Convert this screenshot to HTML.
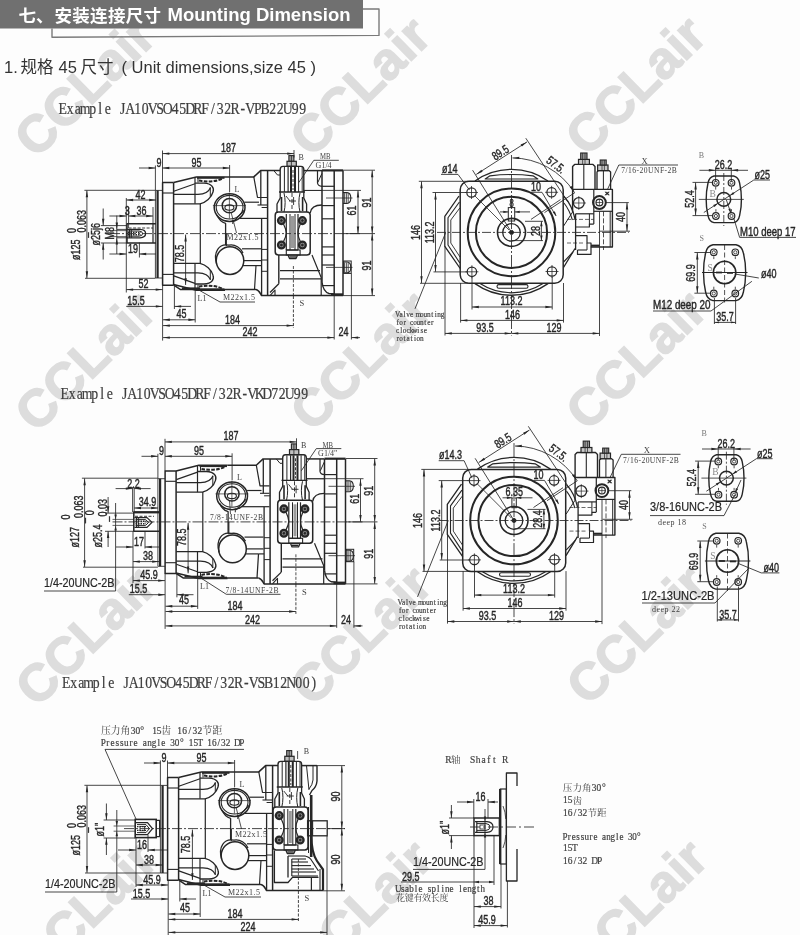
<!DOCTYPE html>
<html><head><meta charset="utf-8"><title>Mounting Dimension</title>
<style>html,body{margin:0;padding:0;background:#fdfdfd}svg{display:block;will-change:transform;filter:grayscale(1)}</style></head>
<body><svg width="800" height="935" viewBox="0 0 800 935">
<rect width="800" height="935" fill="#fdfdfd"/>
<text transform="translate(-240.0,-114.2) rotate(-44.5)" font-family="'Liberation Sans', sans-serif" font-weight="bold" font-size="52" fill="#dddddd" stroke="#dddddd" stroke-width="1.5" textLength="171" lengthAdjust="spacingAndGlyphs">CCLair</text>
<text transform="translate(35.5,-115.0) rotate(-44.5)" font-family="'Liberation Sans', sans-serif" font-weight="bold" font-size="52" fill="#dddddd" stroke="#dddddd" stroke-width="1.5" textLength="171" lengthAdjust="spacingAndGlyphs">CCLair</text>
<text transform="translate(311.0,-115.8) rotate(-44.5)" font-family="'Liberation Sans', sans-serif" font-weight="bold" font-size="52" fill="#dddddd" stroke="#dddddd" stroke-width="1.5" textLength="171" lengthAdjust="spacingAndGlyphs">CCLair</text>
<text transform="translate(586.5,-116.5) rotate(-44.5)" font-family="'Liberation Sans', sans-serif" font-weight="bold" font-size="52" fill="#dddddd" stroke="#dddddd" stroke-width="1.5" textLength="171" lengthAdjust="spacingAndGlyphs">CCLair</text>
<text transform="translate(862.0,-117.2) rotate(-44.5)" font-family="'Liberation Sans', sans-serif" font-weight="bold" font-size="52" fill="#dddddd" stroke="#dddddd" stroke-width="1.5" textLength="171" lengthAdjust="spacingAndGlyphs">CCLair</text>
<text transform="translate(-239.5,160.2) rotate(-44.5)" font-family="'Liberation Sans', sans-serif" font-weight="bold" font-size="52" fill="#dddddd" stroke="#dddddd" stroke-width="1.5" textLength="171" lengthAdjust="spacingAndGlyphs">CCLair</text>
<text transform="translate(36.0,159.5) rotate(-44.5)" font-family="'Liberation Sans', sans-serif" font-weight="bold" font-size="52" fill="#dddddd" stroke="#dddddd" stroke-width="1.5" textLength="171" lengthAdjust="spacingAndGlyphs">CCLair</text>
<text transform="translate(311.5,158.8) rotate(-44.5)" font-family="'Liberation Sans', sans-serif" font-weight="bold" font-size="52" fill="#dddddd" stroke="#dddddd" stroke-width="1.5" textLength="171" lengthAdjust="spacingAndGlyphs">CCLair</text>
<text transform="translate(587.0,158.0) rotate(-44.5)" font-family="'Liberation Sans', sans-serif" font-weight="bold" font-size="52" fill="#dddddd" stroke="#dddddd" stroke-width="1.5" textLength="171" lengthAdjust="spacingAndGlyphs">CCLair</text>
<text transform="translate(862.5,157.2) rotate(-44.5)" font-family="'Liberation Sans', sans-serif" font-weight="bold" font-size="52" fill="#dddddd" stroke="#dddddd" stroke-width="1.5" textLength="171" lengthAdjust="spacingAndGlyphs">CCLair</text>
<text transform="translate(-239.0,434.8) rotate(-44.5)" font-family="'Liberation Sans', sans-serif" font-weight="bold" font-size="52" fill="#dddddd" stroke="#dddddd" stroke-width="1.5" textLength="171" lengthAdjust="spacingAndGlyphs">CCLair</text>
<text transform="translate(36.5,434.0) rotate(-44.5)" font-family="'Liberation Sans', sans-serif" font-weight="bold" font-size="52" fill="#dddddd" stroke="#dddddd" stroke-width="1.5" textLength="171" lengthAdjust="spacingAndGlyphs">CCLair</text>
<text transform="translate(312.0,433.2) rotate(-44.5)" font-family="'Liberation Sans', sans-serif" font-weight="bold" font-size="52" fill="#dddddd" stroke="#dddddd" stroke-width="1.5" textLength="171" lengthAdjust="spacingAndGlyphs">CCLair</text>
<text transform="translate(587.5,432.5) rotate(-44.5)" font-family="'Liberation Sans', sans-serif" font-weight="bold" font-size="52" fill="#dddddd" stroke="#dddddd" stroke-width="1.5" textLength="171" lengthAdjust="spacingAndGlyphs">CCLair</text>
<text transform="translate(863.0,431.8) rotate(-44.5)" font-family="'Liberation Sans', sans-serif" font-weight="bold" font-size="52" fill="#dddddd" stroke="#dddddd" stroke-width="1.5" textLength="171" lengthAdjust="spacingAndGlyphs">CCLair</text>
<text transform="translate(-238.5,709.2) rotate(-44.5)" font-family="'Liberation Sans', sans-serif" font-weight="bold" font-size="52" fill="#dddddd" stroke="#dddddd" stroke-width="1.5" textLength="171" lengthAdjust="spacingAndGlyphs">CCLair</text>
<text transform="translate(37.0,708.5) rotate(-44.5)" font-family="'Liberation Sans', sans-serif" font-weight="bold" font-size="52" fill="#dddddd" stroke="#dddddd" stroke-width="1.5" textLength="171" lengthAdjust="spacingAndGlyphs">CCLair</text>
<text transform="translate(312.5,707.8) rotate(-44.5)" font-family="'Liberation Sans', sans-serif" font-weight="bold" font-size="52" fill="#dddddd" stroke="#dddddd" stroke-width="1.5" textLength="171" lengthAdjust="spacingAndGlyphs">CCLair</text>
<text transform="translate(588.0,707.0) rotate(-44.5)" font-family="'Liberation Sans', sans-serif" font-weight="bold" font-size="52" fill="#dddddd" stroke="#dddddd" stroke-width="1.5" textLength="171" lengthAdjust="spacingAndGlyphs">CCLair</text>
<text transform="translate(863.5,706.2) rotate(-44.5)" font-family="'Liberation Sans', sans-serif" font-weight="bold" font-size="52" fill="#dddddd" stroke="#dddddd" stroke-width="1.5" textLength="171" lengthAdjust="spacingAndGlyphs">CCLair</text>
<text transform="translate(-238.0,983.8) rotate(-44.5)" font-family="'Liberation Sans', sans-serif" font-weight="bold" font-size="52" fill="#dddddd" stroke="#dddddd" stroke-width="1.5" textLength="171" lengthAdjust="spacingAndGlyphs">CCLair</text>
<text transform="translate(37.5,983.0) rotate(-44.5)" font-family="'Liberation Sans', sans-serif" font-weight="bold" font-size="52" fill="#dddddd" stroke="#dddddd" stroke-width="1.5" textLength="171" lengthAdjust="spacingAndGlyphs">CCLair</text>
<text transform="translate(313.0,982.2) rotate(-44.5)" font-family="'Liberation Sans', sans-serif" font-weight="bold" font-size="52" fill="#dddddd" stroke="#dddddd" stroke-width="1.5" textLength="171" lengthAdjust="spacingAndGlyphs">CCLair</text>
<text transform="translate(588.5,981.5) rotate(-44.5)" font-family="'Liberation Sans', sans-serif" font-weight="bold" font-size="52" fill="#dddddd" stroke="#dddddd" stroke-width="1.5" textLength="171" lengthAdjust="spacingAndGlyphs">CCLair</text>
<text transform="translate(864.0,980.8) rotate(-44.5)" font-family="'Liberation Sans', sans-serif" font-weight="bold" font-size="52" fill="#dddddd" stroke="#dddddd" stroke-width="1.5" textLength="171" lengthAdjust="spacingAndGlyphs">CCLair</text>
<text transform="translate(-237.5,1258.2) rotate(-44.5)" font-family="'Liberation Sans', sans-serif" font-weight="bold" font-size="52" fill="#dddddd" stroke="#dddddd" stroke-width="1.5" textLength="171" lengthAdjust="spacingAndGlyphs">CCLair</text>
<text transform="translate(38.0,1257.5) rotate(-44.5)" font-family="'Liberation Sans', sans-serif" font-weight="bold" font-size="52" fill="#dddddd" stroke="#dddddd" stroke-width="1.5" textLength="171" lengthAdjust="spacingAndGlyphs">CCLair</text>
<text transform="translate(313.5,1256.8) rotate(-44.5)" font-family="'Liberation Sans', sans-serif" font-weight="bold" font-size="52" fill="#dddddd" stroke="#dddddd" stroke-width="1.5" textLength="171" lengthAdjust="spacingAndGlyphs">CCLair</text>
<text transform="translate(589.0,1256.0) rotate(-44.5)" font-family="'Liberation Sans', sans-serif" font-weight="bold" font-size="52" fill="#dddddd" stroke="#dddddd" stroke-width="1.5" textLength="171" lengthAdjust="spacingAndGlyphs">CCLair</text>
<text transform="translate(864.5,1255.2) rotate(-44.5)" font-family="'Liberation Sans', sans-serif" font-weight="bold" font-size="52" fill="#dddddd" stroke="#dddddd" stroke-width="1.5" textLength="171" lengthAdjust="spacingAndGlyphs">CCLair</text>
<rect x="0.00" y="0.00" width="363.00" height="28.50" rx="0.00" fill="#707070" stroke="none" stroke-width="0.00"/>
<polyline points="52.00,28.50 52.00,37.20 379.00,35.40 379.00,9.00 363.00,9.00" fill="none" stroke="#7a7a7a" stroke-width="1.40" stroke-linejoin="round"/>
<text x="18.5" y="21.5" font-family="'Liberation Sans', 'Noto Sans CJK SC', sans-serif" font-weight="bold" font-size="17.5" fill="#fff">七</text>
<text x="36" y="21.5" font-family="'Liberation Sans', 'Noto Sans CJK SC', sans-serif" font-weight="bold" font-size="17.5" fill="#fff">、</text>
<text x="54.5 72.3 90.1 107.9 125.7 143.5" y="21.5" font-family="'Liberation Sans', 'Noto Sans CJK SC', sans-serif" font-weight="bold" font-size="17.5" fill="#fff">安装连接尺寸</text>
<text x="167.5" y="21.3" font-family="'Liberation Sans', sans-serif" font-weight="bold" font-size="18" fill="#fff" textLength="183" lengthAdjust="spacingAndGlyphs">Mounting Dimension</text>
<text x="4" y="72.5" font-family="'Liberation Sans', sans-serif" font-size="16.5" fill="#333">1.</text>
<text x="20.5 37" y="73" font-family="'Liberation Sans', 'Noto Sans CJK SC', sans-serif" font-size="16.5" fill="#333">规格</text>
<text x="58.5" y="72.5" font-family="'Liberation Sans', sans-serif" font-size="16.5" fill="#333">45</text>
<text x="80.5 97" y="73" font-family="'Liberation Sans', 'Noto Sans CJK SC', sans-serif" font-size="16.5" fill="#333">尺寸</text>
<text x="121.5" y="72.5" font-family="'Liberation Sans', sans-serif" font-size="16.5" fill="#333" textLength="194.5" lengthAdjust="spacingAndGlyphs">( Unit dimensions,size 45 )</text>
<text transform="translate(59.00,114.00) scale(1,1.140)" x="3.8 11.2 18.8 26.2 33.8 41.2 48.8 56.2 63.8 71.2 78.8 86.2 93.8 101.2 108.8 116.2 123.8 131.2 138.8 146.2 153.8 161.2 168.8 176.2 183.8 191.2 198.8 206.2 213.8 221.2 228.8 236.2 243.8" text-anchor="middle" font-family="'Liberation Serif', serif" font-size="13.75" fill="#3e3e3e" stroke="#3e3e3e" stroke-width="0.18">Example JA10VSO45DRF/32R-VPB22U99</text>
<text transform="translate(61.00,398.50) scale(1,1.140)" x="3.8 11.2 18.8 26.2 33.8 41.2 48.8 56.2 63.8 71.2 78.8 86.2 93.8 101.2 108.8 116.2 123.8 131.2 138.8 146.2 153.8 161.2 168.8 176.2 183.8 191.2 198.8 206.2 213.8 221.2 228.8 236.2 243.8" text-anchor="middle" font-family="'Liberation Serif', serif" font-size="13.75" fill="#3e3e3e" stroke="#3e3e3e" stroke-width="0.18">Example JA10VSO45DRF/32R-VKD72U99</text>
<text transform="translate(62.50,687.50) scale(1,1.140)" x="3.8 11.2 18.8 26.2 33.8 41.2 48.8 56.2 63.8 71.2 78.8 86.2 93.8 101.2 108.8 116.2 123.8 131.2 138.8 146.2 153.8 161.2 168.8 176.2 183.8 191.2 198.8 206.2 213.8 221.2 228.8 236.2 243.8 251.2" text-anchor="middle" font-family="'Liberation Serif', serif" font-size="13.75" fill="#3e3e3e" stroke="#3e3e3e" stroke-width="0.18">Example JA10VSO45DRF/32R-VSB12N00)</text>
<line x1="155.40" y1="190.40" x2="155.40" y2="278.00" stroke="#262626" stroke-width="0.85"/>
<line x1="157.60" y1="190.40" x2="157.60" y2="278.00" stroke="#262626" stroke-width="2.20"/>
<line x1="155.40" y1="190.40" x2="162.50" y2="190.40" stroke="#262626" stroke-width="0.85"/>
<line x1="155.40" y1="278.00" x2="162.50" y2="278.00" stroke="#262626" stroke-width="0.85"/>
<polyline points="173.60,182.60 162.60,182.60 162.60,285.20 173.60,285.20" fill="none" stroke="#262626" stroke-width="1.50" stroke-linejoin="round"/>
<line x1="173.60" y1="182.60" x2="173.60" y2="285.20" stroke="#262626" stroke-width="1.50"/>
<line x1="162.60" y1="193.00" x2="173.60" y2="193.00" stroke="#262626" stroke-width="1.10"/>
<line x1="162.60" y1="274.40" x2="173.60" y2="274.40" stroke="#262626" stroke-width="1.10"/>
<polyline points="173.60,182.60 196.30,176.90 225.00,176.90" fill="none" stroke="#262626" stroke-width="1.50" stroke-linejoin="round"/>
<line x1="173.80" y1="191.30" x2="195.00" y2="183.80" stroke="#262626" stroke-width="1.20"/>
<line x1="195.00" y1="177.20" x2="195.00" y2="203.80" stroke="#262626" stroke-width="1.20"/>
<line x1="198.00" y1="177.20" x2="198.00" y2="182.50" stroke="#262626" stroke-width="1.00"/>
<path transform="translate(0.00,0.00)" d="M195 183.20 H204 C212 183.60 214.5 188.00 213 192.00 C211.5 197.50 206 202.50 200 203.80 H173.8" fill="none" stroke="#262626" stroke-width="1.30" stroke-linecap="butt" stroke-linejoin="round"/>
<path transform="translate(0.00,0.00)" d="M173.8 194.40 H198 C205 194.20 209 191.50 210.5 187.50" fill="none" stroke="#262626" stroke-width="1.20" stroke-linecap="butt" stroke-linejoin="round"/>
<line x1="210.30" y1="187.50" x2="210.30" y2="197.00" stroke="#262626" stroke-width="1.00"/>
<line x1="200.30" y1="203.80" x2="200.30" y2="233.60" stroke="#262626" stroke-width="1.20"/>
<polyline points="173.60,284.60 196.30,290.30 225.00,290.30" fill="none" stroke="#262626" stroke-width="1.50" stroke-linejoin="round"/>
<line x1="173.80" y1="275.90" x2="195.00" y2="283.40" stroke="#262626" stroke-width="1.20"/>
<line x1="195.00" y1="290.00" x2="195.00" y2="263.40" stroke="#262626" stroke-width="1.20"/>
<line x1="198.00" y1="290.00" x2="198.00" y2="284.70" stroke="#262626" stroke-width="1.00"/>
<path transform="translate(0.00,0.00)" d="M195 284.00 H204 C212 283.60 214.5 279.20 213 275.20 C211.5 269.70 206 264.70 200 263.40 H173.8" fill="none" stroke="#262626" stroke-width="1.30" stroke-linecap="butt" stroke-linejoin="round"/>
<path transform="translate(0.00,0.00)" d="M173.8 272.80 H198 C205 273.00 209 275.70 210.5 279.70" fill="none" stroke="#262626" stroke-width="1.20" stroke-linecap="butt" stroke-linejoin="round"/>
<line x1="210.30" y1="279.70" x2="210.30" y2="270.20" stroke="#262626" stroke-width="1.00"/>
<line x1="200.30" y1="263.40" x2="200.30" y2="233.60" stroke="#262626" stroke-width="1.20"/>
<path transform="translate(0.00,0.00)" d="M197 177.8 H224.5" fill="none" stroke="#262626" stroke-width="2.00" stroke-linecap="butt" stroke-linejoin="round"/>
<path transform="translate(0.00,0.00)" d="M199 180.6 C206 182 216 182 222.5 178.4" fill="none" stroke="#262626" stroke-width="2.00" stroke-linecap="butt" stroke-linejoin="round" stroke-dasharray="3.6 1.3"/>
<path transform="translate(0.00,0.00)" d="M197 289.4 H224.5" fill="none" stroke="#262626" stroke-width="2.00" stroke-linecap="butt" stroke-linejoin="round"/>
<path transform="translate(0.00,0.00)" d="M199 286.6 C206 285.2 216 285.2 222.5 288.8" fill="none" stroke="#262626" stroke-width="2.00" stroke-linecap="butt" stroke-linejoin="round" stroke-dasharray="3.6 1.3"/>
<line x1="110.00" y1="233.60" x2="361.00" y2="233.60" stroke="#262626" stroke-width="0.85" stroke-dasharray="10 2 2 2"/>
<ellipse cx="229.60" cy="207.60" rx="15.40" ry="13.80" fill="none" stroke="#262626" stroke-width="1.50"/>
<ellipse cx="229.60" cy="207.20" rx="13.40" ry="11.80" fill="none" stroke="#262626" stroke-width="1.10"/>
<circle cx="229.40" cy="205.60" r="7.20" fill="none" stroke="#262626" stroke-width="1.50"/>
<ellipse cx="229.40" cy="207.60" rx="4.50" ry="2.70" fill="none" stroke="#262626" stroke-width="1.10"/>
<line x1="212.90" y1="205.60" x2="245.90" y2="205.60" stroke="#262626" stroke-width="0.70"/>
<line x1="229.40" y1="192.60" x2="229.40" y2="218.60" stroke="#262626" stroke-width="0.70"/>
<path transform="translate(0.00,0.00)" d="M217 215 C219 220 222.5 222.5 225.6 223.4 V245.10" fill="none" stroke="#262626" stroke-width="1.30" stroke-linecap="butt" stroke-linejoin="round"/>
<path transform="translate(0.00,0.00)" d="M244 210.5 L233.5 221.5" fill="none" stroke="#262626" stroke-width="1.20" stroke-linecap="butt" stroke-linejoin="round"/>
<line x1="232.80" y1="220.00" x2="232.80" y2="224.00" stroke="#262626" stroke-width="1.00"/>
<line x1="244.60" y1="202.20" x2="259.00" y2="202.20" stroke="#262626" stroke-width="1.20"/>
<line x1="239.50" y1="218.40" x2="267.00" y2="218.40" stroke="#262626" stroke-width="1.20"/>
<circle cx="230.00" cy="260.60" r="13.80" fill="none" stroke="#262626" stroke-width="1.50"/>
<path transform="translate(0.00,0.00)" d="M216.6 264 C213 252 219 243 229 245.2 C235 244 241 248 243 253" fill="none" stroke="#262626" stroke-width="1.30" stroke-linecap="butt" stroke-linejoin="round"/>
<line x1="242.00" y1="248.80" x2="261.00" y2="248.80" stroke="#262626" stroke-width="1.20"/>
<line x1="244.00" y1="260.60" x2="261.00" y2="260.60" stroke="#262626" stroke-width="1.20"/>
<line x1="243.00" y1="265.60" x2="256.00" y2="265.60" stroke="#262626" stroke-width="1.20"/>
<line x1="226.30" y1="233.60" x2="226.30" y2="246.00" stroke="#262626" stroke-width="1.20"/>
<polyline points="173.80,285.20 180.60,289.60 256.00,289.60" fill="none" stroke="#262626" stroke-width="1.50" stroke-linejoin="round"/>
<line x1="182.00" y1="288.20" x2="200.00" y2="288.20" stroke="#262626" stroke-width="1.60"/>
<polyline points="225.00,176.90 253.80,176.90 260.60,170.60 280.00,170.60" fill="none" stroke="#262626" stroke-width="1.50" stroke-linejoin="round"/>
<line x1="303.80" y1="170.60" x2="322.00" y2="170.60" stroke="#262626" stroke-width="1.50"/>
<line x1="322.00" y1="170.40" x2="343.00" y2="170.40" stroke="#262626" stroke-width="2.20"/>
<polyline points="253.80,176.90 257.50,197.50 267.00,197.50" fill="none" stroke="#262626" stroke-width="1.20" stroke-linejoin="round"/>
<line x1="257.50" y1="205.00" x2="267.00" y2="205.00" stroke="#262626" stroke-width="1.10"/>
<line x1="260.80" y1="170.60" x2="260.80" y2="205.00" stroke="#262626" stroke-width="1.30"/>
<line x1="261.60" y1="218.80" x2="261.60" y2="295.60" stroke="#262626" stroke-width="1.30"/>
<line x1="267.60" y1="170.60" x2="267.60" y2="295.60" stroke="#262626" stroke-width="1.50"/>
<polyline points="273.80,170.60 277.50,175.00 280.00,175.00" fill="none" stroke="#262626" stroke-width="1.00" stroke-linejoin="round"/>
<line x1="261.60" y1="207.50" x2="267.60" y2="207.50" stroke="#262626" stroke-width="1.00"/>
<line x1="261.60" y1="249.40" x2="267.60" y2="249.40" stroke="#262626" stroke-width="1.00"/>
<line x1="261.60" y1="260.00" x2="267.60" y2="260.00" stroke="#262626" stroke-width="1.00"/>
<line x1="261.60" y1="271.30" x2="267.60" y2="271.30" stroke="#262626" stroke-width="1.00"/>
<line x1="256.00" y1="265.60" x2="261.60" y2="265.60" stroke="#262626" stroke-width="1.20"/>
<polyline points="256.00,265.60 254.50,289.60" fill="none" stroke="#262626" stroke-width="1.20" stroke-linejoin="round"/>
<path transform="translate(0.00,0.00)" d="M317.5 170.6 V183 Q318 186 322 186.4" fill="none" stroke="#262626" stroke-width="1.20" stroke-linecap="butt" stroke-linejoin="round"/>
<line x1="321.90" y1="173.50" x2="317.80" y2="182.50" stroke="#262626" stroke-width="1.00"/>
<line x1="303.80" y1="190.50" x2="322.00" y2="190.50" stroke="#262626" stroke-width="0.85"/>
<path transform="translate(0.00,0.00)" d="M310.2 213 C311 207 315 205 322 205" fill="none" stroke="#262626" stroke-width="1.30" stroke-linecap="butt" stroke-linejoin="round"/>
<line x1="322.00" y1="170.60" x2="322.00" y2="282.00" stroke="#262626" stroke-width="1.50"/>
<line x1="334.20" y1="170.60" x2="334.20" y2="295.60" stroke="#262626" stroke-width="1.50"/>
<line x1="343.00" y1="170.60" x2="343.00" y2="295.60" stroke="#262626" stroke-width="1.50"/>
<line x1="322.00" y1="186.30" x2="334.20" y2="186.30" stroke="#262626" stroke-width="1.20"/>
<line x1="322.00" y1="205.60" x2="334.20" y2="205.60" stroke="#262626" stroke-width="1.20"/>
<line x1="322.00" y1="218.80" x2="334.20" y2="218.80" stroke="#262626" stroke-width="1.20"/>
<line x1="322.00" y1="246.90" x2="334.20" y2="246.90" stroke="#262626" stroke-width="1.20"/>
<line x1="322.00" y1="255.00" x2="334.20" y2="255.00" stroke="#262626" stroke-width="1.20"/>
<line x1="322.00" y1="265.00" x2="334.20" y2="265.00" stroke="#262626" stroke-width="1.20"/>
<line x1="322.00" y1="285.60" x2="334.20" y2="285.60" stroke="#262626" stroke-width="1.20"/>
<path transform="translate(0.00,0.00)" d="M322 282 Q323 291.5 329 293.5 L334.2 294" fill="none" stroke="#262626" stroke-width="1.40" stroke-linecap="butt" stroke-linejoin="round"/>
<polyline points="312.00,255.00 321.20,277.50 321.20,295.60" fill="none" stroke="#262626" stroke-width="1.20" stroke-linejoin="round"/>
<line x1="278.80" y1="255.00" x2="278.80" y2="283.80" stroke="#262626" stroke-width="1.40"/>
<polyline points="278.80,283.80 270.00,292.50" fill="none" stroke="#262626" stroke-width="1.30" stroke-linejoin="round"/>
<polyline points="270.00,295.60 275.00,290.00 275.00,295.60" fill="none" stroke="#262626" stroke-width="1.10" stroke-linejoin="round"/>
<line x1="280.00" y1="270.60" x2="320.00" y2="270.60" stroke="#262626" stroke-width="1.20"/>
<line x1="280.00" y1="278.80" x2="321.00" y2="278.80" stroke="#262626" stroke-width="1.20"/>
<path transform="translate(0.00,0.00)" d="M256 289.6 C259 290 260 293 261.6 295.6 H343" fill="none" stroke="#262626" stroke-width="1.50" stroke-linecap="butt" stroke-linejoin="round"/>
<line x1="331.00" y1="294.60" x2="343.00" y2="294.60" stroke="#262626" stroke-width="2.60"/>
<path transform="translate(0.00,0.00)" d="M343 192.60 H347 Q350.8 192.80 350.8 198.00 Q350.8 203.20 347 203.40 H343" fill="none" stroke="#262626" stroke-width="1.10" stroke-linecap="butt" stroke-linejoin="round"/>
<line x1="344.60" y1="193.20" x2="344.60" y2="202.80" stroke="#262626" stroke-width="0.80"/>
<line x1="346.40" y1="193.20" x2="346.40" y2="202.80" stroke="#262626" stroke-width="0.80"/>
<line x1="348.20" y1="193.20" x2="348.20" y2="202.80" stroke="#262626" stroke-width="0.80"/>
<line x1="326.00" y1="198.00" x2="352.50" y2="198.00" stroke="#262626" stroke-width="0.80"/>
<path transform="translate(0.00,0.00)" d="M343 262.00 H347 Q350.8 262.20 350.8 267.40 Q350.8 272.60 347 272.80 H343" fill="none" stroke="#262626" stroke-width="1.10" stroke-linecap="butt" stroke-linejoin="round"/>
<line x1="344.60" y1="262.60" x2="344.60" y2="272.20" stroke="#262626" stroke-width="0.80"/>
<line x1="346.40" y1="262.60" x2="346.40" y2="272.20" stroke="#262626" stroke-width="0.80"/>
<line x1="348.20" y1="262.60" x2="348.20" y2="272.20" stroke="#262626" stroke-width="0.80"/>
<line x1="326.00" y1="267.40" x2="352.50" y2="267.40" stroke="#262626" stroke-width="0.80"/>
<rect x="343.60" y="261.00" width="7.60" height="12.40" rx="0.00" fill="none" stroke="#262626" stroke-width="1.00"/>
<line x1="293.40" y1="266.00" x2="293.40" y2="296.00" stroke="#262626" stroke-width="0.80" stroke-dasharray="3 1.5"/>
<rect x="288.90" y="155.60" width="5.00" height="5.80" rx="0.00" fill="#a0a0a0" stroke="#262626" stroke-width="1.10"/>
<rect x="287.00" y="161.30" width="9.30" height="5.00" rx="0.00" fill="#c0c0c0" stroke="#262626" stroke-width="1.20"/>
<line x1="291.40" y1="155.60" x2="291.40" y2="166.00" stroke="#262626" stroke-width="0.80"/>
<path transform="translate(0.00,0.00)" d="M280.20 192 V169.5 Q280.20 166.4 283.00 166.4 H301.00 Q303.80 166.4 303.80 169.5 V192" fill="none" stroke="#262626" stroke-width="1.40" stroke-linecap="butt" stroke-linejoin="round"/>
<line x1="284.40" y1="167.00" x2="284.40" y2="192.00" stroke="#262626" stroke-width="1.00"/>
<line x1="288.10" y1="167.00" x2="288.10" y2="192.00" stroke="#262626" stroke-width="1.20"/>
<line x1="291.00" y1="167.00" x2="291.00" y2="192.00" stroke="#262626" stroke-width="2.00"/>
<line x1="295.00" y1="167.00" x2="295.00" y2="192.00" stroke="#262626" stroke-width="2.00"/>
<line x1="298.60" y1="167.00" x2="298.60" y2="192.00" stroke="#262626" stroke-width="1.00"/>
<line x1="302.20" y1="167.00" x2="302.20" y2="192.00" stroke="#262626" stroke-width="0.90"/>
<line x1="293.00" y1="170.00" x2="293.00" y2="190.00" stroke="#262626" stroke-width="0.90" stroke-dasharray="3 1.5"/>
<path transform="translate(0.00,0.00)" d="M279.00 192 H305.00 M280.20 192 V198 L277.00 204 V212 M303.80 192 V198 L306.60 204 V212" fill="none" stroke="#262626" stroke-width="1.30" stroke-linecap="butt" stroke-linejoin="round"/>
<path transform="translate(0.00,0.00)" d="M284.00 193 C285.50 199 285.50 206 284.00 212 M300.00 193 C298.50 199 298.50 206 300.00 212" fill="none" stroke="#262626" stroke-width="1.00" stroke-linecap="butt" stroke-linejoin="round"/>
<line x1="281.50" y1="197.00" x2="281.50" y2="211.00" stroke="#262626" stroke-width="1.60"/>
<line x1="302.60" y1="197.00" x2="302.60" y2="211.00" stroke="#262626" stroke-width="1.60"/>
<line x1="292.00" y1="193.00" x2="292.00" y2="211.00" stroke="#262626" stroke-width="0.90" stroke-dasharray="4 2"/>
<path transform="translate(0.00,0.00)" d="M286.00 196 L290.00 201 M289.00 201 H296.00 M293.60 197 V205" fill="none" stroke="#262626" stroke-width="0.90" stroke-linecap="butt" stroke-linejoin="round"/>
<rect x="275.20" y="212.00" width="35.00" height="43.00" rx="3.20" fill="none" stroke="#262626" stroke-width="1.50"/>
<circle cx="281.40" cy="220.60" r="3.40" fill="#8a8a8a" stroke="#262626" stroke-width="2.30"/>
<circle cx="281.40" cy="220.60" r="1.00" fill="#262626" stroke="#262626" stroke-width="0.80"/>
<circle cx="302.40" cy="220.60" r="3.40" fill="#8a8a8a" stroke="#262626" stroke-width="2.30"/>
<circle cx="302.40" cy="220.60" r="1.00" fill="#262626" stroke="#262626" stroke-width="0.80"/>
<circle cx="281.40" cy="245.00" r="3.40" fill="#8a8a8a" stroke="#262626" stroke-width="2.30"/>
<circle cx="281.40" cy="245.00" r="1.00" fill="#262626" stroke="#262626" stroke-width="0.80"/>
<circle cx="302.40" cy="245.00" r="3.40" fill="#8a8a8a" stroke="#262626" stroke-width="2.30"/>
<circle cx="302.40" cy="245.00" r="1.00" fill="#262626" stroke="#262626" stroke-width="0.80"/>
<line x1="286.30" y1="214.00" x2="286.30" y2="250.00" stroke="#262626" stroke-width="1.20"/>
<line x1="290.00" y1="214.00" x2="290.00" y2="250.00" stroke="#262626" stroke-width="1.00"/>
<line x1="295.00" y1="214.00" x2="295.00" y2="250.00" stroke="#262626" stroke-width="1.00"/>
<line x1="298.00" y1="214.00" x2="298.00" y2="250.00" stroke="#262626" stroke-width="1.20"/>
<rect x="291.00" y="216.00" width="3.00" height="32.00" rx="0.00" fill="#9a9a9a" stroke="none" stroke-width="0.00"/>
<path transform="translate(0.00,0.00)" d="M283.50 224 Q286.00 229 286.30 233 M300.30 224 Q298.00 229 298.00 233 M283.50 241.6 Q286.00 237 286.30 233 M300.30 241.6 Q298.00 237 298.00 233" fill="none" stroke="#262626" stroke-width="1.20" stroke-linecap="butt" stroke-linejoin="round"/>
<line x1="286.30" y1="250.00" x2="298.00" y2="250.00" stroke="#262626" stroke-width="1.20"/>
<rect x="286.30" y="250.00" width="13.80" height="5.00" rx="0.00" fill="none" stroke="#262626" stroke-width="1.10"/>
<path transform="translate(0.00,0.00)" d="M288.00 255 L289.50 258.6 H296.00 L297.60 255" fill="none" stroke="#262626" stroke-width="1.30" stroke-linecap="butt" stroke-linejoin="round"/>
<line x1="289.50" y1="257.00" x2="296.00" y2="257.00" stroke="#262626" stroke-width="1.40"/>
<line x1="162.50" y1="150.50" x2="162.50" y2="182.60" stroke="#262626" stroke-width="0.85"/>
<line x1="294.00" y1="150.00" x2="294.00" y2="157.50" stroke="#262626" stroke-width="0.85"/>
<line x1="162.50" y1="153.60" x2="294.00" y2="153.60" stroke="#262626" stroke-width="0.85"/>
<polygon points="162.50,153.60 169.30,152.40 169.30,154.80" fill="#262626"/>
<polygon points="294.00,153.60 287.20,154.80 287.20,152.40" fill="#262626"/>
<text transform="translate(228.50,152.00) scale(0.7500,1.0000)" font-family="'Liberation Sans', sans-serif" font-size="12.00" font-weight="normal" text-anchor="middle" fill="#262626" stroke="#262626" stroke-width="0.40">187</text>
<line x1="155.40" y1="165.50" x2="155.40" y2="190.40" stroke="#262626" stroke-width="0.85"/>
<line x1="229.60" y1="165.00" x2="229.60" y2="192.00" stroke="#262626" stroke-width="0.85"/>
<line x1="139.00" y1="168.00" x2="155.40" y2="168.00" stroke="#262626" stroke-width="0.85"/>
<polygon points="155.40,168.00 148.60,169.20 148.60,166.80" fill="#262626"/>
<line x1="162.50" y1="168.00" x2="229.60" y2="168.00" stroke="#262626" stroke-width="0.85"/>
<polygon points="162.50,168.00 169.30,166.80 169.30,169.20" fill="#262626"/>
<polygon points="229.60,168.00 222.80,169.20 222.80,166.80" fill="#262626"/>
<text transform="translate(159.00,167.00) scale(0.7500,1.0000)" font-family="'Liberation Sans', sans-serif" font-size="12.00" font-weight="normal" text-anchor="middle" fill="#262626" stroke="#262626" stroke-width="0.40">9</text>
<text transform="translate(196.50,166.60) scale(0.7500,1.0000)" font-family="'Liberation Sans', sans-serif" font-size="12.00" font-weight="normal" text-anchor="middle" fill="#262626" stroke="#262626" stroke-width="0.40">95</text>
<line x1="185.60" y1="234.60" x2="185.60" y2="285.00" stroke="#262626" stroke-width="0.85"/>
<polygon points="185.60,234.60 186.80,241.40 184.40,241.40" fill="#262626"/>
<polygon points="185.60,285.00 184.40,278.20 186.80,278.20" fill="#262626"/>
<text transform="translate(183.60,253.50) rotate(-90.00) scale(0.7500,1.0000)" font-family="'Liberation Sans', sans-serif" font-size="12.00" font-weight="normal" text-anchor="middle" fill="#262626" stroke="#262626" stroke-width="0.40">78.5</text>
<line x1="162.60" y1="285.20" x2="162.60" y2="340.60" stroke="#262626" stroke-width="0.85"/>
<line x1="174.40" y1="285.20" x2="174.40" y2="309.00" stroke="#262626" stroke-width="0.85"/>
<line x1="126.30" y1="306.40" x2="162.60" y2="306.40" stroke="#262626" stroke-width="0.85"/>
<polygon points="162.60,306.40 155.80,307.60 155.80,305.20" fill="#262626"/>
<line x1="174.40" y1="306.40" x2="191.00" y2="306.40" stroke="#262626" stroke-width="0.85"/>
<polygon points="174.40,306.40 181.20,305.20 181.20,307.60" fill="#262626"/>
<text transform="translate(136.00,305.00) scale(0.7500,1.0000)" font-family="'Liberation Sans', sans-serif" font-size="12.00" font-weight="normal" text-anchor="middle" fill="#262626" stroke="#262626" stroke-width="0.40">15.5</text>
<line x1="195.20" y1="289.60" x2="195.20" y2="322.50" stroke="#262626" stroke-width="0.85"/>
<line x1="163.00" y1="319.80" x2="195.20" y2="319.80" stroke="#262626" stroke-width="0.85"/>
<polygon points="163.00,319.80 169.80,318.60 169.80,321.00" fill="#262626"/>
<polygon points="195.20,319.80 188.40,321.00 188.40,318.60" fill="#262626"/>
<text transform="translate(181.50,317.60) scale(0.7500,1.0000)" font-family="'Liberation Sans', sans-serif" font-size="12.00" font-weight="normal" text-anchor="middle" fill="#262626" stroke="#262626" stroke-width="0.40">45</text>
<line x1="293.40" y1="296.00" x2="293.40" y2="328.00" stroke="#262626" stroke-width="0.85" stroke-dasharray="3 1.5"/>
<line x1="163.00" y1="325.60" x2="293.40" y2="325.60" stroke="#262626" stroke-width="0.85"/>
<polygon points="163.00,325.60 169.80,324.40 169.80,326.80" fill="#262626"/>
<polygon points="293.40,325.60 286.60,326.80 286.60,324.40" fill="#262626"/>
<text transform="translate(232.50,323.60) scale(0.7500,1.0000)" font-family="'Liberation Sans', sans-serif" font-size="12.00" font-weight="normal" text-anchor="middle" fill="#262626" stroke="#262626" stroke-width="0.40">184</text>
<text transform="translate(234.50,191.50)" font-family="'Liberation Serif', sans-serif" font-size="8.00" font-weight="normal" text-anchor="start" fill="#3e3e3e">L</text>
<text transform="translate(197.50,301.00)" font-family="'Liberation Serif', sans-serif" font-size="8.00" font-weight="normal" text-anchor="start" fill="#3e3e3e">L1</text>
<text transform="translate(299.40,306.30)" font-family="'Liberation Serif', sans-serif" font-size="8.50" font-weight="normal" text-anchor="start" fill="#3e3e3e">S</text>
<text transform="translate(298.60,160.00)" font-family="'Liberation Serif', sans-serif" font-size="8.00" font-weight="normal" text-anchor="start" fill="#3e3e3e">B</text>
<line x1="334.20" y1="295.60" x2="334.20" y2="339.50" stroke="#262626" stroke-width="0.85"/>
<line x1="351.40" y1="273.50" x2="351.40" y2="339.50" stroke="#262626" stroke-width="0.85"/>
<line x1="163.00" y1="337.60" x2="334.20" y2="337.60" stroke="#262626" stroke-width="0.85"/>
<polygon points="163.00,337.60 169.80,336.40 169.80,338.80" fill="#262626"/>
<polygon points="334.20,337.60 327.40,338.80 327.40,336.40" fill="#262626"/>
<text transform="translate(250.00,336.00) scale(0.7500,1.0000)" font-family="'Liberation Sans', sans-serif" font-size="12.00" font-weight="normal" text-anchor="middle" fill="#262626" stroke="#262626" stroke-width="0.40">242</text>
<line x1="351.40" y1="337.60" x2="360.00" y2="337.60" stroke="#262626" stroke-width="0.85"/>
<polygon points="351.40,337.60 358.20,336.40 358.20,338.80" fill="#262626"/>
<text transform="translate(343.50,336.00) scale(0.7500,1.0000)" font-family="'Liberation Sans', sans-serif" font-size="12.00" font-weight="normal" text-anchor="middle" fill="#262626" stroke="#262626" stroke-width="0.40">24</text>
<line x1="343.00" y1="170.20" x2="375.00" y2="170.20" stroke="#262626" stroke-width="0.85"/>
<line x1="343.00" y1="233.60" x2="375.00" y2="233.60" stroke="#262626" stroke-width="0.85"/>
<line x1="343.00" y1="295.60" x2="375.00" y2="295.60" stroke="#262626" stroke-width="0.85"/>
<line x1="303.80" y1="190.40" x2="361.00" y2="190.40" stroke="#262626" stroke-width="0.85"/>
<line x1="372.20" y1="170.40" x2="372.20" y2="233.40" stroke="#262626" stroke-width="0.85"/>
<polygon points="372.20,170.40 373.40,177.20 371.00,177.20" fill="#262626"/>
<polygon points="372.20,233.40 371.00,226.60 373.40,226.60" fill="#262626"/>
<line x1="372.20" y1="233.80" x2="372.20" y2="295.40" stroke="#262626" stroke-width="0.85"/>
<polygon points="372.20,233.80 373.40,240.60 371.00,240.60" fill="#262626"/>
<polygon points="372.20,295.40 371.00,288.60 373.40,288.60" fill="#262626"/>
<line x1="358.00" y1="190.60" x2="358.00" y2="233.40" stroke="#262626" stroke-width="0.85"/>
<polygon points="358.00,190.60 359.20,197.40 356.80,197.40" fill="#262626"/>
<polygon points="358.00,233.40 356.80,226.60 359.20,226.60" fill="#262626"/>
<text transform="translate(370.60,202.50) rotate(-90.00) scale(0.7500,1.0000)" font-family="'Liberation Sans', sans-serif" font-size="12.00" font-weight="normal" text-anchor="middle" fill="#262626" stroke="#262626" stroke-width="0.40">91</text>
<text transform="translate(370.60,265.50) rotate(-90.00) scale(0.7500,1.0000)" font-family="'Liberation Sans', sans-serif" font-size="12.00" font-weight="normal" text-anchor="middle" fill="#262626" stroke="#262626" stroke-width="0.40">91</text>
<text transform="translate(356.30,210.50) rotate(-90.00) scale(0.7500,1.0000)" font-family="'Liberation Sans', sans-serif" font-size="12.00" font-weight="normal" text-anchor="middle" fill="#262626" stroke="#262626" stroke-width="0.40">61</text>
<polyline points="298.80,182.50 313.80,160.30 338.80,160.30" fill="none" stroke="#262626" stroke-width="0.85" stroke-linejoin="round"/>
<text transform="translate(320.00,159.30) scale(0.9000,1.0000)" font-family="'Liberation Serif', sans-serif" font-size="7.50" font-weight="normal" text-anchor="start" fill="#3e3e3e">MB</text>
<text transform="translate(315.60,168.00)" font-family="'Liberation Serif', sans-serif" font-size="8.00" font-weight="normal" text-anchor="start" fill="#3e3e3e">G1/4</text>
<text transform="translate(226.50,240.00)" font-family="'Liberation Serif', sans-serif" font-size="8.00" font-weight="normal" text-anchor="start" fill="#3e3e3e" letter-spacing="0.50">M22x1.5</text>
<polyline points="198.80,290.00 220.00,302.00 255.00,302.00" fill="none" stroke="#262626" stroke-width="0.85" stroke-linejoin="round"/>
<text transform="translate(223.00,300.00)" font-family="'Liberation Serif', sans-serif" font-size="8.00" font-weight="normal" text-anchor="start" fill="#3e3e3e" letter-spacing="0.50">M22x1.5</text>
<line x1="231.00" y1="212.00" x2="236.50" y2="233.00" stroke="#262626" stroke-width="0.80"/>
<polyline points="156.00,223.80 127.00,223.80 127.00,243.00 156.00,243.00" fill="none" stroke="#262626" stroke-width="1.50" stroke-linejoin="round"/>
<line x1="153.00" y1="223.80" x2="153.00" y2="243.00" stroke="#262626" stroke-width="1.20"/>
<line x1="128.60" y1="228.00" x2="153.00" y2="228.00" stroke="#262626" stroke-width="0.90" stroke-dasharray="3 1.5"/>
<path transform="translate(0.00,0.00)" d="M127 229.4 H140 Q145.6 229.6 145.6 233.6 Q145.6 237.6 140 237.8 H127" fill="none" stroke="#262626" stroke-width="1.30" stroke-linecap="butt" stroke-linejoin="round"/>
<path transform="translate(0.00,0.00)" d="M128 231 H139 Q142.6 231.2 142.6 233.6 Q142.6 236 139 236.2 H128" fill="none" stroke="#262626" stroke-width="1.00" stroke-linecap="butt" stroke-linejoin="round"/>
<line x1="128.00" y1="232.40" x2="141.00" y2="232.40" stroke="#262626" stroke-width="1.40" stroke-dasharray="1.5 1"/>
<line x1="128.00" y1="234.80" x2="141.00" y2="234.80" stroke="#262626" stroke-width="1.40" stroke-dasharray="1.5 1"/>
<line x1="129.60" y1="229.40" x2="129.60" y2="237.80" stroke="#262626" stroke-width="1.30"/>
<line x1="131.60" y1="229.40" x2="131.60" y2="237.80" stroke="#262626" stroke-width="0.90"/>
<line x1="84.40" y1="190.30" x2="155.40" y2="190.30" stroke="#262626" stroke-width="0.85"/>
<line x1="85.00" y1="278.30" x2="155.40" y2="278.30" stroke="#262626" stroke-width="0.85"/>
<line x1="86.90" y1="190.50" x2="86.90" y2="278.10" stroke="#262626" stroke-width="0.85"/>
<polygon points="86.90,190.50 88.10,197.30 85.70,197.30" fill="#262626"/>
<polygon points="86.90,278.10 85.70,271.30 88.10,271.30" fill="#262626"/>
<text transform="translate(80.00,260.00) rotate(-90.00) scale(0.7500,1.0000)" font-family="'Liberation Sans', sans-serif" font-size="12.00" font-weight="normal" text-anchor="start" fill="#262626" stroke="#262626" stroke-width="0.40">ø125</text>
<text transform="translate(86.00,237.50) rotate(-90.00) scale(0.7500,1.0000)" font-family="'Liberation Sans', sans-serif" font-size="12.00" font-weight="normal" text-anchor="start" fill="#262626" stroke="#262626" stroke-width="0.40">_0.063</text>
<text transform="translate(75.60,233.00) rotate(-90.00) scale(0.7500,1.0000)" font-family="'Liberation Sans', sans-serif" font-size="12.00" font-weight="normal" text-anchor="start" fill="#262626" stroke="#262626" stroke-width="0.40">0</text>
<line x1="101.00" y1="225.60" x2="127.00" y2="225.60" stroke="#262626" stroke-width="0.85"/>
<line x1="101.00" y1="243.00" x2="127.00" y2="243.00" stroke="#262626" stroke-width="0.85"/>
<line x1="103.20" y1="208.50" x2="103.20" y2="225.60" stroke="#262626" stroke-width="0.85"/>
<polygon points="103.20,225.60 102.00,218.80 104.40,218.80" fill="#262626"/>
<line x1="103.20" y1="243.00" x2="103.20" y2="259.50" stroke="#262626" stroke-width="0.85"/>
<polygon points="103.20,243.00 104.40,249.80 102.00,249.80" fill="#262626"/>
<text transform="translate(100.20,245.50) rotate(-90.00) scale(0.7500,1.0000)" font-family="'Liberation Sans', sans-serif" font-size="12.00" font-weight="normal" text-anchor="start" fill="#262626" stroke="#262626" stroke-width="0.40">ø25j6</text>
<line x1="116.80" y1="215.60" x2="116.80" y2="254.00" stroke="#262626" stroke-width="0.85"/>
<polygon points="116.80,229.40 115.60,222.60 118.00,222.60" fill="#262626"/>
<polygon points="116.80,237.80 118.00,244.60 115.60,244.60" fill="#262626"/>
<line x1="116.80" y1="229.40" x2="127.00" y2="229.40" stroke="#262626" stroke-width="0.85"/>
<line x1="116.80" y1="237.80" x2="127.00" y2="237.80" stroke="#262626" stroke-width="0.85"/>
<line x1="109.40" y1="230.60" x2="127.00" y2="230.60" stroke="#262626" stroke-width="0.70"/>
<line x1="109.40" y1="236.60" x2="127.00" y2="236.60" stroke="#262626" stroke-width="0.70"/>
<text transform="translate(114.40,239.50) rotate(-90.00) scale(0.7500,1.0000)" font-family="'Liberation Sans', sans-serif" font-size="12.00" font-weight="normal" text-anchor="start" fill="#262626" stroke="#262626" stroke-width="0.40">M8</text>
<line x1="126.30" y1="198.00" x2="126.30" y2="292.50" stroke="#262626" stroke-width="0.85"/>
<line x1="126.30" y1="200.00" x2="156.00" y2="200.00" stroke="#262626" stroke-width="0.85"/>
<polygon points="126.30,200.00 133.10,198.80 133.10,201.20" fill="#262626"/>
<polygon points="156.00,200.00 149.20,201.20 149.20,198.80" fill="#262626"/>
<text transform="translate(140.50,198.50) scale(0.7500,1.0000)" font-family="'Liberation Sans', sans-serif" font-size="12.00" font-weight="normal" text-anchor="middle" fill="#262626" stroke="#262626" stroke-width="0.40">42</text>
<line x1="128.60" y1="207.00" x2="128.60" y2="228.00" stroke="#262626" stroke-width="0.85"/>
<line x1="153.00" y1="207.00" x2="153.00" y2="223.80" stroke="#262626" stroke-width="0.85"/>
<line x1="109.40" y1="216.00" x2="126.30" y2="216.00" stroke="#262626" stroke-width="0.85"/>
<polygon points="126.30,216.00 119.50,217.20 119.50,214.80" fill="#262626"/>
<line x1="128.60" y1="216.00" x2="153.00" y2="216.00" stroke="#262626" stroke-width="0.85"/>
<polygon points="128.60,216.00 135.40,214.80 135.40,217.20" fill="#262626"/>
<polygon points="153.00,216.00 146.20,217.20 146.20,214.80" fill="#262626"/>
<text transform="translate(127.30,214.50) scale(0.7500,1.0000)" font-family="'Liberation Sans', sans-serif" font-size="12.00" font-weight="normal" text-anchor="middle" fill="#262626" stroke="#262626" stroke-width="0.40">3</text>
<text transform="translate(141.50,214.50) scale(0.7500,1.0000)" font-family="'Liberation Sans', sans-serif" font-size="12.00" font-weight="normal" text-anchor="middle" fill="#262626" stroke="#262626" stroke-width="0.40">36</text>
<line x1="139.40" y1="242.50" x2="139.40" y2="257.50" stroke="#262626" stroke-width="0.85"/>
<line x1="109.40" y1="254.00" x2="126.30" y2="254.00" stroke="#262626" stroke-width="0.85"/>
<polygon points="126.30,254.00 119.50,255.20 119.50,252.80" fill="#262626"/>
<line x1="139.40" y1="254.00" x2="156.00" y2="254.00" stroke="#262626" stroke-width="0.85"/>
<polygon points="139.40,254.00 146.20,252.80 146.20,255.20" fill="#262626"/>
<text transform="translate(133.00,252.60) scale(0.7500,1.0000)" font-family="'Liberation Sans', sans-serif" font-size="12.00" font-weight="normal" text-anchor="middle" fill="#262626" stroke="#262626" stroke-width="0.40">19</text>
<line x1="126.30" y1="289.60" x2="162.50" y2="289.60" stroke="#262626" stroke-width="0.85"/>
<polygon points="126.30,289.60 133.10,288.40 133.10,290.80" fill="#262626"/>
<polygon points="162.50,289.60 155.70,290.80 155.70,288.40" fill="#262626"/>
<text transform="translate(143.50,288.00) scale(0.7500,1.0000)" font-family="'Liberation Sans', sans-serif" font-size="12.00" font-weight="normal" text-anchor="middle" fill="#262626" stroke="#262626" stroke-width="0.40">52</text>
<circle cx="511.50" cy="232.40" r="43.80" fill="none" stroke="#262626" stroke-width="2.00"/>
<circle cx="511.50" cy="232.40" r="35.60" fill="none" stroke="#262626" stroke-width="2.00"/>
<circle cx="511.50" cy="232.40" r="14.00" fill="none" stroke="#262626" stroke-width="1.60"/>
<circle cx="511.50" cy="232.40" r="8.80" fill="none" stroke="#262626" stroke-width="1.30"/>
<circle cx="511.50" cy="232.40" r="2.00" fill="#262626" stroke="#262626" stroke-width="1.00"/>
<rect x="460.20" y="181.30" width="103.00" height="102.00" rx="8.50" fill="none" stroke="#262626" stroke-width="1.50"/>
<circle cx="471.50" cy="192.50" r="4.70" fill="none" stroke="#262626" stroke-width="1.20"/>
<line x1="465.00" y1="192.50" x2="478.00" y2="192.50" stroke="#262626" stroke-width="0.80"/>
<line x1="471.50" y1="186.00" x2="471.50" y2="199.00" stroke="#262626" stroke-width="0.80"/>
<circle cx="551.60" cy="192.30" r="4.70" fill="none" stroke="#262626" stroke-width="1.20"/>
<line x1="545.10" y1="192.30" x2="558.10" y2="192.30" stroke="#262626" stroke-width="0.80"/>
<line x1="551.60" y1="185.80" x2="551.60" y2="198.80" stroke="#262626" stroke-width="0.80"/>
<circle cx="471.90" cy="271.80" r="4.70" fill="none" stroke="#262626" stroke-width="1.20"/>
<line x1="465.40" y1="271.80" x2="478.40" y2="271.80" stroke="#262626" stroke-width="0.80"/>
<line x1="471.90" y1="265.30" x2="471.90" y2="278.30" stroke="#262626" stroke-width="0.80"/>
<circle cx="552.00" cy="271.50" r="4.70" fill="none" stroke="#262626" stroke-width="1.20"/>
<line x1="545.50" y1="271.50" x2="558.50" y2="271.50" stroke="#262626" stroke-width="0.80"/>
<line x1="552.00" y1="265.00" x2="552.00" y2="278.00" stroke="#262626" stroke-width="0.80"/>
<path transform="translate(0.00,0.00)" d="M475 181 A63 63 0 0 1 548 181" fill="none" stroke="#262626" stroke-width="1.30" stroke-linecap="butt" stroke-linejoin="round"/>
<path transform="translate(0.00,0.00)" d="M485.2 179 L490 175.8 Q511.5 173.2 533 175.8 L537.8 179 Z" fill="none" stroke="#262626" stroke-width="1.20" stroke-linecap="butt" stroke-linejoin="round"/>
<path transform="translate(0.00,0.00)" d="M475 283.6 A63 63 0 0 0 548 283.6" fill="none" stroke="#262626" stroke-width="1.30" stroke-linecap="butt" stroke-linejoin="round"/>
<path transform="translate(0.00,0.00)" d="M480 283.6 A58.6 58.6 0 0 0 543 283.6" fill="none" stroke="#262626" stroke-width="1.20" stroke-linecap="butt" stroke-linejoin="round"/>
<rect x="497.00" y="284.60" width="31.00" height="3.60" rx="1.80" fill="none" stroke="#262626" stroke-width="1.10"/>
<polyline points="459.00,196.00 444.80,216.30 444.80,246.30 460.20,268.50" fill="none" stroke="#262626" stroke-width="1.30" stroke-linejoin="round"/>
<polyline points="459.40,202.00 448.00,217.80 448.00,245.00 459.80,263.00" fill="none" stroke="#262626" stroke-width="1.10" stroke-linejoin="round"/>
<polyline points="459.80,208.00 450.80,220.00 450.80,243.00 460.00,257.00" fill="none" stroke="#262626" stroke-width="0.90" stroke-linejoin="round"/>
<path transform="translate(0.00,0.00)" d="M564 196.5 Q572 205 575 219 M575 248.5 L563.5 267.5" fill="none" stroke="#262626" stroke-width="1.30" stroke-linecap="butt" stroke-linejoin="round"/>
<path transform="translate(0.00,0.00)" d="M564 203 Q569.5 210 572.4 220 M573 252 L563.6 262" fill="none" stroke="#262626" stroke-width="1.10" stroke-linecap="butt" stroke-linejoin="round"/>
<line x1="437.00" y1="232.40" x2="628.80" y2="232.40" stroke="#262626" stroke-width="0.85" stroke-dasharray="9 2 2 2"/>
<line x1="511.50" y1="155.00" x2="511.50" y2="335.50" stroke="#262626" stroke-width="0.85" stroke-dasharray="14 2 2 2"/>
<rect x="508.30" y="207.60" width="6.40" height="13.40" rx="0.00" fill="none" stroke="#262626" stroke-width="1.00"/>
<path transform="translate(0.00,0.00)" d="M572.6 189.4 V166.4 L574.6 164.4 H593 L595 166.4 V189.4" fill="none" stroke="#262626" stroke-width="1.40" stroke-linecap="butt" stroke-linejoin="round"/>
<line x1="583.80" y1="164.40" x2="583.80" y2="189.40" stroke="#262626" stroke-width="1.10"/>
<rect x="578.50" y="159.40" width="10.90" height="5.00" rx="0.00" fill="#c8c8c8" stroke="#262626" stroke-width="1.20"/>
<rect x="580.70" y="153.00" width="6.30" height="6.40" rx="0.00" fill="#9a9a9a" stroke="#262626" stroke-width="1.10"/>
<line x1="582.60" y1="153.00" x2="582.60" y2="164.40" stroke="#262626" stroke-width="0.70"/>
<line x1="585.00" y1="153.00" x2="585.00" y2="164.40" stroke="#262626" stroke-width="0.70"/>
<path transform="translate(0.00,0.00)" d="M597 189.4 V172 L598.5 170.6 H609 L610.6 172 V189.4" fill="none" stroke="#262626" stroke-width="1.30" stroke-linecap="butt" stroke-linejoin="round"/>
<line x1="603.40" y1="170.60" x2="603.40" y2="189.40" stroke="#262626" stroke-width="1.00"/>
<rect x="597.60" y="165.00" width="10.40" height="5.60" rx="0.00" fill="#c8c8c8" stroke="#262626" stroke-width="1.20"/>
<rect x="600.20" y="160.00" width="6.00" height="5.00" rx="0.00" fill="#9a9a9a" stroke="#262626" stroke-width="1.10"/>
<line x1="602.00" y1="160.00" x2="602.00" y2="170.60" stroke="#262626" stroke-width="0.70"/>
<line x1="604.40" y1="160.00" x2="604.40" y2="170.60" stroke="#262626" stroke-width="0.70"/>
<polyline points="572.60,189.40 612.40,189.40 612.40,247.00 590.80,247.00" fill="none" stroke="#262626" stroke-width="1.40" stroke-linejoin="round"/>
<line x1="572.60" y1="189.40" x2="572.60" y2="212.00" stroke="#262626" stroke-width="1.40"/>
<line x1="610.20" y1="211.30" x2="610.20" y2="247.00" stroke="#262626" stroke-width="1.00"/>
<line x1="593.80" y1="189.40" x2="593.80" y2="224.00" stroke="#262626" stroke-width="1.20"/>
<line x1="593.80" y1="211.30" x2="612.40" y2="211.30" stroke="#262626" stroke-width="1.20"/>
<circle cx="578.80" cy="203.00" r="5.40" fill="none" stroke="#262626" stroke-width="1.30"/>
<line x1="578.80" y1="196.00" x2="578.80" y2="210.00" stroke="#262626" stroke-width="0.70"/>
<line x1="572.00" y1="203.00" x2="586.00" y2="203.00" stroke="#262626" stroke-width="0.70"/>
<circle cx="599.40" cy="202.50" r="6.40" fill="none" stroke="#262626" stroke-width="2.00"/>
<circle cx="599.40" cy="202.50" r="3.40" fill="none" stroke="#262626" stroke-width="1.20"/>
<line x1="599.40" y1="199.00" x2="599.40" y2="206.00" stroke="#262626" stroke-width="0.70"/>
<line x1="596.00" y1="202.50" x2="603.00" y2="202.50" stroke="#262626" stroke-width="0.70"/>
<text transform="translate(605.00,194.60) scale(1.3000,1.0000)" font-family="'Liberation Sans', sans-serif" font-size="6.00" font-weight="bold" text-anchor="start" fill="#262626" stroke="#262626" stroke-width="0.40">x</text>
<line x1="603.50" y1="211.30" x2="603.50" y2="250.00" stroke="#262626" stroke-width="0.80" stroke-dasharray="5 2"/>
<polyline points="575.60,213.80 593.80,213.80" fill="none" stroke="#262626" stroke-width="1.20" stroke-linejoin="round"/>
<polyline points="575.60,227.00 589.40,227.00 589.40,224.20 593.80,224.20" fill="none" stroke="#262626" stroke-width="1.20" stroke-linejoin="round"/>
<line x1="589.40" y1="213.80" x2="589.40" y2="224.20" stroke="#262626" stroke-width="1.00"/>
<polyline points="575.60,235.60 587.00,235.60 587.00,243.00 591.00,243.00 591.00,254.40 577.50,254.40 577.50,250.00" fill="none" stroke="#262626" stroke-width="1.20" stroke-linejoin="round"/>
<line x1="577.50" y1="250.00" x2="587.00" y2="250.00" stroke="#262626" stroke-width="1.10"/>
<line x1="587.00" y1="243.00" x2="587.00" y2="250.00" stroke="#262626" stroke-width="1.00"/>
<line x1="575.60" y1="213.80" x2="575.60" y2="250.00" stroke="#262626" stroke-width="1.30"/>
<line x1="591.00" y1="245.60" x2="599.50" y2="245.60" stroke="#262626" stroke-width="2.00"/>
<line x1="567.00" y1="219.40" x2="593.80" y2="219.40" stroke="#262626" stroke-width="0.70" stroke-dasharray="4 2"/>
<line x1="567.00" y1="243.00" x2="585.00" y2="243.00" stroke="#262626" stroke-width="0.70" stroke-dasharray="4 2"/>
<path transform="translate(0.00,0.00)" d="M572.6 212 L563.6 226" fill="none" stroke="#262626" stroke-width="1.00" stroke-linecap="butt" stroke-linejoin="round"/>
<line x1="418.80" y1="181.30" x2="468.00" y2="181.30" stroke="#262626" stroke-width="0.85"/>
<line x1="420.00" y1="283.30" x2="468.00" y2="283.30" stroke="#262626" stroke-width="0.85"/>
<line x1="421.50" y1="181.50" x2="421.50" y2="283.10" stroke="#262626" stroke-width="0.85"/>
<polygon points="421.50,181.50 422.70,188.30 420.30,188.30" fill="#262626"/>
<polygon points="421.50,283.10 420.30,276.30 422.70,276.30" fill="#262626"/>
<text transform="translate(419.60,232.40) rotate(-90.00) scale(0.7500,1.0000)" font-family="'Liberation Sans', sans-serif" font-size="12.00" font-weight="normal" text-anchor="middle" fill="#262626" stroke="#262626" stroke-width="0.40">146</text>
<line x1="432.50" y1="192.50" x2="466.00" y2="192.50" stroke="#262626" stroke-width="0.85"/>
<line x1="433.50" y1="271.90" x2="467.00" y2="271.90" stroke="#262626" stroke-width="0.85"/>
<line x1="435.50" y1="192.70" x2="435.50" y2="271.70" stroke="#262626" stroke-width="0.85"/>
<polygon points="435.50,192.70 436.70,199.50 434.30,199.50" fill="#262626"/>
<polygon points="435.50,271.70 434.30,264.90 436.70,264.90" fill="#262626"/>
<text transform="translate(433.60,232.40) rotate(-90.00) scale(0.7500,1.0000)" font-family="'Liberation Sans', sans-serif" font-size="12.00" font-weight="normal" text-anchor="middle" fill="#262626" stroke="#262626" stroke-width="0.40">113.2</text>
<line x1="472.00" y1="277.00" x2="472.00" y2="309.50" stroke="#262626" stroke-width="0.85"/>
<line x1="552.20" y1="277.00" x2="552.20" y2="309.50" stroke="#262626" stroke-width="0.85"/>
<line x1="472.00" y1="307.00" x2="552.20" y2="307.00" stroke="#262626" stroke-width="0.85"/>
<polygon points="472.00,307.00 478.80,305.80 478.80,308.20" fill="#262626"/>
<polygon points="552.20,307.00 545.40,308.20 545.40,305.80" fill="#262626"/>
<text transform="translate(511.50,305.00) scale(0.7500,1.0000)" font-family="'Liberation Sans', sans-serif" font-size="12.00" font-weight="normal" text-anchor="middle" fill="#262626" stroke="#262626" stroke-width="0.40">113.2</text>
<line x1="460.60" y1="283.00" x2="460.60" y2="322.60" stroke="#262626" stroke-width="0.85"/>
<line x1="563.50" y1="283.00" x2="563.50" y2="322.60" stroke="#262626" stroke-width="0.85"/>
<line x1="460.60" y1="320.40" x2="563.50" y2="320.40" stroke="#262626" stroke-width="0.85"/>
<polygon points="460.60,320.40 467.40,319.20 467.40,321.60" fill="#262626"/>
<polygon points="563.50,320.40 556.70,321.60 556.70,319.20" fill="#262626"/>
<text transform="translate(512.50,318.60) scale(0.7500,1.0000)" font-family="'Liberation Sans', sans-serif" font-size="12.00" font-weight="normal" text-anchor="middle" fill="#262626" stroke="#262626" stroke-width="0.40">146</text>
<line x1="445.00" y1="246.00" x2="445.00" y2="335.50" stroke="#262626" stroke-width="0.85"/>
<line x1="599.50" y1="211.30" x2="599.50" y2="336.00" stroke="#262626" stroke-width="0.85"/>
<line x1="445.00" y1="333.40" x2="511.50" y2="333.40" stroke="#262626" stroke-width="0.85"/>
<polygon points="445.00,333.40 451.80,332.20 451.80,334.60" fill="#262626"/>
<polygon points="511.50,333.40 504.70,334.60 504.70,332.20" fill="#262626"/>
<line x1="511.50" y1="333.40" x2="599.50" y2="333.40" stroke="#262626" stroke-width="0.85"/>
<polygon points="511.50,333.40 518.30,332.20 518.30,334.60" fill="#262626"/>
<polygon points="599.50,333.40 592.70,334.60 592.70,332.20" fill="#262626"/>
<text transform="translate(485.00,332.00) scale(0.7500,1.0000)" font-family="'Liberation Sans', sans-serif" font-size="12.00" font-weight="normal" text-anchor="middle" fill="#262626" stroke="#262626" stroke-width="0.40">93.5</text>
<text transform="translate(554.00,332.00) scale(0.7500,1.0000)" font-family="'Liberation Sans', sans-serif" font-size="12.00" font-weight="normal" text-anchor="middle" fill="#262626" stroke="#262626" stroke-width="0.40">129</text>
<line x1="476.25" y1="174.40" x2="527.00" y2="141.90" stroke="#262626" stroke-width="0.85"/>
<polygon points="476.25,174.40 481.33,169.72 482.62,171.74" fill="#262626"/>
<polygon points="527.00,141.90 521.92,146.58 520.63,144.56" fill="#262626"/>
<line x1="472.60" y1="170.20" x2="511.50" y2="232.40" stroke="#262626" stroke-width="0.85"/>
<line x1="525.80" y1="138.20" x2="568.00" y2="202.00" stroke="#262626" stroke-width="0.85"/>
<text transform="translate(502.50,156.00) rotate(-32.64) scale(0.7500,1.0000)" font-family="'Liberation Sans', sans-serif" font-size="12.00" font-weight="normal" text-anchor="middle" fill="#262626" stroke="#262626" stroke-width="0.40">89.5</text>
<path transform="translate(0.00,0.00)" d="M512.50 157.90 A74.5 74.5 0 0 1 574.33 192.37" fill="none" stroke="#262626" stroke-width="0.85" stroke-linecap="butt" stroke-linejoin="round"/>
<polygon points="512.50,157.90 519.30,156.70 519.30,159.10" fill="#262626"/>
<polygon points="574.33,192.37 569.67,187.28 571.69,185.99" fill="#262626"/>
<text transform="translate(545.50,162.00) rotate(37.00) scale(0.7500,1.0000)" font-family="'Liberation Sans', sans-serif" font-size="12.00" font-weight="normal" text-anchor="start" fill="#262626" stroke="#262626" stroke-width="0.40">57.5.</text>
<text transform="translate(531.00,191.00) scale(0.7500,1.0000)" font-family="'Liberation Sans', sans-serif" font-size="12.00" font-weight="normal" text-anchor="start" fill="#262626" stroke="#262626" stroke-width="0.40">10</text>
<polyline points="531.00,192.30 542.00,192.30 556.00,216.00" fill="none" stroke="#262626" stroke-width="0.85" stroke-linejoin="round"/>
<line x1="531.00" y1="219.40" x2="560.50" y2="199.60" stroke="#262626" stroke-width="0.85"/>
<polygon points="556.50,216.00 552.77,212.46 554.78,211.15" fill="#262626"/>
<line x1="544.50" y1="212.60" x2="575.00" y2="192.50" stroke="#262626" stroke-width="0.85"/>
<line x1="500.00" y1="211.90" x2="508.30" y2="211.90" stroke="#262626" stroke-width="0.85"/>
<polygon points="508.30,211.90 503.30,213.10 503.30,210.70" fill="#262626"/>
<line x1="514.70" y1="211.90" x2="530.00" y2="211.90" stroke="#262626" stroke-width="0.85"/>
<polygon points="514.70,211.90 519.70,210.70 519.70,213.10" fill="#262626"/>
<line x1="525.00" y1="221.30" x2="543.00" y2="221.30" stroke="#262626" stroke-width="0.85"/>
<line x1="512.00" y1="240.60" x2="543.00" y2="240.60" stroke="#262626" stroke-width="0.85"/>
<line x1="541.40" y1="221.30" x2="541.40" y2="240.60" stroke="#262626" stroke-width="0.85"/>
<polygon points="541.40,221.30 542.60,226.30 540.20,226.30" fill="#262626"/>
<polygon points="541.40,240.60 540.20,235.60 542.60,235.60" fill="#262626"/>
<text transform="translate(539.60,231.00) rotate(-90.00) scale(0.7500,1.0000)" font-family="'Liberation Sans', sans-serif" font-size="12.00" font-weight="normal" text-anchor="middle" fill="#262626" stroke="#262626" stroke-width="0.40">28</text>
<line x1="606.00" y1="202.60" x2="628.80" y2="202.60" stroke="#262626" stroke-width="0.85"/>
<line x1="600.00" y1="231.20" x2="630.00" y2="231.20" stroke="#262626" stroke-width="0.85"/>
<line x1="627.00" y1="202.80" x2="627.00" y2="231.00" stroke="#262626" stroke-width="0.85"/>
<polygon points="627.00,202.80 628.20,209.60 625.80,209.60" fill="#262626"/>
<polygon points="627.00,231.00 625.80,224.20 628.20,224.20" fill="#262626"/>
<text transform="translate(625.00,217.00) rotate(-90.00) scale(0.7500,1.0000)" font-family="'Liberation Sans', sans-serif" font-size="12.00" font-weight="normal" text-anchor="middle" fill="#262626" stroke="#262626" stroke-width="0.40">40</text>
<line x1="445.50" y1="233.00" x2="415.00" y2="308.80" stroke="#262626" stroke-width="0.85"/>
<text transform="translate(396.00,317.00) scale(1,1.100)" x="1.7 5.2 8.6 12.1 15.5 19.0 22.4 25.9 29.3 32.8 36.2 39.7 43.1 46.6" text-anchor="middle" font-family="'Liberation Serif', serif" font-size="7.26" fill="#444" stroke="#444" stroke-width="0.18">Valve mounting</text>
<text transform="translate(396.00,325.10) scale(1,1.100)" x="1.7 5.2 8.6 12.1 15.5 19.0 22.4 25.9 29.3 32.8 36.2" text-anchor="middle" font-family="'Liberation Serif', serif" font-size="7.26" fill="#444" stroke="#444" stroke-width="0.18">for counter</text>
<text transform="translate(396.00,333.20) scale(1,1.100)" x="1.7 5.2 8.6 12.1 15.5 19.0 22.4 25.9 29.3" text-anchor="middle" font-family="'Liberation Serif', serif" font-size="7.26" fill="#444" stroke="#444" stroke-width="0.18">clockwise</text>
<text transform="translate(396.00,341.30) scale(1,1.100)" x="1.7 5.2 8.6 12.1 15.5 19.0 22.4 25.9" text-anchor="middle" font-family="'Liberation Serif', serif" font-size="7.26" fill="#444" stroke="#444" stroke-width="0.18">rotation</text>
<text transform="translate(442.00,173.00) scale(0.7500,1.0000)" font-family="'Liberation Sans', sans-serif" font-size="12.00" font-weight="normal" text-anchor="start" fill="#262626" stroke="#262626" stroke-width="0.40">ø14</text>
<polyline points="441.00,174.40 458.00,174.40 469.50,190.00" fill="none" stroke="#262626" stroke-width="0.85" stroke-linejoin="round"/>
<line x1="474.50" y1="195.50" x2="509.00" y2="230.00" stroke="#262626" stroke-width="0.80"/>
<text transform="translate(511.50,207.30) scale(0.7500,1.0000)" font-family="'Liberation Sans', sans-serif" font-size="10.20" font-weight="normal" text-anchor="middle" fill="#262626" stroke="#262626" stroke-width="0.40">8</text>
<polyline points="607.50,189.40 618.80,165.00 678.00,165.00" fill="none" stroke="#262626" stroke-width="0.85" stroke-linejoin="round"/>
<text transform="translate(641.60,164.20)" font-family="'Liberation Serif', sans-serif" font-size="8.60" font-weight="normal" text-anchor="start" fill="#3e3e3e">X</text>
<text transform="translate(621.30,172.80)" font-family="'Liberation Serif', sans-serif" font-size="7.60" font-weight="normal" text-anchor="start" fill="#3e3e3e" letter-spacing="0.45">7/16-20UNF-2B</text>
<path transform="translate(0.00,0.00)" d="M714 176 H733.6 Q738.4 177 739.6 183 Q741.6 192 741.4 199.4 Q741.6 207 739.6 215.6 Q738.4 221.6 733.6 222.6 H714 Q709.2 221.6 708 215.6 Q706 207 706.2 199.4 Q706 192 708 183 Q709.2 177 714 176 Z" fill="none" stroke="#262626" stroke-width="1.40" stroke-linecap="butt" stroke-linejoin="round"/>
<circle cx="715.70" cy="182.80" r="3.30" fill="none" stroke="#262626" stroke-width="1.20"/>
<circle cx="715.70" cy="182.80" r="1.60" fill="none" stroke="#262626" stroke-width="0.80"/>
<line x1="715.70" y1="187.00" x2="715.70" y2="189.60" stroke="#262626" stroke-width="0.80"/>
<circle cx="731.50" cy="182.80" r="3.30" fill="none" stroke="#262626" stroke-width="1.20"/>
<circle cx="731.50" cy="182.80" r="1.60" fill="none" stroke="#262626" stroke-width="0.80"/>
<line x1="731.50" y1="187.00" x2="731.50" y2="189.60" stroke="#262626" stroke-width="0.80"/>
<circle cx="715.90" cy="216.00" r="3.30" fill="none" stroke="#262626" stroke-width="1.20"/>
<circle cx="715.90" cy="216.00" r="1.60" fill="none" stroke="#262626" stroke-width="0.80"/>
<line x1="715.90" y1="209.20" x2="715.90" y2="211.80" stroke="#262626" stroke-width="0.80"/>
<circle cx="731.50" cy="216.00" r="3.30" fill="none" stroke="#262626" stroke-width="1.20"/>
<circle cx="731.50" cy="216.00" r="1.60" fill="none" stroke="#262626" stroke-width="0.80"/>
<line x1="731.50" y1="209.20" x2="731.50" y2="211.80" stroke="#262626" stroke-width="0.80"/>
<circle cx="723.80" cy="199.40" r="6.90" fill="none" stroke="#262626" stroke-width="1.50"/>
<line x1="723.80" y1="173.00" x2="723.80" y2="226.00" stroke="#262626" stroke-width="0.80" stroke-dasharray="8 2 2 2"/>
<line x1="698.80" y1="199.40" x2="743.80" y2="199.40" stroke="#262626" stroke-width="0.80"/>
<text transform="translate(698.80,157.60)" font-family="'Liberation Serif', sans-serif" font-size="8.00" font-weight="normal" text-anchor="start" fill="#777">B</text>
<text transform="translate(709.60,196.60)" font-family="'Liberation Serif', sans-serif" font-size="9.50" font-weight="normal" text-anchor="start" fill="#888">B</text>
<line x1="715.60" y1="168.80" x2="715.60" y2="182.00" stroke="#262626" stroke-width="0.85"/>
<line x1="731.30" y1="168.80" x2="731.30" y2="182.00" stroke="#262626" stroke-width="0.85"/>
<line x1="699.40" y1="170.30" x2="715.60" y2="170.30" stroke="#262626" stroke-width="0.85"/>
<polygon points="715.60,170.30 708.80,171.50 708.80,169.10" fill="#262626"/>
<line x1="731.30" y1="170.30" x2="748.00" y2="170.30" stroke="#262626" stroke-width="0.85"/>
<polygon points="731.30,170.30 738.10,169.10 738.10,171.50" fill="#262626"/>
<line x1="715.60" y1="170.30" x2="731.30" y2="170.30" stroke="#262626" stroke-width="0.85"/>
<text transform="translate(723.60,168.80) scale(0.7500,1.0000)" font-family="'Liberation Sans', sans-serif" font-size="12.00" font-weight="normal" text-anchor="middle" fill="#262626" stroke="#262626" stroke-width="0.40">26.2</text>
<line x1="692.50" y1="182.40" x2="713.00" y2="182.40" stroke="#262626" stroke-width="0.85"/>
<line x1="692.50" y1="215.60" x2="713.00" y2="215.60" stroke="#262626" stroke-width="0.85"/>
<line x1="695.60" y1="182.60" x2="695.60" y2="215.40" stroke="#262626" stroke-width="0.85"/>
<polygon points="695.60,182.60 696.80,189.40 694.40,189.40" fill="#262626"/>
<polygon points="695.60,215.40 694.40,208.60 696.80,208.60" fill="#262626"/>
<text transform="translate(693.60,199.00) rotate(-90.00) scale(0.7500,1.0000)" font-family="'Liberation Sans', sans-serif" font-size="12.00" font-weight="normal" text-anchor="middle" fill="#262626" stroke="#262626" stroke-width="0.40">52.4</text>
<text transform="translate(754.40,178.80) scale(0.7500,1.0000)" font-family="'Liberation Sans', sans-serif" font-size="12.00" font-weight="normal" text-anchor="start" fill="#262626" stroke="#262626" stroke-width="0.40">ø25</text>
<polyline points="770.00,180.00 753.80,180.00 703.80,212.50" fill="none" stroke="#262626" stroke-width="0.85" stroke-linejoin="round"/>
<polygon points="729.59,195.64 733.12,191.91 734.43,193.92" fill="#262626"/>
<polygon points="718.01,203.16 714.48,206.89 713.17,204.88" fill="#262626"/>
<line x1="726.40" y1="200.00" x2="730.80" y2="213.00" stroke="#262626" stroke-width="0.85"/>
<polygon points="731.00,213.60 728.31,209.22 730.60,208.47" fill="#262626"/>
<path transform="translate(0.00,0.00)" d="M713 244.8 H736 Q742 246 743.4 253 Q745.8 263 745.6 272.5 Q745.8 282 743.4 292 Q742 299.4 736 300.6 H713 Q707 299.4 705.6 292 Q703.4 282 703.6 272.5 Q703.4 263 705.6 253 Q707 246 713 244.8 Z" fill="none" stroke="#262626" stroke-width="1.40" stroke-linecap="butt" stroke-linejoin="round"/>
<circle cx="713.80" cy="252.30" r="3.30" fill="none" stroke="#262626" stroke-width="1.20"/>
<circle cx="713.80" cy="252.30" r="1.60" fill="none" stroke="#262626" stroke-width="0.80"/>
<line x1="713.80" y1="256.50" x2="713.80" y2="259.10" stroke="#262626" stroke-width="0.80"/>
<circle cx="735.30" cy="252.30" r="3.30" fill="none" stroke="#262626" stroke-width="1.20"/>
<circle cx="735.30" cy="252.30" r="1.60" fill="none" stroke="#262626" stroke-width="0.80"/>
<line x1="735.30" y1="256.50" x2="735.30" y2="259.10" stroke="#262626" stroke-width="0.80"/>
<circle cx="713.80" cy="293.50" r="3.30" fill="none" stroke="#262626" stroke-width="1.20"/>
<circle cx="713.80" cy="293.50" r="1.60" fill="none" stroke="#262626" stroke-width="0.80"/>
<line x1="713.80" y1="286.70" x2="713.80" y2="289.30" stroke="#262626" stroke-width="0.80"/>
<circle cx="735.30" cy="293.50" r="3.30" fill="none" stroke="#262626" stroke-width="1.20"/>
<circle cx="735.30" cy="293.50" r="1.60" fill="none" stroke="#262626" stroke-width="0.80"/>
<line x1="735.30" y1="286.70" x2="735.30" y2="289.30" stroke="#262626" stroke-width="0.80"/>
<circle cx="724.60" cy="272.50" r="11.20" fill="none" stroke="#262626" stroke-width="1.60"/>
<line x1="724.60" y1="245.00" x2="724.60" y2="305.00" stroke="#262626" stroke-width="0.80" stroke-dasharray="5 2.5"/>
<line x1="702.00" y1="272.50" x2="747.50" y2="272.50" stroke="#262626" stroke-width="1.20"/>
<line x1="716.00" y1="272.50" x2="722.00" y2="272.50" stroke="#262626" stroke-width="1.80"/>
<line x1="727.00" y1="272.90" x2="733.00" y2="272.90" stroke="#262626" stroke-width="1.80"/>
<text transform="translate(699.40,240.60)" font-family="'Liberation Serif', sans-serif" font-size="8.00" font-weight="normal" text-anchor="start" fill="#777">S</text>
<text transform="translate(707.40,270.50)" font-family="'Liberation Serif', sans-serif" font-size="9.50" font-weight="normal" text-anchor="start" fill="#888">S</text>
<line x1="694.40" y1="252.50" x2="710.00" y2="252.50" stroke="#262626" stroke-width="0.85"/>
<line x1="694.40" y1="293.20" x2="710.00" y2="293.20" stroke="#262626" stroke-width="0.85"/>
<line x1="697.30" y1="252.70" x2="697.30" y2="293.00" stroke="#262626" stroke-width="0.85"/>
<polygon points="697.30,252.70 698.50,259.50 696.10,259.50" fill="#262626"/>
<polygon points="697.30,293.00 696.10,286.20 698.50,286.20" fill="#262626"/>
<text transform="translate(695.20,273.00) rotate(-90.00) scale(0.7500,1.0000)" font-family="'Liberation Sans', sans-serif" font-size="12.00" font-weight="normal" text-anchor="middle" fill="#262626" stroke="#262626" stroke-width="0.40">69.9</text>
<text transform="translate(761.00,277.50) scale(0.7500,1.0000)" font-family="'Liberation Sans', sans-serif" font-size="12.00" font-weight="normal" text-anchor="start" fill="#262626" stroke="#262626" stroke-width="0.40">ø40</text>
<line x1="758.80" y1="278.00" x2="736.00" y2="274.20" stroke="#262626" stroke-width="0.85"/>
<line x1="714.40" y1="298.00" x2="714.40" y2="324.00" stroke="#262626" stroke-width="0.85"/>
<line x1="735.60" y1="298.00" x2="735.60" y2="324.00" stroke="#262626" stroke-width="0.85"/>
<line x1="714.40" y1="322.40" x2="735.60" y2="322.40" stroke="#262626" stroke-width="0.85"/>
<polygon points="714.40,322.40 718.90,321.50 718.90,323.30" fill="#262626"/>
<polygon points="735.60,322.40 731.10,323.30 731.10,321.50" fill="#262626"/>
<text transform="translate(725.00,321.00) scale(0.7500,1.0000)" font-family="'Liberation Sans', sans-serif" font-size="12.00" font-weight="normal" text-anchor="middle" fill="#262626" stroke="#262626" stroke-width="0.40">35.7</text>
<polyline points="734.00,219.00 739.60,237.40 796.00,237.40" fill="none" stroke="#262626" stroke-width="0.85" stroke-linejoin="round"/>
<text transform="translate(740.00,235.60) scale(0.7200,1.0000)" font-family="'Liberation Sans', sans-serif" font-size="12.00" font-weight="normal" text-anchor="start" fill="#262626" textLength="77.08" lengthAdjust="spacingAndGlyphs" stroke="#262626" stroke-width="0.40">M10 deep 17</text>
<polyline points="653.00,311.00 711.00,311.00 751.90,281.30" fill="none" stroke="#262626" stroke-width="0.85" stroke-linejoin="round"/>
<text transform="translate(653.00,309.30) scale(0.7200,1.0000)" font-family="'Liberation Sans', sans-serif" font-size="12.00" font-weight="normal" text-anchor="start" fill="#262626" textLength="79.86" lengthAdjust="spacingAndGlyphs" stroke="#262626" stroke-width="0.40">M12 deep 20</text>
<line x1="157.90" y1="478.70" x2="157.90" y2="566.30" stroke="#262626" stroke-width="0.85"/>
<line x1="160.10" y1="478.70" x2="160.10" y2="566.30" stroke="#262626" stroke-width="2.20"/>
<line x1="157.90" y1="478.70" x2="165.00" y2="478.70" stroke="#262626" stroke-width="0.85"/>
<line x1="157.90" y1="566.30" x2="165.00" y2="566.30" stroke="#262626" stroke-width="0.85"/>
<polyline points="176.10,470.90 165.10,470.90 165.10,573.50 176.10,573.50" fill="none" stroke="#262626" stroke-width="1.50" stroke-linejoin="round"/>
<line x1="176.10" y1="470.90" x2="176.10" y2="573.50" stroke="#262626" stroke-width="1.50"/>
<line x1="165.10" y1="481.30" x2="176.10" y2="481.30" stroke="#262626" stroke-width="1.10"/>
<line x1="165.10" y1="562.70" x2="176.10" y2="562.70" stroke="#262626" stroke-width="1.10"/>
<polyline points="176.10,470.90 198.80,465.20 227.50,465.20" fill="none" stroke="#262626" stroke-width="1.50" stroke-linejoin="round"/>
<line x1="176.30" y1="479.60" x2="197.50" y2="472.10" stroke="#262626" stroke-width="1.20"/>
<line x1="197.50" y1="465.50" x2="197.50" y2="492.10" stroke="#262626" stroke-width="1.20"/>
<line x1="200.50" y1="465.50" x2="200.50" y2="470.80" stroke="#262626" stroke-width="1.00"/>
<path transform="translate(2.50,288.30)" d="M195 183.20 H204 C212 183.60 214.5 188.00 213 192.00 C211.5 197.50 206 202.50 200 203.80 H173.8" fill="none" stroke="#262626" stroke-width="1.30" stroke-linecap="butt" stroke-linejoin="round"/>
<path transform="translate(2.50,288.30)" d="M173.8 194.40 H198 C205 194.20 209 191.50 210.5 187.50" fill="none" stroke="#262626" stroke-width="1.20" stroke-linecap="butt" stroke-linejoin="round"/>
<line x1="212.80" y1="475.80" x2="212.80" y2="485.30" stroke="#262626" stroke-width="1.00"/>
<line x1="202.80" y1="492.10" x2="202.80" y2="521.90" stroke="#262626" stroke-width="1.20"/>
<polyline points="176.10,572.90 198.80,578.60 227.50,578.60" fill="none" stroke="#262626" stroke-width="1.50" stroke-linejoin="round"/>
<line x1="176.30" y1="564.20" x2="197.50" y2="571.70" stroke="#262626" stroke-width="1.20"/>
<line x1="197.50" y1="578.30" x2="197.50" y2="551.70" stroke="#262626" stroke-width="1.20"/>
<line x1="200.50" y1="578.30" x2="200.50" y2="573.00" stroke="#262626" stroke-width="1.00"/>
<path transform="translate(2.50,288.30)" d="M195 284.00 H204 C212 283.60 214.5 279.20 213 275.20 C211.5 269.70 206 264.70 200 263.40 H173.8" fill="none" stroke="#262626" stroke-width="1.30" stroke-linecap="butt" stroke-linejoin="round"/>
<path transform="translate(2.50,288.30)" d="M173.8 272.80 H198 C205 273.00 209 275.70 210.5 279.70" fill="none" stroke="#262626" stroke-width="1.20" stroke-linecap="butt" stroke-linejoin="round"/>
<line x1="212.80" y1="568.00" x2="212.80" y2="558.50" stroke="#262626" stroke-width="1.00"/>
<line x1="202.80" y1="551.70" x2="202.80" y2="521.90" stroke="#262626" stroke-width="1.20"/>
<path transform="translate(2.50,288.30)" d="M197 177.8 H224.5" fill="none" stroke="#262626" stroke-width="2.00" stroke-linecap="butt" stroke-linejoin="round"/>
<path transform="translate(2.50,288.30)" d="M199 180.6 C206 182 216 182 222.5 178.4" fill="none" stroke="#262626" stroke-width="2.00" stroke-linecap="butt" stroke-linejoin="round" stroke-dasharray="3.6 1.3"/>
<path transform="translate(2.50,288.30)" d="M197 289.4 H224.5" fill="none" stroke="#262626" stroke-width="2.00" stroke-linecap="butt" stroke-linejoin="round"/>
<path transform="translate(2.50,288.30)" d="M199 286.6 C206 285.2 216 285.2 222.5 288.8" fill="none" stroke="#262626" stroke-width="2.00" stroke-linecap="butt" stroke-linejoin="round" stroke-dasharray="3.6 1.3"/>
<line x1="112.50" y1="521.90" x2="363.50" y2="521.90" stroke="#262626" stroke-width="0.85" stroke-dasharray="10 2 2 2"/>
<ellipse cx="232.10" cy="495.90" rx="15.40" ry="13.80" fill="none" stroke="#262626" stroke-width="1.50"/>
<ellipse cx="232.10" cy="495.50" rx="13.40" ry="11.80" fill="none" stroke="#262626" stroke-width="1.10"/>
<circle cx="231.90" cy="493.90" r="7.20" fill="none" stroke="#262626" stroke-width="1.50"/>
<ellipse cx="231.90" cy="495.90" rx="4.50" ry="2.70" fill="none" stroke="#262626" stroke-width="1.10"/>
<line x1="215.40" y1="493.90" x2="248.40" y2="493.90" stroke="#262626" stroke-width="0.70"/>
<line x1="231.90" y1="480.90" x2="231.90" y2="506.90" stroke="#262626" stroke-width="0.70"/>
<path transform="translate(2.50,288.30)" d="M217 215 C219 220 222.5 222.5 225.6 223.4 V245.10" fill="none" stroke="#262626" stroke-width="1.30" stroke-linecap="butt" stroke-linejoin="round"/>
<path transform="translate(2.50,288.30)" d="M244 210.5 L233.5 221.5" fill="none" stroke="#262626" stroke-width="1.20" stroke-linecap="butt" stroke-linejoin="round"/>
<line x1="235.30" y1="508.30" x2="235.30" y2="512.30" stroke="#262626" stroke-width="1.00"/>
<line x1="247.10" y1="490.50" x2="261.50" y2="490.50" stroke="#262626" stroke-width="1.20"/>
<line x1="242.00" y1="506.70" x2="269.50" y2="506.70" stroke="#262626" stroke-width="1.20"/>
<circle cx="232.50" cy="548.90" r="13.80" fill="none" stroke="#262626" stroke-width="1.50"/>
<path transform="translate(2.50,288.30)" d="M216.6 264 C213 252 219 243 229 245.2 C235 244 241 248 243 253" fill="none" stroke="#262626" stroke-width="1.30" stroke-linecap="butt" stroke-linejoin="round"/>
<line x1="244.50" y1="537.10" x2="263.50" y2="537.10" stroke="#262626" stroke-width="1.20"/>
<line x1="246.50" y1="548.90" x2="263.50" y2="548.90" stroke="#262626" stroke-width="1.20"/>
<line x1="245.50" y1="553.90" x2="258.50" y2="553.90" stroke="#262626" stroke-width="1.20"/>
<line x1="228.80" y1="521.90" x2="228.80" y2="534.30" stroke="#262626" stroke-width="1.20"/>
<polyline points="176.30,573.50 183.10,577.90 258.50,577.90" fill="none" stroke="#262626" stroke-width="1.50" stroke-linejoin="round"/>
<line x1="184.50" y1="576.50" x2="202.50" y2="576.50" stroke="#262626" stroke-width="1.60"/>
<polyline points="227.50,465.20 256.30,465.20 263.10,458.90 282.50,458.90" fill="none" stroke="#262626" stroke-width="1.50" stroke-linejoin="round"/>
<line x1="306.30" y1="458.90" x2="324.50" y2="458.90" stroke="#262626" stroke-width="1.50"/>
<line x1="324.50" y1="458.70" x2="345.50" y2="458.70" stroke="#262626" stroke-width="2.20"/>
<polyline points="256.30,465.20 260.00,485.80 269.50,485.80" fill="none" stroke="#262626" stroke-width="1.20" stroke-linejoin="round"/>
<line x1="260.00" y1="493.30" x2="269.50" y2="493.30" stroke="#262626" stroke-width="1.10"/>
<line x1="263.30" y1="458.90" x2="263.30" y2="493.30" stroke="#262626" stroke-width="1.30"/>
<line x1="264.10" y1="507.10" x2="264.10" y2="583.90" stroke="#262626" stroke-width="1.30"/>
<line x1="270.10" y1="458.90" x2="270.10" y2="583.90" stroke="#262626" stroke-width="1.50"/>
<polyline points="276.30,458.90 280.00,463.30 282.50,463.30" fill="none" stroke="#262626" stroke-width="1.00" stroke-linejoin="round"/>
<line x1="264.10" y1="495.80" x2="270.10" y2="495.80" stroke="#262626" stroke-width="1.00"/>
<line x1="264.10" y1="537.70" x2="270.10" y2="537.70" stroke="#262626" stroke-width="1.00"/>
<line x1="264.10" y1="548.30" x2="270.10" y2="548.30" stroke="#262626" stroke-width="1.00"/>
<line x1="264.10" y1="559.60" x2="270.10" y2="559.60" stroke="#262626" stroke-width="1.00"/>
<line x1="258.50" y1="553.90" x2="264.10" y2="553.90" stroke="#262626" stroke-width="1.20"/>
<polyline points="258.50,553.90 257.00,577.90" fill="none" stroke="#262626" stroke-width="1.20" stroke-linejoin="round"/>
<path transform="translate(2.50,288.30)" d="M317.5 170.6 V183 Q318 186 322 186.4" fill="none" stroke="#262626" stroke-width="1.20" stroke-linecap="butt" stroke-linejoin="round"/>
<line x1="324.40" y1="461.80" x2="320.30" y2="470.80" stroke="#262626" stroke-width="1.00"/>
<line x1="306.30" y1="478.80" x2="324.50" y2="478.80" stroke="#262626" stroke-width="0.85"/>
<path transform="translate(2.50,288.30)" d="M310.2 213 C311 207 315 205 322 205" fill="none" stroke="#262626" stroke-width="1.30" stroke-linecap="butt" stroke-linejoin="round"/>
<line x1="324.50" y1="458.90" x2="324.50" y2="570.30" stroke="#262626" stroke-width="1.50"/>
<line x1="336.70" y1="458.90" x2="336.70" y2="583.90" stroke="#262626" stroke-width="1.50"/>
<line x1="345.50" y1="458.90" x2="345.50" y2="583.90" stroke="#262626" stroke-width="1.50"/>
<line x1="324.50" y1="474.60" x2="336.70" y2="474.60" stroke="#262626" stroke-width="1.20"/>
<line x1="324.50" y1="493.90" x2="336.70" y2="493.90" stroke="#262626" stroke-width="1.20"/>
<line x1="324.50" y1="507.10" x2="336.70" y2="507.10" stroke="#262626" stroke-width="1.20"/>
<line x1="324.50" y1="535.20" x2="336.70" y2="535.20" stroke="#262626" stroke-width="1.20"/>
<line x1="324.50" y1="543.30" x2="336.70" y2="543.30" stroke="#262626" stroke-width="1.20"/>
<line x1="324.50" y1="553.30" x2="336.70" y2="553.30" stroke="#262626" stroke-width="1.20"/>
<line x1="324.50" y1="573.90" x2="336.70" y2="573.90" stroke="#262626" stroke-width="1.20"/>
<path transform="translate(2.50,288.30)" d="M322 282 Q323 291.5 329 293.5 L334.2 294" fill="none" stroke="#262626" stroke-width="1.40" stroke-linecap="butt" stroke-linejoin="round"/>
<polyline points="314.50,543.30 323.70,565.80 323.70,583.90" fill="none" stroke="#262626" stroke-width="1.20" stroke-linejoin="round"/>
<line x1="281.30" y1="543.30" x2="281.30" y2="572.10" stroke="#262626" stroke-width="1.40"/>
<polyline points="281.30,572.10 272.50,580.80" fill="none" stroke="#262626" stroke-width="1.30" stroke-linejoin="round"/>
<polyline points="272.50,583.90 277.50,578.30 277.50,583.90" fill="none" stroke="#262626" stroke-width="1.10" stroke-linejoin="round"/>
<line x1="282.50" y1="558.90" x2="322.50" y2="558.90" stroke="#262626" stroke-width="1.20"/>
<line x1="282.50" y1="567.10" x2="323.50" y2="567.10" stroke="#262626" stroke-width="1.20"/>
<path transform="translate(2.50,288.30)" d="M256 289.6 C259 290 260 293 261.6 295.6 H343" fill="none" stroke="#262626" stroke-width="1.50" stroke-linecap="butt" stroke-linejoin="round"/>
<line x1="333.50" y1="582.90" x2="345.50" y2="582.90" stroke="#262626" stroke-width="2.60"/>
<path transform="translate(2.50,288.30)" d="M343 192.60 H347 Q350.8 192.80 350.8 198.00 Q350.8 203.20 347 203.40 H343" fill="none" stroke="#262626" stroke-width="1.10" stroke-linecap="butt" stroke-linejoin="round"/>
<line x1="347.10" y1="481.50" x2="347.10" y2="491.10" stroke="#262626" stroke-width="0.80"/>
<line x1="348.90" y1="481.50" x2="348.90" y2="491.10" stroke="#262626" stroke-width="0.80"/>
<line x1="350.70" y1="481.50" x2="350.70" y2="491.10" stroke="#262626" stroke-width="0.80"/>
<line x1="328.50" y1="486.30" x2="355.00" y2="486.30" stroke="#262626" stroke-width="0.80"/>
<path transform="translate(2.50,288.30)" d="M343 262.00 H347 Q350.8 262.20 350.8 267.40 Q350.8 272.60 347 272.80 H343" fill="none" stroke="#262626" stroke-width="1.10" stroke-linecap="butt" stroke-linejoin="round"/>
<line x1="347.10" y1="550.90" x2="347.10" y2="560.50" stroke="#262626" stroke-width="0.80"/>
<line x1="348.90" y1="550.90" x2="348.90" y2="560.50" stroke="#262626" stroke-width="0.80"/>
<line x1="350.70" y1="550.90" x2="350.70" y2="560.50" stroke="#262626" stroke-width="0.80"/>
<line x1="328.50" y1="555.70" x2="355.00" y2="555.70" stroke="#262626" stroke-width="0.80"/>
<rect x="346.10" y="549.30" width="7.60" height="12.40" rx="0.00" fill="none" stroke="#262626" stroke-width="1.00"/>
<line x1="295.90" y1="554.30" x2="295.90" y2="584.30" stroke="#262626" stroke-width="0.80" stroke-dasharray="3 1.5"/>
<rect x="291.40" y="443.90" width="5.00" height="5.80" rx="0.00" fill="#a0a0a0" stroke="#262626" stroke-width="1.10"/>
<rect x="289.50" y="449.60" width="9.30" height="5.00" rx="0.00" fill="#c0c0c0" stroke="#262626" stroke-width="1.20"/>
<line x1="293.90" y1="443.90" x2="293.90" y2="454.30" stroke="#262626" stroke-width="0.80"/>
<path transform="translate(2.50,288.30)" d="M280.20 192 V169.5 Q280.20 166.4 283.00 166.4 H301.00 Q303.80 166.4 303.80 169.5 V192" fill="none" stroke="#262626" stroke-width="1.40" stroke-linecap="butt" stroke-linejoin="round"/>
<line x1="286.90" y1="455.30" x2="286.90" y2="480.30" stroke="#262626" stroke-width="1.00"/>
<line x1="290.60" y1="455.30" x2="290.60" y2="480.30" stroke="#262626" stroke-width="1.20"/>
<line x1="293.50" y1="455.30" x2="293.50" y2="480.30" stroke="#262626" stroke-width="2.00"/>
<line x1="297.50" y1="455.30" x2="297.50" y2="480.30" stroke="#262626" stroke-width="2.00"/>
<line x1="301.10" y1="455.30" x2="301.10" y2="480.30" stroke="#262626" stroke-width="1.00"/>
<line x1="304.70" y1="455.30" x2="304.70" y2="480.30" stroke="#262626" stroke-width="0.90"/>
<line x1="295.50" y1="458.30" x2="295.50" y2="478.30" stroke="#262626" stroke-width="0.90" stroke-dasharray="3 1.5"/>
<path transform="translate(2.50,288.30)" d="M279.00 192 H305.00 M280.20 192 V198 L277.00 204 V212 M303.80 192 V198 L306.60 204 V212" fill="none" stroke="#262626" stroke-width="1.30" stroke-linecap="butt" stroke-linejoin="round"/>
<path transform="translate(2.50,288.30)" d="M284.00 193 C285.50 199 285.50 206 284.00 212 M300.00 193 C298.50 199 298.50 206 300.00 212" fill="none" stroke="#262626" stroke-width="1.00" stroke-linecap="butt" stroke-linejoin="round"/>
<line x1="284.00" y1="485.30" x2="284.00" y2="499.30" stroke="#262626" stroke-width="1.60"/>
<line x1="305.10" y1="485.30" x2="305.10" y2="499.30" stroke="#262626" stroke-width="1.60"/>
<line x1="294.50" y1="481.30" x2="294.50" y2="499.30" stroke="#262626" stroke-width="0.90" stroke-dasharray="4 2"/>
<path transform="translate(2.50,288.30)" d="M286.00 196 L290.00 201 M289.00 201 H296.00 M293.60 197 V205" fill="none" stroke="#262626" stroke-width="0.90" stroke-linecap="butt" stroke-linejoin="round"/>
<rect x="277.70" y="500.30" width="35.00" height="43.00" rx="3.20" fill="none" stroke="#262626" stroke-width="1.50"/>
<circle cx="283.90" cy="508.90" r="3.40" fill="#8a8a8a" stroke="#262626" stroke-width="2.30"/>
<circle cx="283.90" cy="508.90" r="1.00" fill="#262626" stroke="#262626" stroke-width="0.80"/>
<circle cx="304.90" cy="508.90" r="3.40" fill="#8a8a8a" stroke="#262626" stroke-width="2.30"/>
<circle cx="304.90" cy="508.90" r="1.00" fill="#262626" stroke="#262626" stroke-width="0.80"/>
<circle cx="283.90" cy="533.30" r="3.40" fill="#8a8a8a" stroke="#262626" stroke-width="2.30"/>
<circle cx="283.90" cy="533.30" r="1.00" fill="#262626" stroke="#262626" stroke-width="0.80"/>
<circle cx="304.90" cy="533.30" r="3.40" fill="#8a8a8a" stroke="#262626" stroke-width="2.30"/>
<circle cx="304.90" cy="533.30" r="1.00" fill="#262626" stroke="#262626" stroke-width="0.80"/>
<line x1="288.80" y1="502.30" x2="288.80" y2="538.30" stroke="#262626" stroke-width="1.20"/>
<line x1="292.50" y1="502.30" x2="292.50" y2="538.30" stroke="#262626" stroke-width="1.00"/>
<line x1="297.50" y1="502.30" x2="297.50" y2="538.30" stroke="#262626" stroke-width="1.00"/>
<line x1="300.50" y1="502.30" x2="300.50" y2="538.30" stroke="#262626" stroke-width="1.20"/>
<rect x="293.50" y="504.30" width="3.00" height="32.00" rx="0.00" fill="#9a9a9a" stroke="none" stroke-width="0.00"/>
<path transform="translate(2.50,288.30)" d="M283.50 224 Q286.00 229 286.30 233 M300.30 224 Q298.00 229 298.00 233 M283.50 241.6 Q286.00 237 286.30 233 M300.30 241.6 Q298.00 237 298.00 233" fill="none" stroke="#262626" stroke-width="1.20" stroke-linecap="butt" stroke-linejoin="round"/>
<line x1="288.80" y1="538.30" x2="300.50" y2="538.30" stroke="#262626" stroke-width="1.20"/>
<rect x="288.80" y="538.30" width="13.80" height="5.00" rx="0.00" fill="none" stroke="#262626" stroke-width="1.10"/>
<path transform="translate(2.50,288.30)" d="M288.00 255 L289.50 258.6 H296.00 L297.60 255" fill="none" stroke="#262626" stroke-width="1.30" stroke-linecap="butt" stroke-linejoin="round"/>
<line x1="292.00" y1="545.30" x2="298.50" y2="545.30" stroke="#262626" stroke-width="1.40"/>
<line x1="165.00" y1="438.80" x2="165.00" y2="470.90" stroke="#262626" stroke-width="0.85"/>
<line x1="296.50" y1="438.30" x2="296.50" y2="445.80" stroke="#262626" stroke-width="0.85"/>
<line x1="165.00" y1="441.90" x2="296.50" y2="441.90" stroke="#262626" stroke-width="0.85"/>
<polygon points="165.00,441.90 171.80,440.70 171.80,443.10" fill="#262626"/>
<polygon points="296.50,441.90 289.70,443.10 289.70,440.70" fill="#262626"/>
<text transform="translate(231.00,440.30) scale(0.7500,1.0000)" font-family="'Liberation Sans', sans-serif" font-size="12.00" font-weight="normal" text-anchor="middle" fill="#262626" stroke="#262626" stroke-width="0.40">187</text>
<line x1="157.90" y1="453.80" x2="157.90" y2="478.70" stroke="#262626" stroke-width="0.85"/>
<line x1="232.10" y1="453.30" x2="232.10" y2="480.30" stroke="#262626" stroke-width="0.85"/>
<line x1="141.50" y1="456.30" x2="157.90" y2="456.30" stroke="#262626" stroke-width="0.85"/>
<polygon points="157.90,456.30 151.10,457.50 151.10,455.10" fill="#262626"/>
<line x1="165.00" y1="456.30" x2="232.10" y2="456.30" stroke="#262626" stroke-width="0.85"/>
<polygon points="165.00,456.30 171.80,455.10 171.80,457.50" fill="#262626"/>
<polygon points="232.10,456.30 225.30,457.50 225.30,455.10" fill="#262626"/>
<text transform="translate(161.50,455.30) scale(0.7500,1.0000)" font-family="'Liberation Sans', sans-serif" font-size="12.00" font-weight="normal" text-anchor="middle" fill="#262626" stroke="#262626" stroke-width="0.40">9</text>
<text transform="translate(199.00,454.90) scale(0.7500,1.0000)" font-family="'Liberation Sans', sans-serif" font-size="12.00" font-weight="normal" text-anchor="middle" fill="#262626" stroke="#262626" stroke-width="0.40">95</text>
<line x1="188.10" y1="522.90" x2="188.10" y2="573.30" stroke="#262626" stroke-width="0.85"/>
<polygon points="188.10,522.90 189.30,529.70 186.90,529.70" fill="#262626"/>
<polygon points="188.10,573.30 186.90,566.50 189.30,566.50" fill="#262626"/>
<text transform="translate(186.10,537.30) rotate(-90.00) scale(0.7500,1.0000)" font-family="'Liberation Sans', sans-serif" font-size="12.00" font-weight="normal" text-anchor="middle" fill="#262626" stroke="#262626" stroke-width="0.40">78.5</text>
<line x1="165.10" y1="573.50" x2="165.10" y2="628.90" stroke="#262626" stroke-width="0.85"/>
<line x1="176.90" y1="573.50" x2="176.90" y2="597.30" stroke="#262626" stroke-width="0.85"/>
<line x1="128.80" y1="594.70" x2="165.10" y2="594.70" stroke="#262626" stroke-width="0.85"/>
<polygon points="165.10,594.70 158.30,595.90 158.30,593.50" fill="#262626"/>
<line x1="176.90" y1="594.70" x2="193.50" y2="594.70" stroke="#262626" stroke-width="0.85"/>
<polygon points="176.90,594.70 183.70,593.50 183.70,595.90" fill="#262626"/>
<text transform="translate(138.50,593.30) scale(0.7500,1.0000)" font-family="'Liberation Sans', sans-serif" font-size="12.00" font-weight="normal" text-anchor="middle" fill="#262626" stroke="#262626" stroke-width="0.40">15.5</text>
<line x1="197.70" y1="577.90" x2="197.70" y2="608.90" stroke="#262626" stroke-width="0.85"/>
<line x1="165.50" y1="606.20" x2="197.70" y2="606.20" stroke="#262626" stroke-width="0.85"/>
<polygon points="165.50,606.20 172.30,605.00 172.30,607.40" fill="#262626"/>
<polygon points="197.70,606.20 190.90,607.40 190.90,605.00" fill="#262626"/>
<text transform="translate(184.00,604.00) scale(0.7500,1.0000)" font-family="'Liberation Sans', sans-serif" font-size="12.00" font-weight="normal" text-anchor="middle" fill="#262626" stroke="#262626" stroke-width="0.40">45</text>
<line x1="295.90" y1="584.30" x2="295.90" y2="613.90" stroke="#262626" stroke-width="0.85" stroke-dasharray="3 1.5"/>
<line x1="165.50" y1="611.50" x2="295.90" y2="611.50" stroke="#262626" stroke-width="0.85"/>
<polygon points="165.50,611.50 172.30,610.30 172.30,612.70" fill="#262626"/>
<polygon points="295.90,611.50 289.10,612.70 289.10,610.30" fill="#262626"/>
<text transform="translate(235.00,609.50) scale(0.7500,1.0000)" font-family="'Liberation Sans', sans-serif" font-size="12.00" font-weight="normal" text-anchor="middle" fill="#262626" stroke="#262626" stroke-width="0.40">184</text>
<text transform="translate(237.00,479.80)" font-family="'Liberation Serif', sans-serif" font-size="8.00" font-weight="normal" text-anchor="start" fill="#3e3e3e">L</text>
<text transform="translate(200.00,589.30)" font-family="'Liberation Serif', sans-serif" font-size="8.00" font-weight="normal" text-anchor="start" fill="#3e3e3e">L1</text>
<text transform="translate(301.90,594.60)" font-family="'Liberation Serif', sans-serif" font-size="8.50" font-weight="normal" text-anchor="start" fill="#3e3e3e">S</text>
<text transform="translate(301.10,448.30)" font-family="'Liberation Serif', sans-serif" font-size="8.00" font-weight="normal" text-anchor="start" fill="#3e3e3e">B</text>
<line x1="336.70" y1="583.90" x2="336.70" y2="627.80" stroke="#262626" stroke-width="0.85"/>
<line x1="353.90" y1="561.80" x2="353.90" y2="627.80" stroke="#262626" stroke-width="0.85"/>
<line x1="165.50" y1="625.90" x2="336.70" y2="625.90" stroke="#262626" stroke-width="0.85"/>
<polygon points="165.50,625.90 172.30,624.70 172.30,627.10" fill="#262626"/>
<polygon points="336.70,625.90 329.90,627.10 329.90,624.70" fill="#262626"/>
<text transform="translate(252.50,624.30) scale(0.7500,1.0000)" font-family="'Liberation Sans', sans-serif" font-size="12.00" font-weight="normal" text-anchor="middle" fill="#262626" stroke="#262626" stroke-width="0.40">242</text>
<line x1="353.90" y1="625.90" x2="362.50" y2="625.90" stroke="#262626" stroke-width="0.85"/>
<polygon points="353.90,625.90 360.70,624.70 360.70,627.10" fill="#262626"/>
<text transform="translate(346.00,624.30) scale(0.7500,1.0000)" font-family="'Liberation Sans', sans-serif" font-size="12.00" font-weight="normal" text-anchor="middle" fill="#262626" stroke="#262626" stroke-width="0.40">24</text>
<line x1="345.50" y1="458.50" x2="377.50" y2="458.50" stroke="#262626" stroke-width="0.85"/>
<line x1="345.50" y1="521.90" x2="377.50" y2="521.90" stroke="#262626" stroke-width="0.85"/>
<line x1="345.50" y1="583.90" x2="377.50" y2="583.90" stroke="#262626" stroke-width="0.85"/>
<line x1="306.30" y1="478.70" x2="363.50" y2="478.70" stroke="#262626" stroke-width="0.85"/>
<line x1="374.70" y1="458.70" x2="374.70" y2="521.70" stroke="#262626" stroke-width="0.85"/>
<polygon points="374.70,458.70 375.90,465.50 373.50,465.50" fill="#262626"/>
<polygon points="374.70,521.70 373.50,514.90 375.90,514.90" fill="#262626"/>
<line x1="374.70" y1="522.10" x2="374.70" y2="583.70" stroke="#262626" stroke-width="0.85"/>
<polygon points="374.70,522.10 375.90,528.90 373.50,528.90" fill="#262626"/>
<polygon points="374.70,583.70 373.50,576.90 375.90,576.90" fill="#262626"/>
<line x1="360.50" y1="478.90" x2="360.50" y2="521.70" stroke="#262626" stroke-width="0.85"/>
<polygon points="360.50,478.90 361.70,485.70 359.30,485.70" fill="#262626"/>
<polygon points="360.50,521.70 359.30,514.90 361.70,514.90" fill="#262626"/>
<text transform="translate(373.10,490.80) rotate(-90.00) scale(0.7500,1.0000)" font-family="'Liberation Sans', sans-serif" font-size="12.00" font-weight="normal" text-anchor="middle" fill="#262626" stroke="#262626" stroke-width="0.40">91</text>
<text transform="translate(373.10,553.80) rotate(-90.00) scale(0.7500,1.0000)" font-family="'Liberation Sans', sans-serif" font-size="12.00" font-weight="normal" text-anchor="middle" fill="#262626" stroke="#262626" stroke-width="0.40">91</text>
<text transform="translate(358.80,498.80) rotate(-90.00) scale(0.7500,1.0000)" font-family="'Liberation Sans', sans-serif" font-size="12.00" font-weight="normal" text-anchor="middle" fill="#262626" stroke="#262626" stroke-width="0.40">61</text>
<polyline points="301.30,470.80 316.30,448.60 341.30,448.60" fill="none" stroke="#262626" stroke-width="0.85" stroke-linejoin="round"/>
<text transform="translate(322.50,447.60) scale(0.9000,1.0000)" font-family="'Liberation Serif', sans-serif" font-size="7.50" font-weight="normal" text-anchor="start" fill="#3e3e3e">MB</text>
<text transform="translate(318.10,456.30)" font-family="'Liberation Serif', sans-serif" font-size="8.00" font-weight="normal" text-anchor="start" fill="#3e3e3e">G1/4"</text>
<text transform="translate(210.00,519.90)" font-family="'Liberation Serif', sans-serif" font-size="7.60" font-weight="normal" text-anchor="start" fill="#3e3e3e" letter-spacing="0.60">7/8-14UNF-2B</text>
<polyline points="201.30,578.30 226.30,594.30 280.50,594.30" fill="none" stroke="#262626" stroke-width="0.85" stroke-linejoin="round"/>
<text transform="translate(225.50,592.50)" font-family="'Liberation Serif', sans-serif" font-size="7.60" font-weight="normal" text-anchor="start" fill="#3e3e3e" letter-spacing="0.60">7/8-14UNF-2B</text>
<line x1="229.50" y1="500.30" x2="230.50" y2="514.30" stroke="#262626" stroke-width="0.80"/>
<polyline points="159.00,512.00 133.80,512.00 133.80,531.30 159.00,531.30" fill="none" stroke="#262626" stroke-width="1.50" stroke-linejoin="round"/>
<line x1="133.80" y1="512.40" x2="159.00" y2="512.40" stroke="#262626" stroke-width="2.00"/>
<line x1="135.00" y1="516.30" x2="154.00" y2="516.30" stroke="#262626" stroke-width="0.90" stroke-dasharray="3 1.5"/>
<path transform="translate(2.50,288.30)" d="M131.90 229.30 H144.50 L149.50 234.10 L144.50 239.10 H131.90" fill="none" stroke="#262626" stroke-width="1.30" stroke-linecap="butt" stroke-linejoin="round"/>
<path transform="translate(2.50,288.30)" d="M133.00 231.30 H143.10 L146.10 234.10 L143.10 237.10 H133.00" fill="none" stroke="#262626" stroke-width="1.00" stroke-linecap="butt" stroke-linejoin="round"/>
<line x1="135.50" y1="521.20" x2="146.00" y2="521.20" stroke="#262626" stroke-width="1.40" stroke-dasharray="1.5 1"/>
<line x1="135.50" y1="523.80" x2="146.00" y2="523.80" stroke="#262626" stroke-width="1.40" stroke-dasharray="1.5 1"/>
<line x1="136.60" y1="517.60" x2="136.60" y2="527.40" stroke="#262626" stroke-width="1.30"/>
<line x1="138.60" y1="517.60" x2="138.60" y2="527.40" stroke="#262626" stroke-width="0.90"/>
<line x1="81.90" y1="478.20" x2="157.90" y2="478.20" stroke="#262626" stroke-width="0.85"/>
<line x1="83.00" y1="567.20" x2="157.90" y2="567.20" stroke="#262626" stroke-width="0.85"/>
<line x1="84.60" y1="478.40" x2="84.60" y2="567.00" stroke="#262626" stroke-width="0.85"/>
<polygon points="84.60,478.40 85.80,485.20 83.40,485.20" fill="#262626"/>
<polygon points="84.60,567.00 83.40,560.20 85.80,560.20" fill="#262626"/>
<text transform="translate(78.60,547.50) rotate(-90.00) scale(0.7500,1.0000)" font-family="'Liberation Sans', sans-serif" font-size="12.00" font-weight="normal" text-anchor="start" fill="#262626" stroke="#262626" stroke-width="0.40">ø127</text>
<text transform="translate(83.00,523.00) rotate(-90.00) scale(0.7500,1.0000)" font-family="'Liberation Sans', sans-serif" font-size="12.00" font-weight="normal" text-anchor="start" fill="#262626" stroke="#262626" stroke-width="0.40">_0.063</text>
<text transform="translate(70.20,519.60) rotate(-90.00) scale(0.7500,1.0000)" font-family="'Liberation Sans', sans-serif" font-size="12.00" font-weight="normal" text-anchor="start" fill="#262626" stroke="#262626" stroke-width="0.40">0</text>
<line x1="105.00" y1="513.10" x2="133.80" y2="513.10" stroke="#262626" stroke-width="0.85"/>
<line x1="105.00" y1="531.30" x2="133.80" y2="531.30" stroke="#262626" stroke-width="0.85"/>
<line x1="108.10" y1="497.00" x2="108.10" y2="513.10" stroke="#262626" stroke-width="0.85"/>
<polygon points="108.10,513.10 106.90,506.30 109.30,506.30" fill="#262626"/>
<line x1="108.10" y1="531.30" x2="108.10" y2="547.00" stroke="#262626" stroke-width="0.85"/>
<polygon points="108.10,531.30 109.30,538.10 106.90,538.10" fill="#262626"/>
<text transform="translate(102.20,547.50) rotate(-90.00) scale(0.7500,1.0000)" font-family="'Liberation Sans', sans-serif" font-size="12.00" font-weight="normal" text-anchor="start" fill="#262626" stroke="#262626" stroke-width="0.40">ø25.4</text>
<text transform="translate(106.60,521.50) rotate(-90.00) scale(0.7500,1.0000)" font-family="'Liberation Sans', sans-serif" font-size="12.00" font-weight="normal" text-anchor="start" fill="#262626" stroke="#262626" stroke-width="0.40">_0.03</text>
<text transform="translate(94.40,515.20) rotate(-90.00) scale(0.7500,1.0000)" font-family="'Liberation Sans', sans-serif" font-size="12.00" font-weight="normal" text-anchor="start" fill="#262626" stroke="#262626" stroke-width="0.40">0</text>
<line x1="115.60" y1="503.00" x2="115.60" y2="591.00" stroke="#262626" stroke-width="0.85"/>
<polygon points="115.60,519.40 114.40,514.40 116.80,514.40" fill="#262626"/>
<polygon points="115.60,525.40 116.80,530.40 114.40,530.40" fill="#262626"/>
<line x1="112.50" y1="519.40" x2="133.80" y2="519.40" stroke="#262626" stroke-width="0.70"/>
<line x1="112.50" y1="525.40" x2="133.80" y2="525.40" stroke="#262626" stroke-width="0.70"/>
<line x1="44.00" y1="591.00" x2="115.60" y2="591.00" stroke="#262626" stroke-width="0.85"/>
<text transform="translate(44.00,587.00) scale(0.7000,1.0000)" font-family="'Liberation Sans', sans-serif" font-size="13.20" font-weight="normal" text-anchor="start" fill="#262626" textLength="100.71" lengthAdjust="spacingAndGlyphs" stroke="#262626" stroke-width="0.20">1/4-20UNC-2B</text>
<line x1="132.60" y1="487.00" x2="132.60" y2="512.00" stroke="#262626" stroke-width="0.85"/>
<line x1="134.20" y1="487.00" x2="134.20" y2="512.00" stroke="#262626" stroke-width="0.85"/>
<line x1="115.60" y1="488.60" x2="132.60" y2="488.60" stroke="#262626" stroke-width="0.85"/>
<polygon points="132.60,488.60 125.80,489.80 125.80,487.40" fill="#262626"/>
<line x1="134.20" y1="488.60" x2="150.60" y2="488.60" stroke="#262626" stroke-width="0.85"/>
<polygon points="134.20,488.60 141.00,487.40 141.00,489.80" fill="#262626"/>
<text transform="translate(133.60,487.60) scale(0.7500,1.0000)" font-family="'Liberation Sans', sans-serif" font-size="12.00" font-weight="normal" text-anchor="middle" fill="#262626" stroke="#262626" stroke-width="0.40">2.2</text>
<line x1="134.20" y1="508.00" x2="158.00" y2="508.00" stroke="#262626" stroke-width="0.85"/>
<polygon points="134.20,508.00 141.00,506.80 141.00,509.20" fill="#262626"/>
<polygon points="158.00,508.00 151.20,509.20 151.20,506.80" fill="#262626"/>
<text transform="translate(147.50,506.40) scale(0.7500,1.0000)" font-family="'Liberation Sans', sans-serif" font-size="12.00" font-weight="normal" text-anchor="middle" fill="#262626" stroke="#262626" stroke-width="0.40">34.9</text>
<line x1="133.00" y1="531.30" x2="133.00" y2="583.00" stroke="#262626" stroke-width="0.85"/>
<line x1="145.00" y1="531.00" x2="145.00" y2="548.50" stroke="#262626" stroke-width="0.85"/>
<line x1="116.00" y1="547.00" x2="133.00" y2="547.00" stroke="#262626" stroke-width="0.85"/>
<polygon points="133.00,547.00 126.20,548.20 126.20,545.80" fill="#262626"/>
<line x1="145.00" y1="547.00" x2="159.00" y2="547.00" stroke="#262626" stroke-width="0.85"/>
<polygon points="145.00,547.00 151.80,545.80 151.80,548.20" fill="#262626"/>
<text transform="translate(139.00,545.80) scale(0.7500,1.0000)" font-family="'Liberation Sans', sans-serif" font-size="12.00" font-weight="normal" text-anchor="middle" fill="#262626" stroke="#262626" stroke-width="0.40">17</text>
<line x1="133.00" y1="561.60" x2="159.00" y2="561.60" stroke="#262626" stroke-width="0.85"/>
<polygon points="133.00,561.60 139.80,560.40 139.80,562.80" fill="#262626"/>
<polygon points="159.00,561.60 152.20,562.80 152.20,560.40" fill="#262626"/>
<text transform="translate(148.00,560.20) scale(0.7500,1.0000)" font-family="'Liberation Sans', sans-serif" font-size="12.00" font-weight="normal" text-anchor="middle" fill="#262626" stroke="#262626" stroke-width="0.40">38</text>
<line x1="133.00" y1="580.60" x2="165.00" y2="580.60" stroke="#262626" stroke-width="0.85"/>
<polygon points="133.00,580.60 139.80,579.40 139.80,581.80" fill="#262626"/>
<polygon points="165.00,580.60 158.20,581.80 158.20,579.40" fill="#262626"/>
<text transform="translate(149.00,579.20) scale(0.7500,1.0000)" font-family="'Liberation Sans', sans-serif" font-size="12.00" font-weight="normal" text-anchor="middle" fill="#262626" stroke="#262626" stroke-width="0.40">45.9</text>
<circle cx="514.00" cy="520.50" r="43.80" fill="none" stroke="#262626" stroke-width="2.00"/>
<circle cx="514.00" cy="520.50" r="35.60" fill="none" stroke="#262626" stroke-width="2.00"/>
<circle cx="514.00" cy="520.50" r="14.00" fill="none" stroke="#262626" stroke-width="1.60"/>
<circle cx="514.00" cy="520.50" r="8.80" fill="none" stroke="#262626" stroke-width="1.30"/>
<circle cx="514.00" cy="520.50" r="2.00" fill="#262626" stroke="#262626" stroke-width="1.00"/>
<rect x="462.70" y="469.40" width="103.00" height="102.00" rx="8.50" fill="none" stroke="#262626" stroke-width="1.50"/>
<circle cx="474.00" cy="480.60" r="4.70" fill="none" stroke="#262626" stroke-width="1.20"/>
<line x1="467.50" y1="480.60" x2="480.50" y2="480.60" stroke="#262626" stroke-width="0.80"/>
<line x1="474.00" y1="474.10" x2="474.00" y2="487.10" stroke="#262626" stroke-width="0.80"/>
<circle cx="554.10" cy="480.40" r="4.70" fill="none" stroke="#262626" stroke-width="1.20"/>
<line x1="547.60" y1="480.40" x2="560.60" y2="480.40" stroke="#262626" stroke-width="0.80"/>
<line x1="554.10" y1="473.90" x2="554.10" y2="486.90" stroke="#262626" stroke-width="0.80"/>
<circle cx="474.40" cy="559.90" r="4.70" fill="none" stroke="#262626" stroke-width="1.20"/>
<line x1="467.90" y1="559.90" x2="480.90" y2="559.90" stroke="#262626" stroke-width="0.80"/>
<line x1="474.40" y1="553.40" x2="474.40" y2="566.40" stroke="#262626" stroke-width="0.80"/>
<circle cx="554.50" cy="559.60" r="4.70" fill="none" stroke="#262626" stroke-width="1.20"/>
<line x1="548.00" y1="559.60" x2="561.00" y2="559.60" stroke="#262626" stroke-width="0.80"/>
<line x1="554.50" y1="553.10" x2="554.50" y2="566.10" stroke="#262626" stroke-width="0.80"/>
<path transform="translate(2.50,288.10)" d="M475 181 A63 63 0 0 1 548 181" fill="none" stroke="#262626" stroke-width="1.30" stroke-linecap="butt" stroke-linejoin="round"/>
<path transform="translate(2.50,288.10)" d="M485.2 179 L490 175.8 Q511.5 173.2 533 175.8 L537.8 179 Z" fill="none" stroke="#262626" stroke-width="1.20" stroke-linecap="butt" stroke-linejoin="round"/>
<path transform="translate(2.50,288.10)" d="M475 283.6 A63 63 0 0 0 548 283.6" fill="none" stroke="#262626" stroke-width="1.30" stroke-linecap="butt" stroke-linejoin="round"/>
<path transform="translate(2.50,288.10)" d="M480 283.6 A58.6 58.6 0 0 0 543 283.6" fill="none" stroke="#262626" stroke-width="1.20" stroke-linecap="butt" stroke-linejoin="round"/>
<rect x="499.50" y="572.70" width="31.00" height="3.60" rx="1.80" fill="none" stroke="#262626" stroke-width="1.10"/>
<polyline points="461.50,484.10 447.30,504.40 447.30,534.40 462.70,556.60" fill="none" stroke="#262626" stroke-width="1.30" stroke-linejoin="round"/>
<polyline points="461.90,490.10 450.50,505.90 450.50,533.10 462.30,551.10" fill="none" stroke="#262626" stroke-width="1.10" stroke-linejoin="round"/>
<polyline points="462.30,496.10 453.30,508.10 453.30,531.10 462.50,545.10" fill="none" stroke="#262626" stroke-width="0.90" stroke-linejoin="round"/>
<path transform="translate(2.50,288.10)" d="M564 196.5 Q572 205 575 219 M575 248.5 L563.5 267.5" fill="none" stroke="#262626" stroke-width="1.30" stroke-linecap="butt" stroke-linejoin="round"/>
<path transform="translate(2.50,288.10)" d="M564 203 Q569.5 210 572.4 220 M573 252 L563.6 262" fill="none" stroke="#262626" stroke-width="1.10" stroke-linecap="butt" stroke-linejoin="round"/>
<line x1="439.50" y1="520.50" x2="631.30" y2="520.50" stroke="#262626" stroke-width="0.85" stroke-dasharray="9 2 2 2"/>
<line x1="514.00" y1="443.10" x2="514.00" y2="623.60" stroke="#262626" stroke-width="0.85" stroke-dasharray="14 2 2 2"/>
<rect x="511.90" y="498.00" width="4.40" height="9.70" rx="0.00" fill="none" stroke="#262626" stroke-width="1.00"/>
<path transform="translate(2.50,288.10)" d="M572.6 189.4 V166.4 L574.6 164.4 H593 L595 166.4 V189.4" fill="none" stroke="#262626" stroke-width="1.40" stroke-linecap="butt" stroke-linejoin="round"/>
<line x1="586.30" y1="452.50" x2="586.30" y2="477.50" stroke="#262626" stroke-width="1.10"/>
<rect x="581.00" y="447.50" width="10.90" height="5.00" rx="0.00" fill="#c8c8c8" stroke="#262626" stroke-width="1.20"/>
<rect x="583.20" y="441.10" width="6.30" height="6.40" rx="0.00" fill="#9a9a9a" stroke="#262626" stroke-width="1.10"/>
<line x1="585.10" y1="441.10" x2="585.10" y2="452.50" stroke="#262626" stroke-width="0.70"/>
<line x1="587.50" y1="441.10" x2="587.50" y2="452.50" stroke="#262626" stroke-width="0.70"/>
<path transform="translate(2.50,288.10)" d="M597 189.4 V172 L598.5 170.6 H609 L610.6 172 V189.4" fill="none" stroke="#262626" stroke-width="1.30" stroke-linecap="butt" stroke-linejoin="round"/>
<line x1="605.90" y1="458.70" x2="605.90" y2="477.50" stroke="#262626" stroke-width="1.00"/>
<rect x="600.10" y="453.10" width="10.40" height="5.60" rx="0.00" fill="#c8c8c8" stroke="#262626" stroke-width="1.20"/>
<rect x="602.70" y="448.10" width="6.00" height="5.00" rx="0.00" fill="#9a9a9a" stroke="#262626" stroke-width="1.10"/>
<line x1="604.50" y1="448.10" x2="604.50" y2="458.70" stroke="#262626" stroke-width="0.70"/>
<line x1="606.90" y1="448.10" x2="606.90" y2="458.70" stroke="#262626" stroke-width="0.70"/>
<polyline points="575.10,477.50 614.90,477.50 614.90,535.10 593.30,535.10" fill="none" stroke="#262626" stroke-width="1.40" stroke-linejoin="round"/>
<line x1="575.10" y1="477.50" x2="575.10" y2="500.10" stroke="#262626" stroke-width="1.40"/>
<line x1="612.70" y1="499.40" x2="612.70" y2="535.10" stroke="#262626" stroke-width="1.00"/>
<line x1="596.30" y1="477.50" x2="596.30" y2="512.10" stroke="#262626" stroke-width="1.20"/>
<line x1="596.30" y1="499.40" x2="614.90" y2="499.40" stroke="#262626" stroke-width="1.20"/>
<circle cx="581.30" cy="491.10" r="5.40" fill="none" stroke="#262626" stroke-width="1.30"/>
<line x1="581.30" y1="484.10" x2="581.30" y2="498.10" stroke="#262626" stroke-width="0.70"/>
<line x1="574.50" y1="491.10" x2="588.50" y2="491.10" stroke="#262626" stroke-width="0.70"/>
<circle cx="601.90" cy="490.60" r="6.40" fill="none" stroke="#262626" stroke-width="2.00"/>
<circle cx="601.90" cy="490.60" r="3.40" fill="none" stroke="#262626" stroke-width="1.20"/>
<line x1="601.90" y1="487.10" x2="601.90" y2="494.10" stroke="#262626" stroke-width="0.70"/>
<line x1="598.50" y1="490.60" x2="605.50" y2="490.60" stroke="#262626" stroke-width="0.70"/>
<text transform="translate(607.50,482.70) scale(1.3000,1.0000)" font-family="'Liberation Sans', sans-serif" font-size="6.00" font-weight="bold" text-anchor="start" fill="#262626" stroke="#262626" stroke-width="0.40">x</text>
<line x1="606.00" y1="499.40" x2="606.00" y2="538.10" stroke="#262626" stroke-width="0.80" stroke-dasharray="5 2"/>
<polyline points="578.10,501.90 596.30,501.90" fill="none" stroke="#262626" stroke-width="1.20" stroke-linejoin="round"/>
<polyline points="578.10,515.10 591.90,515.10 591.90,512.30 596.30,512.30" fill="none" stroke="#262626" stroke-width="1.20" stroke-linejoin="round"/>
<line x1="591.90" y1="501.90" x2="591.90" y2="512.30" stroke="#262626" stroke-width="1.00"/>
<polyline points="578.10,523.70 589.50,523.70 589.50,531.10 593.50,531.10 593.50,542.50 580.00,542.50 580.00,538.10" fill="none" stroke="#262626" stroke-width="1.20" stroke-linejoin="round"/>
<line x1="580.00" y1="538.10" x2="589.50" y2="538.10" stroke="#262626" stroke-width="1.10"/>
<line x1="589.50" y1="531.10" x2="589.50" y2="538.10" stroke="#262626" stroke-width="1.00"/>
<line x1="578.10" y1="501.90" x2="578.10" y2="538.10" stroke="#262626" stroke-width="1.30"/>
<line x1="593.50" y1="533.70" x2="602.00" y2="533.70" stroke="#262626" stroke-width="2.00"/>
<line x1="569.50" y1="507.50" x2="596.30" y2="507.50" stroke="#262626" stroke-width="0.70" stroke-dasharray="4 2"/>
<line x1="569.50" y1="531.10" x2="587.50" y2="531.10" stroke="#262626" stroke-width="0.70" stroke-dasharray="4 2"/>
<path transform="translate(2.50,288.10)" d="M572.6 212 L563.6 226" fill="none" stroke="#262626" stroke-width="1.00" stroke-linecap="butt" stroke-linejoin="round"/>
<line x1="421.30" y1="469.40" x2="470.50" y2="469.40" stroke="#262626" stroke-width="0.85"/>
<line x1="422.50" y1="571.40" x2="470.50" y2="571.40" stroke="#262626" stroke-width="0.85"/>
<line x1="424.00" y1="469.60" x2="424.00" y2="571.20" stroke="#262626" stroke-width="0.85"/>
<polygon points="424.00,469.60 425.20,476.40 422.80,476.40" fill="#262626"/>
<polygon points="424.00,571.20 422.80,564.40 425.20,564.40" fill="#262626"/>
<text transform="translate(422.10,520.50) rotate(-90.00) scale(0.7500,1.0000)" font-family="'Liberation Sans', sans-serif" font-size="12.00" font-weight="normal" text-anchor="middle" fill="#262626" stroke="#262626" stroke-width="0.40">146</text>
<line x1="438.70" y1="480.60" x2="468.50" y2="480.60" stroke="#262626" stroke-width="0.85"/>
<line x1="439.70" y1="560.00" x2="469.50" y2="560.00" stroke="#262626" stroke-width="0.85"/>
<line x1="441.70" y1="480.80" x2="441.70" y2="559.80" stroke="#262626" stroke-width="0.85"/>
<polygon points="441.70,480.80 442.90,487.60 440.50,487.60" fill="#262626"/>
<polygon points="441.70,559.80 440.50,553.00 442.90,553.00" fill="#262626"/>
<text transform="translate(439.80,520.50) rotate(-90.00) scale(0.7500,1.0000)" font-family="'Liberation Sans', sans-serif" font-size="12.00" font-weight="normal" text-anchor="middle" fill="#262626" stroke="#262626" stroke-width="0.40">113.2</text>
<line x1="474.50" y1="565.10" x2="474.50" y2="597.60" stroke="#262626" stroke-width="0.85"/>
<line x1="554.70" y1="565.10" x2="554.70" y2="597.60" stroke="#262626" stroke-width="0.85"/>
<line x1="474.50" y1="595.10" x2="554.70" y2="595.10" stroke="#262626" stroke-width="0.85"/>
<polygon points="474.50,595.10 481.30,593.90 481.30,596.30" fill="#262626"/>
<polygon points="554.70,595.10 547.90,596.30 547.90,593.90" fill="#262626"/>
<text transform="translate(514.00,593.10) scale(0.7500,1.0000)" font-family="'Liberation Sans', sans-serif" font-size="12.00" font-weight="normal" text-anchor="middle" fill="#262626" stroke="#262626" stroke-width="0.40">113.2</text>
<line x1="463.10" y1="571.10" x2="463.10" y2="610.70" stroke="#262626" stroke-width="0.85"/>
<line x1="566.00" y1="571.10" x2="566.00" y2="610.70" stroke="#262626" stroke-width="0.85"/>
<line x1="463.10" y1="608.50" x2="566.00" y2="608.50" stroke="#262626" stroke-width="0.85"/>
<polygon points="463.10,608.50 469.90,607.30 469.90,609.70" fill="#262626"/>
<polygon points="566.00,608.50 559.20,609.70 559.20,607.30" fill="#262626"/>
<text transform="translate(515.00,606.70) scale(0.7500,1.0000)" font-family="'Liberation Sans', sans-serif" font-size="12.00" font-weight="normal" text-anchor="middle" fill="#262626" stroke="#262626" stroke-width="0.40">146</text>
<line x1="447.50" y1="534.10" x2="447.50" y2="623.60" stroke="#262626" stroke-width="0.85"/>
<line x1="602.00" y1="499.40" x2="602.00" y2="624.10" stroke="#262626" stroke-width="0.85"/>
<line x1="447.50" y1="621.50" x2="514.00" y2="621.50" stroke="#262626" stroke-width="0.85"/>
<polygon points="447.50,621.50 454.30,620.30 454.30,622.70" fill="#262626"/>
<polygon points="514.00,621.50 507.20,622.70 507.20,620.30" fill="#262626"/>
<line x1="514.00" y1="621.50" x2="602.00" y2="621.50" stroke="#262626" stroke-width="0.85"/>
<polygon points="514.00,621.50 520.80,620.30 520.80,622.70" fill="#262626"/>
<polygon points="602.00,621.50 595.20,622.70 595.20,620.30" fill="#262626"/>
<text transform="translate(487.50,620.10) scale(0.7500,1.0000)" font-family="'Liberation Sans', sans-serif" font-size="12.00" font-weight="normal" text-anchor="middle" fill="#262626" stroke="#262626" stroke-width="0.40">93.5</text>
<text transform="translate(556.50,620.10) scale(0.7500,1.0000)" font-family="'Liberation Sans', sans-serif" font-size="12.00" font-weight="normal" text-anchor="middle" fill="#262626" stroke="#262626" stroke-width="0.40">129</text>
<line x1="478.75" y1="462.50" x2="529.50" y2="430.00" stroke="#262626" stroke-width="0.85"/>
<polygon points="478.75,462.50 483.83,457.82 485.12,459.84" fill="#262626"/>
<polygon points="529.50,430.00 524.42,434.68 523.13,432.66" fill="#262626"/>
<line x1="475.10" y1="458.30" x2="514.00" y2="520.50" stroke="#262626" stroke-width="0.85"/>
<line x1="528.30" y1="426.30" x2="570.50" y2="490.10" stroke="#262626" stroke-width="0.85"/>
<text transform="translate(505.00,444.10) rotate(-32.64) scale(0.7500,1.0000)" font-family="'Liberation Sans', sans-serif" font-size="12.00" font-weight="normal" text-anchor="middle" fill="#262626" stroke="#262626" stroke-width="0.40">89.5</text>
<path transform="translate(2.50,288.10)" d="M512.50 157.90 A74.5 74.5 0 0 1 574.33 192.37" fill="none" stroke="#262626" stroke-width="0.85" stroke-linecap="butt" stroke-linejoin="round"/>
<polygon points="515.00,446.00 521.80,444.80 521.80,447.20" fill="#262626"/>
<polygon points="576.83,480.47 572.17,475.38 574.19,474.09" fill="#262626"/>
<text transform="translate(548.00,450.10) rotate(37.00) scale(0.7500,1.0000)" font-family="'Liberation Sans', sans-serif" font-size="12.00" font-weight="normal" text-anchor="start" fill="#262626" stroke="#262626" stroke-width="0.40">57.5.</text>
<text transform="translate(533.50,479.10) scale(0.7500,1.0000)" font-family="'Liberation Sans', sans-serif" font-size="12.00" font-weight="normal" text-anchor="start" fill="#262626" stroke="#262626" stroke-width="0.40">10</text>
<polyline points="533.50,480.40 544.50,480.40 558.50,504.10" fill="none" stroke="#262626" stroke-width="0.85" stroke-linejoin="round"/>
<line x1="533.50" y1="507.50" x2="563.00" y2="487.70" stroke="#262626" stroke-width="0.85"/>
<polygon points="559.00,504.10 555.27,500.56 557.28,499.25" fill="#262626"/>
<line x1="547.00" y1="500.70" x2="577.50" y2="480.60" stroke="#262626" stroke-width="0.85"/>
<line x1="502.50" y1="497.80" x2="511.90" y2="497.80" stroke="#262626" stroke-width="0.85"/>
<polygon points="511.90,497.80 506.90,499.00 506.90,496.60" fill="#262626"/>
<line x1="516.30" y1="497.80" x2="532.50" y2="497.80" stroke="#262626" stroke-width="0.85"/>
<polygon points="516.30,497.80 521.30,496.60 521.30,499.00" fill="#262626"/>
<line x1="527.50" y1="509.40" x2="545.50" y2="509.40" stroke="#262626" stroke-width="0.85"/>
<line x1="514.50" y1="528.70" x2="545.50" y2="528.70" stroke="#262626" stroke-width="0.85"/>
<line x1="543.90" y1="509.40" x2="543.90" y2="528.70" stroke="#262626" stroke-width="0.85"/>
<polygon points="543.90,509.40 545.10,514.40 542.70,514.40" fill="#262626"/>
<polygon points="543.90,528.70 542.70,523.70 545.10,523.70" fill="#262626"/>
<text transform="translate(542.10,519.10) rotate(-90.00) scale(0.7500,1.0000)" font-family="'Liberation Sans', sans-serif" font-size="12.00" font-weight="normal" text-anchor="middle" fill="#262626" stroke="#262626" stroke-width="0.40">28.4</text>
<line x1="608.50" y1="490.70" x2="631.30" y2="490.70" stroke="#262626" stroke-width="0.85"/>
<line x1="602.50" y1="519.30" x2="632.50" y2="519.30" stroke="#262626" stroke-width="0.85"/>
<line x1="629.50" y1="490.90" x2="629.50" y2="519.10" stroke="#262626" stroke-width="0.85"/>
<polygon points="629.50,490.90 630.70,497.70 628.30,497.70" fill="#262626"/>
<polygon points="629.50,519.10 628.30,512.30 630.70,512.30" fill="#262626"/>
<text transform="translate(627.50,505.10) rotate(-90.00) scale(0.7500,1.0000)" font-family="'Liberation Sans', sans-serif" font-size="12.00" font-weight="normal" text-anchor="middle" fill="#262626" stroke="#262626" stroke-width="0.40">40</text>
<line x1="448.00" y1="521.10" x2="417.50" y2="596.90" stroke="#262626" stroke-width="0.85"/>
<text transform="translate(398.50,605.10) scale(1,1.100)" x="1.7 5.2 8.6 12.1 15.5 19.0 22.4 25.9 29.3 32.8 36.2 39.7 43.1 46.6" text-anchor="middle" font-family="'Liberation Serif', serif" font-size="7.26" fill="#444" stroke="#444" stroke-width="0.18">Valve mounting</text>
<text transform="translate(398.50,613.20) scale(1,1.100)" x="1.7 5.2 8.6 12.1 15.5 19.0 22.4 25.9 29.3 32.8 36.2" text-anchor="middle" font-family="'Liberation Serif', serif" font-size="7.26" fill="#444" stroke="#444" stroke-width="0.18">for counter</text>
<text transform="translate(398.50,621.30) scale(1,1.100)" x="1.7 5.2 8.6 12.1 15.5 19.0 22.4 25.9 29.3" text-anchor="middle" font-family="'Liberation Serif', serif" font-size="7.26" fill="#444" stroke="#444" stroke-width="0.18">clockwise</text>
<text transform="translate(398.50,629.40) scale(1,1.100)" x="1.7 5.2 8.6 12.1 15.5 19.0 22.4 25.9" text-anchor="middle" font-family="'Liberation Serif', serif" font-size="7.26" fill="#444" stroke="#444" stroke-width="0.18">rotation</text>
<text transform="translate(439.10,459.10) scale(0.7500,1.0000)" font-family="'Liberation Sans', sans-serif" font-size="12.00" font-weight="normal" text-anchor="start" fill="#262626" stroke="#262626" stroke-width="0.40">ø14.3</text>
<polyline points="438.70,460.70 464.10,460.70 472.00,478.10" fill="none" stroke="#262626" stroke-width="0.85" stroke-linejoin="round"/>
<line x1="477.00" y1="483.60" x2="511.50" y2="518.10" stroke="#262626" stroke-width="0.80"/>
<text transform="translate(514.30,495.70) scale(0.7500,1.0000)" font-family="'Liberation Sans', sans-serif" font-size="12.00" font-weight="normal" text-anchor="middle" fill="#262626" stroke="#262626" stroke-width="0.40">6.35</text>
<polyline points="610.00,477.50 621.30,454.30 680.50,454.30" fill="none" stroke="#262626" stroke-width="0.85" stroke-linejoin="round"/>
<text transform="translate(643.70,453.30)" font-family="'Liberation Serif', sans-serif" font-size="8.60" font-weight="normal" text-anchor="start" fill="#3e3e3e">X</text>
<text transform="translate(623.10,462.50)" font-family="'Liberation Serif', sans-serif" font-size="7.60" font-weight="normal" text-anchor="start" fill="#3e3e3e" letter-spacing="0.45">7/16-20UNF-2B</text>
<path transform="translate(2.60,278.70)" d="M714 176 H733.6 Q738.4 177 739.6 183 Q741.6 192 741.4 199.4 Q741.6 207 739.6 215.6 Q738.4 221.6 733.6 222.6 H714 Q709.2 221.6 708 215.6 Q706 207 706.2 199.4 Q706 192 708 183 Q709.2 177 714 176 Z" fill="none" stroke="#262626" stroke-width="1.40" stroke-linecap="butt" stroke-linejoin="round"/>
<circle cx="718.30" cy="461.50" r="3.30" fill="none" stroke="#262626" stroke-width="1.20"/>
<circle cx="718.30" cy="461.50" r="1.60" fill="none" stroke="#262626" stroke-width="0.80"/>
<line x1="718.30" y1="465.70" x2="718.30" y2="468.30" stroke="#262626" stroke-width="0.80"/>
<circle cx="734.10" cy="461.50" r="3.30" fill="none" stroke="#262626" stroke-width="1.20"/>
<circle cx="734.10" cy="461.50" r="1.60" fill="none" stroke="#262626" stroke-width="0.80"/>
<line x1="734.10" y1="465.70" x2="734.10" y2="468.30" stroke="#262626" stroke-width="0.80"/>
<circle cx="718.50" cy="494.70" r="3.30" fill="none" stroke="#262626" stroke-width="1.20"/>
<circle cx="718.50" cy="494.70" r="1.60" fill="none" stroke="#262626" stroke-width="0.80"/>
<line x1="718.50" y1="487.90" x2="718.50" y2="490.50" stroke="#262626" stroke-width="0.80"/>
<circle cx="734.10" cy="494.70" r="3.30" fill="none" stroke="#262626" stroke-width="1.20"/>
<circle cx="734.10" cy="494.70" r="1.60" fill="none" stroke="#262626" stroke-width="0.80"/>
<line x1="734.10" y1="487.90" x2="734.10" y2="490.50" stroke="#262626" stroke-width="0.80"/>
<circle cx="726.40" cy="478.10" r="6.90" fill="none" stroke="#262626" stroke-width="1.50"/>
<line x1="726.40" y1="451.70" x2="726.40" y2="504.70" stroke="#262626" stroke-width="0.80" stroke-dasharray="8 2 2 2"/>
<line x1="701.40" y1="478.10" x2="746.40" y2="478.10" stroke="#262626" stroke-width="0.80"/>
<text transform="translate(701.40,436.30)" font-family="'Liberation Serif', sans-serif" font-size="8.00" font-weight="normal" text-anchor="start" fill="#777">B</text>
<text transform="translate(712.20,475.30)" font-family="'Liberation Serif', sans-serif" font-size="9.50" font-weight="normal" text-anchor="start" fill="#888">B</text>
<line x1="718.20" y1="447.50" x2="718.20" y2="460.70" stroke="#262626" stroke-width="0.85"/>
<line x1="733.90" y1="447.50" x2="733.90" y2="460.70" stroke="#262626" stroke-width="0.85"/>
<line x1="702.00" y1="449.00" x2="718.20" y2="449.00" stroke="#262626" stroke-width="0.85"/>
<polygon points="718.20,449.00 711.40,450.20 711.40,447.80" fill="#262626"/>
<line x1="733.90" y1="449.00" x2="750.60" y2="449.00" stroke="#262626" stroke-width="0.85"/>
<polygon points="733.90,449.00 740.70,447.80 740.70,450.20" fill="#262626"/>
<line x1="718.20" y1="449.00" x2="733.90" y2="449.00" stroke="#262626" stroke-width="0.85"/>
<text transform="translate(726.20,447.50) scale(0.7500,1.0000)" font-family="'Liberation Sans', sans-serif" font-size="12.00" font-weight="normal" text-anchor="middle" fill="#262626" stroke="#262626" stroke-width="0.40">26.2</text>
<line x1="695.10" y1="461.10" x2="715.60" y2="461.10" stroke="#262626" stroke-width="0.85"/>
<line x1="695.10" y1="494.30" x2="715.60" y2="494.30" stroke="#262626" stroke-width="0.85"/>
<line x1="698.20" y1="461.30" x2="698.20" y2="494.10" stroke="#262626" stroke-width="0.85"/>
<polygon points="698.20,461.30 699.40,468.10 697.00,468.10" fill="#262626"/>
<polygon points="698.20,494.10 697.00,487.30 699.40,487.30" fill="#262626"/>
<text transform="translate(696.20,477.70) rotate(-90.00) scale(0.7500,1.0000)" font-family="'Liberation Sans', sans-serif" font-size="12.00" font-weight="normal" text-anchor="middle" fill="#262626" stroke="#262626" stroke-width="0.40">52.4</text>
<text transform="translate(757.00,457.50) scale(0.7500,1.0000)" font-family="'Liberation Sans', sans-serif" font-size="12.00" font-weight="normal" text-anchor="start" fill="#262626" stroke="#262626" stroke-width="0.40">ø25</text>
<polyline points="772.60,458.70 756.40,458.70 706.40,491.20" fill="none" stroke="#262626" stroke-width="0.85" stroke-linejoin="round"/>
<polygon points="732.19,474.34 735.72,470.61 737.03,472.62" fill="#262626"/>
<polygon points="720.61,481.86 717.08,485.59 715.77,483.58" fill="#262626"/>
<line x1="741.00" y1="480.00" x2="735.20" y2="492.70" stroke="#262626" stroke-width="0.85"/>
<polygon points="735.00,493.10 735.94,488.04 738.13,489.02" fill="#262626"/>
<polyline points="650.00,515.60 724.00,515.60 735.00,494.50" fill="none" stroke="#262626" stroke-width="0.85" stroke-linejoin="round"/>
<text transform="translate(650.00,511.00) scale(0.7000,1.0000)" font-family="'Liberation Sans', sans-serif" font-size="13.20" font-weight="normal" text-anchor="start" fill="#262626" textLength="102.86" lengthAdjust="spacingAndGlyphs" stroke="#262626" stroke-width="0.20">3/8-16UNC-2B</text>
<text transform="translate(658.00,524.60)" font-family="'Liberation Serif', sans-serif" font-size="8.00" font-weight="normal" text-anchor="start" fill="#3e3e3e" letter-spacing="0.50">deep 18</text>
<path transform="translate(2.90,288.50)" d="M713 244.8 H736 Q742 246 743.4 253 Q745.8 263 745.6 272.5 Q745.8 282 743.4 292 Q742 299.4 736 300.6 H713 Q707 299.4 705.6 292 Q703.4 282 703.6 272.5 Q703.4 263 705.6 253 Q707 246 713 244.8 Z" fill="none" stroke="#262626" stroke-width="1.40" stroke-linecap="butt" stroke-linejoin="round"/>
<circle cx="716.70" cy="540.80" r="3.30" fill="none" stroke="#262626" stroke-width="1.20"/>
<circle cx="716.70" cy="540.80" r="1.60" fill="none" stroke="#262626" stroke-width="0.80"/>
<line x1="716.70" y1="545.00" x2="716.70" y2="547.60" stroke="#262626" stroke-width="0.80"/>
<circle cx="738.20" cy="540.80" r="3.30" fill="none" stroke="#262626" stroke-width="1.20"/>
<circle cx="738.20" cy="540.80" r="1.60" fill="none" stroke="#262626" stroke-width="0.80"/>
<line x1="738.20" y1="545.00" x2="738.20" y2="547.60" stroke="#262626" stroke-width="0.80"/>
<circle cx="716.70" cy="582.00" r="3.30" fill="none" stroke="#262626" stroke-width="1.20"/>
<circle cx="716.70" cy="582.00" r="1.60" fill="none" stroke="#262626" stroke-width="0.80"/>
<line x1="716.70" y1="575.20" x2="716.70" y2="577.80" stroke="#262626" stroke-width="0.80"/>
<circle cx="738.20" cy="582.00" r="3.30" fill="none" stroke="#262626" stroke-width="1.20"/>
<circle cx="738.20" cy="582.00" r="1.60" fill="none" stroke="#262626" stroke-width="0.80"/>
<line x1="738.20" y1="575.20" x2="738.20" y2="577.80" stroke="#262626" stroke-width="0.80"/>
<circle cx="727.50" cy="561.00" r="11.20" fill="none" stroke="#262626" stroke-width="1.60"/>
<line x1="727.50" y1="533.50" x2="727.50" y2="593.50" stroke="#262626" stroke-width="0.80" stroke-dasharray="5 2.5"/>
<line x1="704.90" y1="561.00" x2="750.40" y2="561.00" stroke="#262626" stroke-width="1.20"/>
<line x1="718.90" y1="561.00" x2="724.90" y2="561.00" stroke="#262626" stroke-width="1.80"/>
<line x1="729.90" y1="561.40" x2="735.90" y2="561.40" stroke="#262626" stroke-width="1.80"/>
<text transform="translate(702.30,529.10)" font-family="'Liberation Serif', sans-serif" font-size="8.00" font-weight="normal" text-anchor="start" fill="#777">S</text>
<text transform="translate(710.30,559.00)" font-family="'Liberation Serif', sans-serif" font-size="9.50" font-weight="normal" text-anchor="start" fill="#888">S</text>
<line x1="697.30" y1="541.00" x2="712.90" y2="541.00" stroke="#262626" stroke-width="0.85"/>
<line x1="697.30" y1="581.70" x2="712.90" y2="581.70" stroke="#262626" stroke-width="0.85"/>
<line x1="700.20" y1="541.20" x2="700.20" y2="581.50" stroke="#262626" stroke-width="0.85"/>
<polygon points="700.20,541.20 701.40,548.00 699.00,548.00" fill="#262626"/>
<polygon points="700.20,581.50 699.00,574.70 701.40,574.70" fill="#262626"/>
<text transform="translate(698.10,561.50) rotate(-90.00) scale(0.7500,1.0000)" font-family="'Liberation Sans', sans-serif" font-size="12.00" font-weight="normal" text-anchor="middle" fill="#262626" stroke="#262626" stroke-width="0.40">69.9</text>
<text transform="translate(763.40,572.00) scale(0.7500,1.0000)" font-family="'Liberation Sans', sans-serif" font-size="12.00" font-weight="normal" text-anchor="start" fill="#262626" stroke="#262626" stroke-width="0.40">ø40</text>
<polyline points="779.40,572.90 761.20,572.90 737.90,563.30" fill="none" stroke="#262626" stroke-width="0.85" stroke-linejoin="round"/>
<line x1="717.30" y1="586.50" x2="717.30" y2="621.50" stroke="#262626" stroke-width="0.85"/>
<line x1="738.50" y1="586.50" x2="738.50" y2="621.50" stroke="#262626" stroke-width="0.85"/>
<line x1="717.30" y1="619.90" x2="738.50" y2="619.90" stroke="#262626" stroke-width="0.85"/>
<polygon points="717.30,619.90 721.80,619.00 721.80,620.80" fill="#262626"/>
<polygon points="738.50,619.90 734.00,620.80 734.00,619.00" fill="#262626"/>
<text transform="translate(727.90,618.50) scale(0.7500,1.0000)" font-family="'Liberation Sans', sans-serif" font-size="12.00" font-weight="normal" text-anchor="middle" fill="#262626" stroke="#262626" stroke-width="0.40">35.7</text>
<polyline points="642.00,603.00 715.00,603.00 749.00,568.00" fill="none" stroke="#262626" stroke-width="0.85" stroke-linejoin="round"/>
<text transform="translate(641.50,599.60) scale(0.7000,1.0000)" font-family="'Liberation Sans', sans-serif" font-size="13.20" font-weight="normal" text-anchor="start" fill="#262626" textLength="104.29" lengthAdjust="spacingAndGlyphs" stroke="#262626" stroke-width="0.20">1/2-13UNC-2B</text>
<text transform="translate(652.00,612.00)" font-family="'Liberation Serif', sans-serif" font-size="8.00" font-weight="normal" text-anchor="start" fill="#3e3e3e" letter-spacing="0.50">deep 22</text>
<line x1="160.40" y1="785.40" x2="160.40" y2="873.00" stroke="#262626" stroke-width="0.85"/>
<line x1="162.60" y1="785.40" x2="162.60" y2="873.00" stroke="#262626" stroke-width="2.20"/>
<line x1="160.40" y1="785.40" x2="167.50" y2="785.40" stroke="#262626" stroke-width="0.85"/>
<line x1="160.40" y1="873.00" x2="167.50" y2="873.00" stroke="#262626" stroke-width="0.85"/>
<polyline points="178.60,777.60 167.60,777.60 167.60,880.20 178.60,880.20" fill="none" stroke="#262626" stroke-width="1.50" stroke-linejoin="round"/>
<line x1="178.60" y1="777.60" x2="178.60" y2="880.20" stroke="#262626" stroke-width="1.50"/>
<line x1="167.60" y1="788.00" x2="178.60" y2="788.00" stroke="#262626" stroke-width="1.10"/>
<line x1="167.60" y1="869.40" x2="178.60" y2="869.40" stroke="#262626" stroke-width="1.10"/>
<polyline points="178.60,777.60 201.30,771.90 230.00,771.90" fill="none" stroke="#262626" stroke-width="1.50" stroke-linejoin="round"/>
<line x1="178.80" y1="786.30" x2="200.00" y2="778.80" stroke="#262626" stroke-width="1.20"/>
<line x1="200.00" y1="772.20" x2="200.00" y2="798.80" stroke="#262626" stroke-width="1.20"/>
<line x1="203.00" y1="772.20" x2="203.00" y2="777.50" stroke="#262626" stroke-width="1.00"/>
<path transform="translate(5.00,595.00)" d="M195 183.20 H204 C212 183.60 214.5 188.00 213 192.00 C211.5 197.50 206 202.50 200 203.80 H173.8" fill="none" stroke="#262626" stroke-width="1.30" stroke-linecap="butt" stroke-linejoin="round"/>
<path transform="translate(5.00,595.00)" d="M173.8 194.40 H198 C205 194.20 209 191.50 210.5 187.50" fill="none" stroke="#262626" stroke-width="1.20" stroke-linecap="butt" stroke-linejoin="round"/>
<line x1="215.30" y1="782.50" x2="215.30" y2="792.00" stroke="#262626" stroke-width="1.00"/>
<line x1="205.30" y1="798.80" x2="205.30" y2="828.60" stroke="#262626" stroke-width="1.20"/>
<polyline points="178.60,879.60 201.30,885.30 230.00,885.30" fill="none" stroke="#262626" stroke-width="1.50" stroke-linejoin="round"/>
<line x1="178.80" y1="870.90" x2="200.00" y2="878.40" stroke="#262626" stroke-width="1.20"/>
<line x1="200.00" y1="885.00" x2="200.00" y2="858.40" stroke="#262626" stroke-width="1.20"/>
<line x1="203.00" y1="885.00" x2="203.00" y2="879.70" stroke="#262626" stroke-width="1.00"/>
<path transform="translate(5.00,595.00)" d="M195 284.00 H204 C212 283.60 214.5 279.20 213 275.20 C211.5 269.70 206 264.70 200 263.40 H173.8" fill="none" stroke="#262626" stroke-width="1.30" stroke-linecap="butt" stroke-linejoin="round"/>
<path transform="translate(5.00,595.00)" d="M173.8 272.80 H198 C205 273.00 209 275.70 210.5 279.70" fill="none" stroke="#262626" stroke-width="1.20" stroke-linecap="butt" stroke-linejoin="round"/>
<line x1="215.30" y1="874.70" x2="215.30" y2="865.20" stroke="#262626" stroke-width="1.00"/>
<line x1="205.30" y1="858.40" x2="205.30" y2="828.60" stroke="#262626" stroke-width="1.20"/>
<path transform="translate(5.00,595.00)" d="M197 177.8 H224.5" fill="none" stroke="#262626" stroke-width="2.00" stroke-linecap="butt" stroke-linejoin="round"/>
<path transform="translate(5.00,595.00)" d="M199 180.6 C206 182 216 182 222.5 178.4" fill="none" stroke="#262626" stroke-width="2.00" stroke-linecap="butt" stroke-linejoin="round" stroke-dasharray="3.6 1.3"/>
<path transform="translate(5.00,595.00)" d="M197 289.4 H224.5" fill="none" stroke="#262626" stroke-width="2.00" stroke-linecap="butt" stroke-linejoin="round"/>
<path transform="translate(5.00,595.00)" d="M199 286.6 C206 285.2 216 285.2 222.5 288.8" fill="none" stroke="#262626" stroke-width="2.00" stroke-linecap="butt" stroke-linejoin="round" stroke-dasharray="3.6 1.3"/>
<line x1="124.00" y1="828.60" x2="345.00" y2="828.60" stroke="#262626" stroke-width="0.85" stroke-dasharray="10 2 2 2"/>
<ellipse cx="234.60" cy="802.60" rx="15.40" ry="13.80" fill="none" stroke="#262626" stroke-width="1.50"/>
<ellipse cx="234.60" cy="802.20" rx="13.40" ry="11.80" fill="none" stroke="#262626" stroke-width="1.10"/>
<circle cx="234.40" cy="800.60" r="7.20" fill="none" stroke="#262626" stroke-width="1.50"/>
<ellipse cx="234.40" cy="802.60" rx="4.50" ry="2.70" fill="none" stroke="#262626" stroke-width="1.10"/>
<line x1="217.90" y1="800.60" x2="250.90" y2="800.60" stroke="#262626" stroke-width="0.70"/>
<line x1="234.40" y1="787.60" x2="234.40" y2="813.60" stroke="#262626" stroke-width="0.70"/>
<path transform="translate(5.00,595.00)" d="M217 215 C219 220 222.5 222.5 225.6 223.4 V245.10" fill="none" stroke="#262626" stroke-width="1.30" stroke-linecap="butt" stroke-linejoin="round"/>
<path transform="translate(5.00,595.00)" d="M244 210.5 L233.5 221.5" fill="none" stroke="#262626" stroke-width="1.20" stroke-linecap="butt" stroke-linejoin="round"/>
<line x1="237.80" y1="815.00" x2="237.80" y2="819.00" stroke="#262626" stroke-width="1.00"/>
<line x1="249.60" y1="797.20" x2="264.00" y2="797.20" stroke="#262626" stroke-width="1.20"/>
<line x1="244.50" y1="813.40" x2="272.00" y2="813.40" stroke="#262626" stroke-width="1.20"/>
<circle cx="235.00" cy="855.60" r="13.80" fill="none" stroke="#262626" stroke-width="1.50"/>
<path transform="translate(5.00,595.00)" d="M216.6 264 C213 252 219 243 229 245.2 C235 244 241 248 243 253" fill="none" stroke="#262626" stroke-width="1.30" stroke-linecap="butt" stroke-linejoin="round"/>
<line x1="247.00" y1="843.80" x2="266.00" y2="843.80" stroke="#262626" stroke-width="1.20"/>
<line x1="249.00" y1="855.60" x2="266.00" y2="855.60" stroke="#262626" stroke-width="1.20"/>
<line x1="248.00" y1="860.60" x2="261.00" y2="860.60" stroke="#262626" stroke-width="1.20"/>
<line x1="231.30" y1="828.60" x2="231.30" y2="841.00" stroke="#262626" stroke-width="1.20"/>
<polyline points="178.80,880.20 185.60,884.60 261.00,884.60" fill="none" stroke="#262626" stroke-width="1.50" stroke-linejoin="round"/>
<line x1="187.00" y1="883.20" x2="205.00" y2="883.20" stroke="#262626" stroke-width="1.60"/>
<polyline points="230.00,771.90 258.80,771.90 265.60,765.60 278.00,765.60" fill="none" stroke="#262626" stroke-width="1.50" stroke-linejoin="round"/>
<polyline points="258.80,771.90 262.50,792.50 272.00,792.50" fill="none" stroke="#262626" stroke-width="1.20" stroke-linejoin="round"/>
<line x1="262.50" y1="800.00" x2="272.00" y2="800.00" stroke="#262626" stroke-width="1.10"/>
<line x1="265.80" y1="765.60" x2="265.80" y2="800.00" stroke="#262626" stroke-width="1.30"/>
<line x1="266.60" y1="813.80" x2="266.60" y2="890.60" stroke="#262626" stroke-width="1.30"/>
<line x1="272.60" y1="765.60" x2="272.60" y2="890.60" stroke="#262626" stroke-width="1.50"/>
<line x1="266.60" y1="802.50" x2="272.60" y2="802.50" stroke="#262626" stroke-width="1.00"/>
<line x1="266.60" y1="844.40" x2="272.60" y2="844.40" stroke="#262626" stroke-width="1.00"/>
<line x1="266.60" y1="855.00" x2="272.60" y2="855.00" stroke="#262626" stroke-width="1.00"/>
<line x1="266.60" y1="866.30" x2="272.60" y2="866.30" stroke="#262626" stroke-width="1.00"/>
<line x1="261.00" y1="860.60" x2="266.60" y2="860.60" stroke="#262626" stroke-width="1.20"/>
<polyline points="261.00,860.60 259.50,884.60" fill="none" stroke="#262626" stroke-width="1.20" stroke-linejoin="round"/>
<path transform="translate(5.00,595.00)" d="M256 289.6 C259 290 260 293 261.6 295.6 H318" fill="none" stroke="#262626" stroke-width="1.50" stroke-linecap="butt" stroke-linejoin="round"/>
<line x1="301.50" y1="765.60" x2="317.00" y2="765.60" stroke="#262626" stroke-width="1.50"/>
<path transform="translate(5.00,595.00)" d="M312 170.6 V186 Q311.5 192 307 195.5 L304.5 200" fill="none" stroke="#262626" stroke-width="1.40" stroke-linecap="butt" stroke-linejoin="round"/>
<path transform="translate(5.00,595.00)" d="M308 170.6 V185 Q307.5 190 304 194" fill="none" stroke="#262626" stroke-width="1.00" stroke-linecap="butt" stroke-linejoin="round"/>
<path transform="translate(5.00,595.00)" d="M301.5 170.6 L304 195" fill="none" stroke="#262626" stroke-width="1.00" stroke-linecap="butt" stroke-linejoin="round"/>
<line x1="311.20" y1="795.00" x2="311.20" y2="857.00" stroke="#262626" stroke-width="2.60"/>
<path transform="translate(5.00,595.00)" d="M306.2 240 Q306.5 258 312 266 L318 274.5 V295.6" fill="none" stroke="#262626" stroke-width="2.20" stroke-linecap="butt" stroke-linejoin="round"/>
<path transform="translate(5.00,595.00)" d="M303.5 212 V258" fill="none" stroke="#262626" stroke-width="1.00" stroke-linecap="butt" stroke-linejoin="round"/>
<rect x="307.60" y="820.80" width="19.60" height="15.00" rx="0.00" fill="none" stroke="#262626" stroke-width="1.30"/>
<line x1="312.60" y1="820.80" x2="312.60" y2="835.80" stroke="#262626" stroke-width="1.10"/>
<polyline points="274.40,850.60 274.40,882.50 288.00,882.50 292.50,877.40 318.50,877.40" fill="none" stroke="#262626" stroke-width="1.30" stroke-linejoin="round"/>
<line x1="311.40" y1="877.40" x2="311.40" y2="890.60" stroke="#262626" stroke-width="1.20"/>
<line x1="320.00" y1="869.00" x2="320.00" y2="890.60" stroke="#262626" stroke-width="1.10"/>
<line x1="288.00" y1="856.00" x2="288.00" y2="877.40" stroke="#262626" stroke-width="1.30"/>
<line x1="291.80" y1="859.00" x2="291.80" y2="876.00" stroke="#262626" stroke-width="1.10"/>
<line x1="288.00" y1="856.00" x2="305.00" y2="856.00" stroke="#262626" stroke-width="1.10"/>
<line x1="291.80" y1="859.00" x2="306.00" y2="859.00" stroke="#262626" stroke-width="1.10"/>
<line x1="291.80" y1="862.00" x2="308.00" y2="862.00" stroke="#262626" stroke-width="1.10"/>
<line x1="291.80" y1="865.60" x2="311.00" y2="865.60" stroke="#262626" stroke-width="1.10"/>
<line x1="291.80" y1="869.00" x2="314.00" y2="869.00" stroke="#262626" stroke-width="1.10"/>
<line x1="291.80" y1="872.00" x2="316.00" y2="872.00" stroke="#262626" stroke-width="1.10"/>
<line x1="291.80" y1="876.00" x2="318.00" y2="876.00" stroke="#262626" stroke-width="1.10"/>
<path transform="translate(5.00,595.00)" d="M300 261 Q305 262 307 266 L313.5 276" fill="none" stroke="#262626" stroke-width="1.20" stroke-linecap="butt" stroke-linejoin="round"/>
<line x1="298.40" y1="859.00" x2="298.40" y2="891.00" stroke="#262626" stroke-width="0.80" stroke-dasharray="3 1.5"/>
<rect x="286.70" y="750.60" width="5.00" height="5.80" rx="0.00" fill="#a0a0a0" stroke="#262626" stroke-width="1.10"/>
<rect x="284.80" y="756.30" width="9.30" height="5.00" rx="0.00" fill="#c0c0c0" stroke="#262626" stroke-width="1.20"/>
<line x1="289.20" y1="750.60" x2="289.20" y2="761.00" stroke="#262626" stroke-width="0.80"/>
<path transform="translate(5.00,595.00)" d="M273.00 192 V169.5 Q273.00 166.4 275.80 166.4 H293.80 Q296.60 166.4 296.60 169.5 V192" fill="none" stroke="#262626" stroke-width="1.40" stroke-linecap="butt" stroke-linejoin="round"/>
<line x1="282.20" y1="762.00" x2="282.20" y2="787.00" stroke="#262626" stroke-width="1.00"/>
<line x1="285.90" y1="762.00" x2="285.90" y2="787.00" stroke="#262626" stroke-width="1.20"/>
<line x1="288.80" y1="762.00" x2="288.80" y2="787.00" stroke="#262626" stroke-width="2.00"/>
<line x1="292.80" y1="762.00" x2="292.80" y2="787.00" stroke="#262626" stroke-width="2.00"/>
<line x1="296.40" y1="762.00" x2="296.40" y2="787.00" stroke="#262626" stroke-width="1.00"/>
<line x1="300.00" y1="762.00" x2="300.00" y2="787.00" stroke="#262626" stroke-width="0.90"/>
<line x1="290.80" y1="765.00" x2="290.80" y2="785.00" stroke="#262626" stroke-width="0.90" stroke-dasharray="3 1.5"/>
<path transform="translate(5.00,595.00)" d="M271.80 192 H297.80 M273.00 192 V198 L269.80 204 V212 M296.60 192 V198 L299.40 204 V212" fill="none" stroke="#262626" stroke-width="1.30" stroke-linecap="butt" stroke-linejoin="round"/>
<path transform="translate(5.00,595.00)" d="M276.80 193 C278.30 199 278.30 206 276.80 212 M292.80 193 C291.30 199 291.30 206 292.80 212" fill="none" stroke="#262626" stroke-width="1.00" stroke-linecap="butt" stroke-linejoin="round"/>
<line x1="279.30" y1="792.00" x2="279.30" y2="806.00" stroke="#262626" stroke-width="1.60"/>
<line x1="300.40" y1="792.00" x2="300.40" y2="806.00" stroke="#262626" stroke-width="1.60"/>
<line x1="289.80" y1="788.00" x2="289.80" y2="806.00" stroke="#262626" stroke-width="0.90" stroke-dasharray="4 2"/>
<path transform="translate(5.00,595.00)" d="M278.80 196 L282.80 201 M281.80 201 H288.80 M286.40 197 V205" fill="none" stroke="#262626" stroke-width="0.90" stroke-linecap="butt" stroke-linejoin="round"/>
<rect x="273.00" y="807.00" width="35.00" height="43.00" rx="3.20" fill="none" stroke="#262626" stroke-width="1.50"/>
<circle cx="279.20" cy="815.60" r="3.40" fill="#8a8a8a" stroke="#262626" stroke-width="2.30"/>
<circle cx="279.20" cy="815.60" r="1.00" fill="#262626" stroke="#262626" stroke-width="0.80"/>
<circle cx="300.20" cy="815.60" r="3.40" fill="#8a8a8a" stroke="#262626" stroke-width="2.30"/>
<circle cx="300.20" cy="815.60" r="1.00" fill="#262626" stroke="#262626" stroke-width="0.80"/>
<circle cx="279.20" cy="840.00" r="3.40" fill="#8a8a8a" stroke="#262626" stroke-width="2.30"/>
<circle cx="279.20" cy="840.00" r="1.00" fill="#262626" stroke="#262626" stroke-width="0.80"/>
<circle cx="300.20" cy="840.00" r="3.40" fill="#8a8a8a" stroke="#262626" stroke-width="2.30"/>
<circle cx="300.20" cy="840.00" r="1.00" fill="#262626" stroke="#262626" stroke-width="0.80"/>
<line x1="284.10" y1="809.00" x2="284.10" y2="845.00" stroke="#262626" stroke-width="1.20"/>
<line x1="287.80" y1="809.00" x2="287.80" y2="845.00" stroke="#262626" stroke-width="1.00"/>
<line x1="292.80" y1="809.00" x2="292.80" y2="845.00" stroke="#262626" stroke-width="1.00"/>
<line x1="295.80" y1="809.00" x2="295.80" y2="845.00" stroke="#262626" stroke-width="1.20"/>
<rect x="288.80" y="811.00" width="3.00" height="32.00" rx="0.00" fill="#9a9a9a" stroke="none" stroke-width="0.00"/>
<path transform="translate(5.00,595.00)" d="M276.30 224 Q278.80 229 279.10 233 M293.10 224 Q290.80 229 290.80 233 M276.30 241.6 Q278.80 237 279.10 233 M293.10 241.6 Q290.80 237 290.80 233" fill="none" stroke="#262626" stroke-width="1.20" stroke-linecap="butt" stroke-linejoin="round"/>
<line x1="284.10" y1="845.00" x2="295.80" y2="845.00" stroke="#262626" stroke-width="1.20"/>
<rect x="284.10" y="845.00" width="13.80" height="5.00" rx="0.00" fill="none" stroke="#262626" stroke-width="1.10"/>
<path transform="translate(5.00,595.00)" d="M280.80 255 L282.30 258.6 H288.80 L290.40 255" fill="none" stroke="#262626" stroke-width="1.30" stroke-linecap="butt" stroke-linejoin="round"/>
<line x1="287.30" y1="852.00" x2="293.80" y2="852.00" stroke="#262626" stroke-width="1.40"/>
<line x1="160.40" y1="760.50" x2="160.40" y2="785.40" stroke="#262626" stroke-width="0.85"/>
<line x1="234.60" y1="760.00" x2="234.60" y2="787.00" stroke="#262626" stroke-width="0.85"/>
<line x1="167.50" y1="760.50" x2="167.50" y2="777.60" stroke="#262626" stroke-width="0.85"/>
<line x1="144.00" y1="763.00" x2="160.40" y2="763.00" stroke="#262626" stroke-width="0.85"/>
<polygon points="160.40,763.00 153.60,764.20 153.60,761.80" fill="#262626"/>
<line x1="167.50" y1="763.00" x2="234.60" y2="763.00" stroke="#262626" stroke-width="0.85"/>
<polygon points="167.50,763.00 174.30,761.80 174.30,764.20" fill="#262626"/>
<polygon points="234.60,763.00 227.80,764.20 227.80,761.80" fill="#262626"/>
<text transform="translate(164.00,762.00) scale(0.7500,1.0000)" font-family="'Liberation Sans', sans-serif" font-size="12.00" font-weight="normal" text-anchor="middle" fill="#262626" stroke="#262626" stroke-width="0.40">9</text>
<text transform="translate(201.50,761.60) scale(0.7500,1.0000)" font-family="'Liberation Sans', sans-serif" font-size="12.00" font-weight="normal" text-anchor="middle" fill="#262626" stroke="#262626" stroke-width="0.40">95</text>
<line x1="192.40" y1="829.60" x2="192.40" y2="880.00" stroke="#262626" stroke-width="0.85"/>
<polygon points="192.40,829.60 193.60,836.40 191.20,836.40" fill="#262626"/>
<polygon points="192.40,880.00 191.20,873.20 193.60,873.20" fill="#262626"/>
<text transform="translate(190.40,844.40) rotate(-90.00) scale(0.7500,1.0000)" font-family="'Liberation Sans', sans-serif" font-size="12.00" font-weight="normal" text-anchor="middle" fill="#262626" stroke="#262626" stroke-width="0.40">78.5</text>
<line x1="168.20" y1="880.20" x2="168.20" y2="935.00" stroke="#262626" stroke-width="0.85"/>
<line x1="179.80" y1="880.20" x2="179.80" y2="901.50" stroke="#262626" stroke-width="0.85"/>
<line x1="131.00" y1="899.00" x2="168.20" y2="899.00" stroke="#262626" stroke-width="0.85"/>
<polygon points="168.20,899.00 161.40,900.20 161.40,897.80" fill="#262626"/>
<line x1="179.80" y1="899.00" x2="196.00" y2="899.00" stroke="#262626" stroke-width="0.85"/>
<polygon points="179.80,899.00 186.60,897.80 186.60,900.20" fill="#262626"/>
<text transform="translate(141.50,897.60) scale(0.7500,1.0000)" font-family="'Liberation Sans', sans-serif" font-size="12.00" font-weight="normal" text-anchor="middle" fill="#262626" stroke="#262626" stroke-width="0.40">15.5</text>
<line x1="200.20" y1="884.60" x2="200.20" y2="917.00" stroke="#262626" stroke-width="0.85"/>
<line x1="168.50" y1="914.00" x2="200.20" y2="914.00" stroke="#262626" stroke-width="0.85"/>
<polygon points="168.50,914.00 175.30,912.80 175.30,915.20" fill="#262626"/>
<polygon points="200.20,914.00 193.40,915.20 193.40,912.80" fill="#262626"/>
<text transform="translate(185.00,912.00) scale(0.7500,1.0000)" font-family="'Liberation Sans', sans-serif" font-size="12.00" font-weight="normal" text-anchor="middle" fill="#262626" stroke="#262626" stroke-width="0.40">45</text>
<line x1="298.40" y1="891.00" x2="298.40" y2="922.00" stroke="#262626" stroke-width="0.85" stroke-dasharray="3 1.5"/>
<line x1="168.50" y1="919.40" x2="298.40" y2="919.40" stroke="#262626" stroke-width="0.85"/>
<polygon points="168.50,919.40 175.30,918.20 175.30,920.60" fill="#262626"/>
<polygon points="298.40,919.40 291.60,920.60 291.60,918.20" fill="#262626"/>
<text transform="translate(235.00,917.60) scale(0.7500,1.0000)" font-family="'Liberation Sans', sans-serif" font-size="12.00" font-weight="normal" text-anchor="middle" fill="#262626" stroke="#262626" stroke-width="0.40">184</text>
<line x1="327.00" y1="836.00" x2="327.00" y2="935.00" stroke="#262626" stroke-width="0.85"/>
<line x1="168.50" y1="932.40" x2="327.00" y2="932.40" stroke="#262626" stroke-width="0.85"/>
<polygon points="168.50,932.40 175.30,931.20 175.30,933.60" fill="#262626"/>
<polygon points="327.00,932.40 320.20,933.60 320.20,931.20" fill="#262626"/>
<text transform="translate(248.00,931.00) scale(0.7500,1.0000)" font-family="'Liberation Sans', sans-serif" font-size="12.00" font-weight="normal" text-anchor="middle" fill="#262626" stroke="#262626" stroke-width="0.40">224</text>
<line x1="317.00" y1="765.60" x2="345.00" y2="765.60" stroke="#262626" stroke-width="0.85"/>
<line x1="327.00" y1="828.60" x2="345.00" y2="828.60" stroke="#262626" stroke-width="0.85"/>
<line x1="323.00" y1="890.80" x2="345.00" y2="890.80" stroke="#262626" stroke-width="0.85"/>
<line x1="341.80" y1="765.80" x2="341.80" y2="828.40" stroke="#262626" stroke-width="0.85"/>
<polygon points="341.80,765.80 343.00,772.60 340.60,772.60" fill="#262626"/>
<polygon points="341.80,828.40 340.60,821.60 343.00,821.60" fill="#262626"/>
<line x1="341.80" y1="828.80" x2="341.80" y2="890.60" stroke="#262626" stroke-width="0.85"/>
<polygon points="341.80,828.80 343.00,835.60 340.60,835.60" fill="#262626"/>
<polygon points="341.80,890.60 340.60,883.80 343.00,883.80" fill="#262626"/>
<text transform="translate(339.60,796.50) rotate(-90.00) scale(0.7500,1.0000)" font-family="'Liberation Sans', sans-serif" font-size="12.00" font-weight="normal" text-anchor="middle" fill="#262626" stroke="#262626" stroke-width="0.40">90</text>
<text transform="translate(339.60,859.50) rotate(-90.00) scale(0.7500,1.0000)" font-family="'Liberation Sans', sans-serif" font-size="12.00" font-weight="normal" text-anchor="middle" fill="#262626" stroke="#262626" stroke-width="0.40">90</text>
<text transform="translate(239.50,786.50)" font-family="'Liberation Serif', sans-serif" font-size="8.00" font-weight="normal" text-anchor="start" fill="#3e3e3e">L</text>
<text transform="translate(202.50,896.00)" font-family="'Liberation Serif', sans-serif" font-size="8.00" font-weight="normal" text-anchor="start" fill="#3e3e3e">L1</text>
<text transform="translate(304.40,901.30)" font-family="'Liberation Serif', sans-serif" font-size="8.50" font-weight="normal" text-anchor="start" fill="#3e3e3e">S</text>
<text transform="translate(303.80,754.40)" font-family="'Liberation Serif', sans-serif" font-size="8.00" font-weight="normal" text-anchor="start" fill="#3e3e3e">B</text>
<line x1="297.60" y1="751.00" x2="297.60" y2="759.00" stroke="#262626" stroke-width="0.80"/>
<text transform="translate(235.00,837.00)" font-family="'Liberation Serif', sans-serif" font-size="8.00" font-weight="normal" text-anchor="start" fill="#3e3e3e" letter-spacing="0.50">M22x1.5</text>
<line x1="236.00" y1="807.00" x2="241.50" y2="829.00" stroke="#262626" stroke-width="0.80"/>
<polyline points="203.80,885.00 225.00,897.00 261.00,897.00" fill="none" stroke="#262626" stroke-width="0.85" stroke-linejoin="round"/>
<text transform="translate(228.00,894.60)" font-family="'Liberation Serif', sans-serif" font-size="8.00" font-weight="normal" text-anchor="start" fill="#3e3e3e" letter-spacing="0.50">M22x1.5</text>
<rect x="135.20" y="819.40" width="21.00" height="18.20" rx="0.00" fill="none" stroke="#262626" stroke-width="1.60"/>
<polyline points="156.20,820.40 159.60,820.40 159.60,836.60 156.20,836.60" fill="none" stroke="#262626" stroke-width="1.20" stroke-linejoin="round"/>
<path transform="translate(0.00,0.00)" d="M136 822.6 H147.5 L152.5 828.6 L147.5 834.6 H136" fill="none" stroke="#262626" stroke-width="1.30" stroke-linecap="butt" stroke-linejoin="round"/>
<path transform="translate(0.00,0.00)" d="M137 824.6 H146 L149.4 828.6 L146 832.6 H137" fill="none" stroke="#262626" stroke-width="1.00" stroke-linecap="butt" stroke-linejoin="round"/>
<line x1="137.00" y1="826.60" x2="146.00" y2="826.60" stroke="#262626" stroke-width="1.40" stroke-dasharray="1.5 1"/>
<line x1="137.00" y1="830.40" x2="146.00" y2="830.40" stroke="#262626" stroke-width="1.40" stroke-dasharray="1.5 1"/>
<rect x="140.00" y="826.40" width="4.60" height="4.40" rx="0.00" fill="none" stroke="#262626" stroke-width="0.80"/>
<line x1="84.40" y1="785.30" x2="160.40" y2="785.30" stroke="#262626" stroke-width="0.85"/>
<line x1="85.00" y1="873.00" x2="160.40" y2="873.00" stroke="#262626" stroke-width="0.85"/>
<line x1="87.00" y1="785.50" x2="87.00" y2="872.80" stroke="#262626" stroke-width="0.85"/>
<polygon points="87.00,785.50 88.20,792.30 85.80,792.30" fill="#262626"/>
<polygon points="87.00,872.80 85.80,866.00 88.20,866.00" fill="#262626"/>
<text transform="translate(80.40,855.50) rotate(-90.00) scale(0.7500,1.0000)" font-family="'Liberation Sans', sans-serif" font-size="12.00" font-weight="normal" text-anchor="start" fill="#262626" stroke="#262626" stroke-width="0.40">ø125</text>
<text transform="translate(86.00,832.50) rotate(-90.00) scale(0.7500,1.0000)" font-family="'Liberation Sans', sans-serif" font-size="12.00" font-weight="normal" text-anchor="start" fill="#262626" stroke="#262626" stroke-width="0.40">_0.063</text>
<text transform="translate(75.60,828.00) rotate(-90.00) scale(0.7500,1.0000)" font-family="'Liberation Sans', sans-serif" font-size="12.00" font-weight="normal" text-anchor="start" fill="#262626" stroke="#262626" stroke-width="0.40">0</text>
<line x1="103.60" y1="820.00" x2="135.20" y2="820.00" stroke="#262626" stroke-width="0.85"/>
<line x1="103.60" y1="838.00" x2="135.20" y2="838.00" stroke="#262626" stroke-width="0.85"/>
<line x1="106.40" y1="803.50" x2="106.40" y2="820.00" stroke="#262626" stroke-width="0.85"/>
<polygon points="106.40,820.00 105.20,813.20 107.60,813.20" fill="#262626"/>
<line x1="106.40" y1="838.00" x2="106.40" y2="855.00" stroke="#262626" stroke-width="0.85"/>
<polygon points="106.40,838.00 107.60,844.80 105.20,844.80" fill="#262626"/>
<text transform="translate(103.60,836.50) rotate(-90.00) scale(0.7500,1.0000)" font-family="'Liberation Sans', sans-serif" font-size="12.00" font-weight="normal" text-anchor="start" fill="#262626" stroke="#262626" stroke-width="0.40">ø1"</text>
<line x1="116.80" y1="810.00" x2="116.80" y2="892.00" stroke="#262626" stroke-width="0.85"/>
<polygon points="116.80,826.00 115.60,821.00 118.00,821.00" fill="#262626"/>
<polygon points="116.80,831.20 118.00,836.20 115.60,836.20" fill="#262626"/>
<line x1="113.60" y1="826.00" x2="135.20" y2="826.00" stroke="#262626" stroke-width="0.70"/>
<line x1="113.60" y1="831.20" x2="135.20" y2="831.20" stroke="#262626" stroke-width="0.70"/>
<line x1="45.00" y1="892.00" x2="116.80" y2="892.00" stroke="#262626" stroke-width="0.85"/>
<text transform="translate(45.00,888.40) scale(0.7000,1.0000)" font-family="'Liberation Sans', sans-serif" font-size="13.20" font-weight="normal" text-anchor="start" fill="#262626" textLength="100.71" lengthAdjust="spacingAndGlyphs" stroke="#262626" stroke-width="0.20">1/4-20UNC-2B</text>
<polyline points="244.00,749.40 105.00,749.40 136.00,819.00" fill="none" stroke="#262626" stroke-width="0.85" stroke-linejoin="round"/>
<line x1="136.00" y1="837.60" x2="136.00" y2="887.00" stroke="#262626" stroke-width="0.85"/>
<line x1="148.00" y1="835.00" x2="148.00" y2="852.00" stroke="#262626" stroke-width="0.85"/>
<line x1="118.00" y1="850.00" x2="136.00" y2="850.00" stroke="#262626" stroke-width="0.85"/>
<polygon points="136.00,850.00 129.20,851.20 129.20,848.80" fill="#262626"/>
<line x1="148.00" y1="850.00" x2="167.00" y2="850.00" stroke="#262626" stroke-width="0.85"/>
<polygon points="148.00,850.00 154.80,848.80 154.80,851.20" fill="#262626"/>
<text transform="translate(142.00,848.80) scale(0.7500,1.0000)" font-family="'Liberation Sans', sans-serif" font-size="12.00" font-weight="normal" text-anchor="middle" fill="#262626" stroke="#262626" stroke-width="0.40">16</text>
<line x1="136.00" y1="865.00" x2="162.40" y2="865.00" stroke="#262626" stroke-width="0.85"/>
<polygon points="136.00,865.00 142.80,863.80 142.80,866.20" fill="#262626"/>
<polygon points="162.40,865.00 155.60,866.20 155.60,863.80" fill="#262626"/>
<text transform="translate(149.00,863.60) scale(0.7500,1.0000)" font-family="'Liberation Sans', sans-serif" font-size="12.00" font-weight="normal" text-anchor="middle" fill="#262626" stroke="#262626" stroke-width="0.40">38</text>
<line x1="136.00" y1="885.00" x2="168.00" y2="885.00" stroke="#262626" stroke-width="0.85"/>
<polygon points="136.00,885.00 142.80,883.80 142.80,886.20" fill="#262626"/>
<polygon points="168.00,885.00 161.20,886.20 161.20,883.80" fill="#262626"/>
<text transform="translate(152.00,883.60) scale(0.7500,1.0000)" font-family="'Liberation Sans', sans-serif" font-size="12.00" font-weight="normal" text-anchor="middle" fill="#262626" stroke="#262626" stroke-width="0.40">45.9</text>
<text x="101 110.8 120.6" y="734.4" font-family="'Liberation Serif', 'Noto Serif CJK SC', serif" font-size="9.8" fill="#3e3e3e">压力角</text>
<text transform="translate(131.00,734.20) scale(1,1.100)" x="2.2 6.8 11.2" text-anchor="middle" font-family="'Liberation Serif', serif" font-size="9.46" fill="#3e3e3e" stroke="#3e3e3e" stroke-width="0.18">30°</text>
<text transform="translate(152.30,734.20) scale(1,1.100)" x="2.2 6.8" text-anchor="middle" font-family="'Liberation Serif', serif" font-size="9.46" fill="#3e3e3e" stroke="#3e3e3e" stroke-width="0.18">15</text>
<text x="161.2" y="734.4" font-family="'Liberation Serif', 'Noto Serif CJK SC', serif" font-size="9.8" fill="#3e3e3e">齿</text>
<text transform="translate(177.00,734.20) scale(1,1.100)" x="2.5 7.6 12.8 17.8 22.9" text-anchor="middle" font-family="'Liberation Serif', serif" font-size="9.46" fill="#3e3e3e" stroke="#3e3e3e" stroke-width="0.18">16/32</text>
<text x="202.6 212.4" y="734.4" font-family="'Liberation Serif', 'Noto Serif CJK SC', serif" font-size="9.8" fill="#3e3e3e">节距</text>
<text transform="translate(101.00,745.60) scale(1,1.100)" x="2.3 6.9 11.6 16.2 20.8 25.4 30.0 34.6 39.3 43.9 48.5 53.1 57.8 62.4 67.0 71.6 76.2 80.9 85.5 90.1 94.7 99.3 104.0 108.6 113.2 117.8 122.4 127.0 131.7 136.3 140.9" text-anchor="middle" font-family="'Liberation Serif', serif" font-size="9.24" fill="#3e3e3e" stroke="#3e3e3e" stroke-width="0.18">Pressure angle 30° 15T 16/32 DP</text>
<polyline points="517.00,786.00 517.00,773.00 506.40,773.00 506.40,881.00 517.00,881.00 517.00,849.00" fill="none" stroke="#262626" stroke-width="1.30" stroke-linejoin="round"/>
<rect x="500.40" y="789.00" width="6.00" height="75.00" rx="0.00" fill="none" stroke="#262626" stroke-width="1.20"/>
<line x1="500.20" y1="789.00" x2="500.20" y2="864.00" stroke="#262626" stroke-width="2.40"/>
<path transform="translate(0.00,0.00)" d="M503 806 Q505.5 812 505.8 819 M503 848 Q505.5 842 505.8 835" fill="none" stroke="#262626" stroke-width="0.80" stroke-linecap="butt" stroke-linejoin="round"/>
<rect x="474.00" y="818.00" width="25.40" height="17.60" rx="0.00" fill="none" stroke="#262626" stroke-width="1.50"/>
<path transform="translate(0.00,0.00)" d="M475 821.6 H487 Q493 822 493 827 Q493 832 487 832.4 H475" fill="none" stroke="#262626" stroke-width="1.20" stroke-linecap="butt" stroke-linejoin="round"/>
<path transform="translate(0.00,0.00)" d="M477 823.6 H486 Q490 824 490 827 Q490 830 486 830.4 H477" fill="none" stroke="#262626" stroke-width="1.00" stroke-linecap="butt" stroke-linejoin="round"/>
<rect x="480.00" y="825.00" width="5.00" height="4.00" rx="0.00" fill="none" stroke="#262626" stroke-width="0.80"/>
<line x1="476.80" y1="821.60" x2="476.80" y2="832.40" stroke="#262626" stroke-width="1.20"/>
<line x1="470.00" y1="827.00" x2="536.00" y2="827.00" stroke="#262626" stroke-width="0.85" stroke-dasharray="10 3 2 3"/>
<line x1="473.80" y1="799.00" x2="473.80" y2="818.00" stroke="#262626" stroke-width="0.85"/>
<line x1="488.00" y1="799.00" x2="488.00" y2="818.00" stroke="#262626" stroke-width="0.85"/>
<line x1="457.00" y1="802.00" x2="473.80" y2="802.00" stroke="#262626" stroke-width="0.85"/>
<polygon points="473.80,802.00 467.00,803.20 467.00,800.80" fill="#262626"/>
<line x1="488.00" y1="802.00" x2="498.00" y2="802.00" stroke="#262626" stroke-width="0.85"/>
<polygon points="488.00,802.00 494.80,800.80 494.80,803.20" fill="#262626"/>
<text transform="translate(480.50,800.80) scale(0.7500,1.0000)" font-family="'Liberation Sans', sans-serif" font-size="12.00" font-weight="normal" text-anchor="middle" fill="#262626" stroke="#262626" stroke-width="0.40">16</text>
<line x1="449.00" y1="818.00" x2="474.00" y2="818.00" stroke="#262626" stroke-width="0.85"/>
<line x1="449.00" y1="835.60" x2="474.00" y2="835.60" stroke="#262626" stroke-width="0.85"/>
<line x1="451.40" y1="805.00" x2="451.40" y2="818.00" stroke="#262626" stroke-width="0.85"/>
<polygon points="451.40,818.00 450.20,811.20 452.60,811.20" fill="#262626"/>
<line x1="451.40" y1="835.60" x2="451.40" y2="849.00" stroke="#262626" stroke-width="0.85"/>
<polygon points="451.40,835.60 452.60,842.40 450.20,842.40" fill="#262626"/>
<text transform="translate(448.80,834.60) rotate(-90.00) scale(0.7500,1.0000)" font-family="'Liberation Sans', sans-serif" font-size="12.00" font-weight="normal" text-anchor="start" fill="#262626" stroke="#262626" stroke-width="0.40">ø1"</text>
<line x1="485.00" y1="809.00" x2="485.00" y2="869.40" stroke="#262626" stroke-width="0.85"/>
<polygon points="485.00,821.60 483.80,816.60 486.20,816.60" fill="#262626"/>
<polygon points="485.00,832.40 486.20,837.40 483.80,837.40" fill="#262626"/>
<line x1="413.00" y1="869.40" x2="485.00" y2="869.40" stroke="#262626" stroke-width="0.85"/>
<text transform="translate(413.00,866.00) scale(0.7000,1.0000)" font-family="'Liberation Sans', sans-serif" font-size="13.20" font-weight="normal" text-anchor="start" fill="#262626" textLength="100.71" lengthAdjust="spacingAndGlyphs" stroke="#262626" stroke-width="0.20">1/4-20UNC-2B</text>
<line x1="474.00" y1="835.60" x2="474.00" y2="928.00" stroke="#262626" stroke-width="0.85"/>
<line x1="494.00" y1="835.60" x2="494.00" y2="885.00" stroke="#262626" stroke-width="0.85"/>
<line x1="401.00" y1="882.00" x2="494.00" y2="882.00" stroke="#262626" stroke-width="0.85"/>
<polygon points="474.00,882.00 479.00,880.80 479.00,883.20" fill="#262626"/>
<polygon points="494.00,882.00 489.00,883.20 489.00,880.80" fill="#262626"/>
<text transform="translate(402.00,880.80) scale(0.7500,1.0000)" font-family="'Liberation Sans', sans-serif" font-size="12.00" font-weight="normal" text-anchor="start" fill="#262626" stroke="#262626" stroke-width="0.40">29.5</text>
<text transform="translate(396.00,891.60) scale(1,1.100)" x="2.2 6.7 11.1 15.6 20.0 24.5 28.9 33.4 37.8 42.3 46.7 51.2 55.6 60.1 64.5 69.0 73.4 77.9 82.3 86.8" text-anchor="middle" font-family="'Liberation Serif', serif" font-size="9.02" fill="#3e3e3e" stroke="#3e3e3e" stroke-width="0.18">Usable spline length</text>
<text x="396 404.7 413.4 422.1 430.8 439.5" y="901.4" font-family="'Liberation Serif', 'Noto Serif CJK SC', serif" font-size="9" fill="#3e3e3e">花键有效长度</text>
<line x1="501.00" y1="864.00" x2="501.00" y2="908.50" stroke="#262626" stroke-width="0.85"/>
<line x1="507.40" y1="881.00" x2="507.40" y2="927.50" stroke="#262626" stroke-width="0.85"/>
<line x1="474.00" y1="906.60" x2="501.00" y2="906.60" stroke="#262626" stroke-width="0.85"/>
<polygon points="474.00,906.60 480.80,905.40 480.80,907.80" fill="#262626"/>
<polygon points="501.00,906.60 494.20,907.80 494.20,905.40" fill="#262626"/>
<text transform="translate(488.50,905.20) scale(0.7500,1.0000)" font-family="'Liberation Sans', sans-serif" font-size="12.00" font-weight="normal" text-anchor="middle" fill="#262626" stroke="#262626" stroke-width="0.40">38</text>
<line x1="474.00" y1="925.60" x2="507.40" y2="925.60" stroke="#262626" stroke-width="0.85"/>
<polygon points="474.00,925.60 480.80,924.40 480.80,926.80" fill="#262626"/>
<polygon points="507.40,925.60 500.60,926.80 500.60,924.40" fill="#262626"/>
<text transform="translate(487.00,924.40) scale(0.7500,1.0000)" font-family="'Liberation Sans', sans-serif" font-size="12.00" font-weight="normal" text-anchor="middle" fill="#262626" stroke="#262626" stroke-width="0.40">45.9</text>
<text transform="translate(446.00,763.00) scale(1,1.100)" x="2.3" text-anchor="middle" font-family="'Liberation Serif', serif" font-size="9.46" fill="#3e3e3e" stroke="#3e3e3e" stroke-width="0.18">R</text>
<text x="451" y="763.4" font-family="'Liberation Serif', 'Noto Serif CJK SC', serif" font-size="9.4" fill="#3e3e3e">轴</text>
<text transform="translate(470.00,763.00) scale(1,1.100)" x="2.7 8.1 13.5 18.9 24.3 29.7 35.1" text-anchor="middle" font-family="'Liberation Serif', serif" font-size="9.46" fill="#3e3e3e" stroke="#3e3e3e" stroke-width="0.18">Shaft R</text>
<text x="562.8 572.4 582" y="790.8" font-family="'Liberation Serif', 'Noto Serif CJK SC', serif" font-size="9.6" fill="#3e3e3e">压力角</text>
<text transform="translate(591.60,790.60) scale(1,1.100)" x="2.5 7.4 12.2" text-anchor="middle" font-family="'Liberation Serif', serif" font-size="9.46" fill="#3e3e3e" stroke="#3e3e3e" stroke-width="0.18">30°</text>
<text transform="translate(562.80,803.20) scale(1,1.100)" x="2.5 7.4" text-anchor="middle" font-family="'Liberation Serif', serif" font-size="9.46" fill="#3e3e3e" stroke="#3e3e3e" stroke-width="0.18">15</text>
<text x="572.6" y="803.6" font-family="'Liberation Serif', 'Noto Serif CJK SC', serif" font-size="9.6" fill="#3e3e3e">齿</text>
<text transform="translate(562.80,816.00) scale(1,1.100)" x="2.5 7.4 12.2 17.2 22.1" text-anchor="middle" font-family="'Liberation Serif', serif" font-size="9.46" fill="#3e3e3e" stroke="#3e3e3e" stroke-width="0.18">16/32</text>
<text x="587.4 597" y="816.4" font-family="'Liberation Serif', 'Noto Serif CJK SC', serif" font-size="9.6" fill="#3e3e3e">节距</text>
<text transform="translate(562.80,840.40) scale(1,1.120)" x="2.2 6.5 10.9 15.2 19.6 23.9 28.3 32.6 37.0 41.3 45.7 50.0 54.4 58.7 63.1 67.4 71.8 76.1" text-anchor="middle" font-family="'Liberation Serif', serif" font-size="9.02" fill="#3e3e3e" stroke="#3e3e3e" stroke-width="0.18">Pressure angle 30°</text>
<text transform="translate(562.80,851.00) scale(1,1.100)" x="2.5 7.4 12.2" text-anchor="middle" font-family="'Liberation Serif', serif" font-size="9.46" fill="#3e3e3e" stroke="#3e3e3e" stroke-width="0.18">15T</text>
<text transform="translate(562.80,863.60) scale(1,1.100)" x="2.5 7.4 12.2 17.2 22.1 27.0 31.9 36.8" text-anchor="middle" font-family="'Liberation Serif', serif" font-size="9.46" fill="#3e3e3e" stroke="#3e3e3e" stroke-width="0.18">16/32 DP</text>
</svg></body></html>
